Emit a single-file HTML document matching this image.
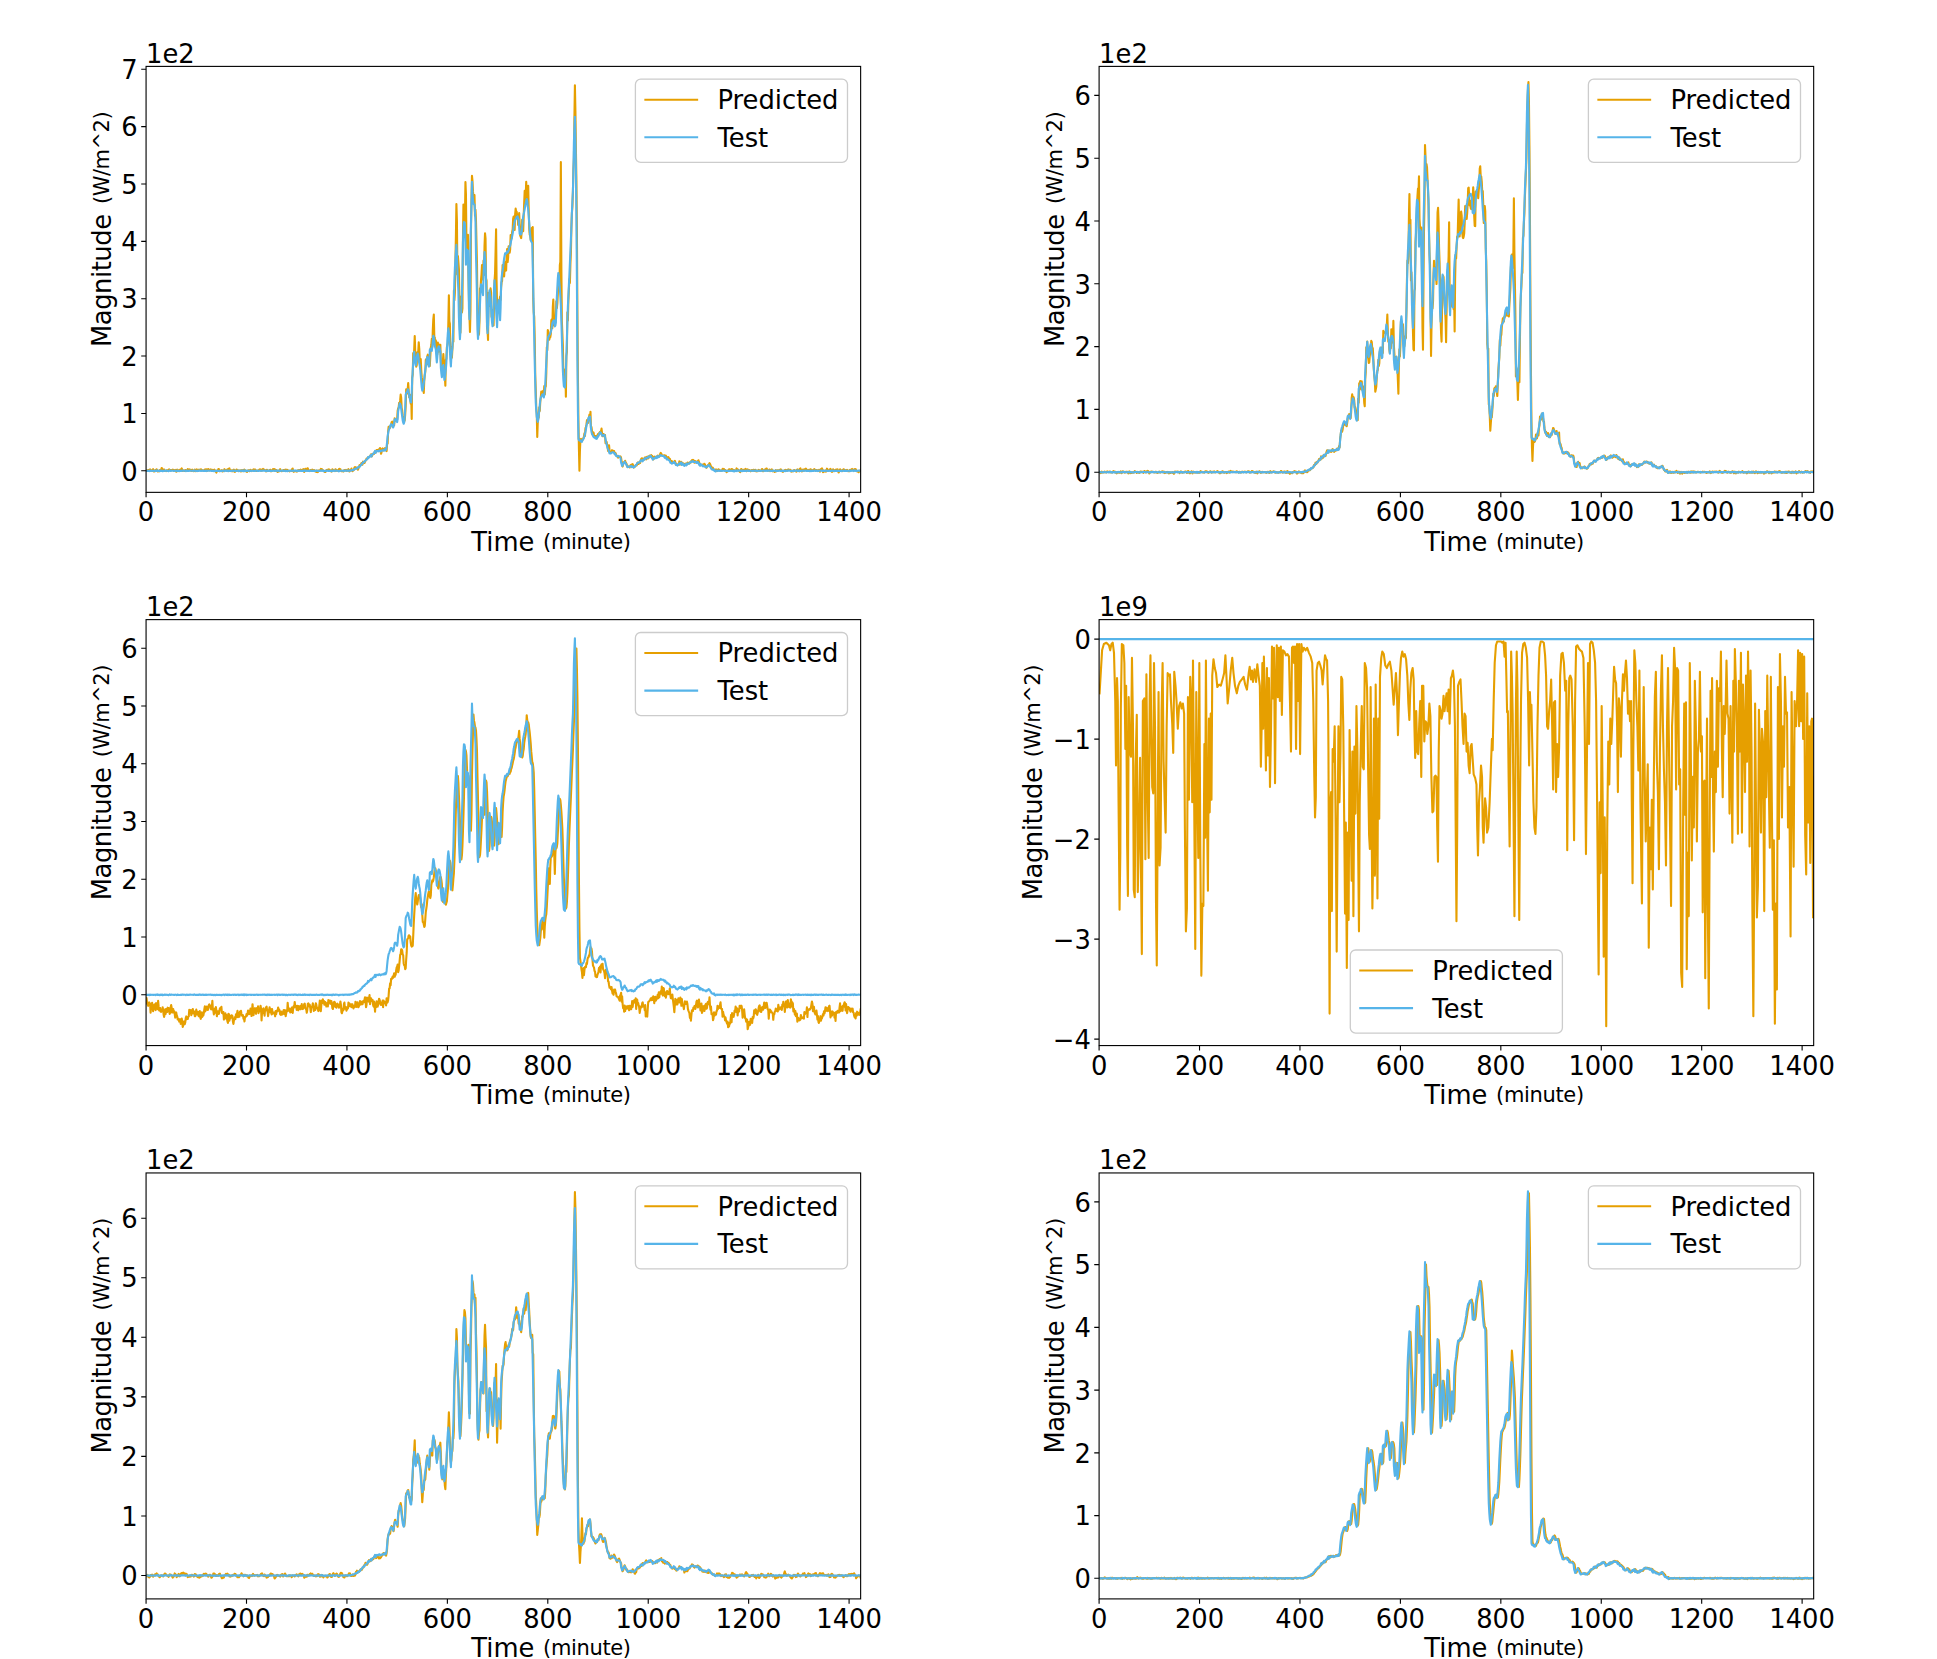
<!DOCTYPE html>
<html><head><meta charset="utf-8"><title>Predicted vs Test</title>
<style>html,body{margin:0;padding:0;background:#fff}svg{display:block}text{font-family:"DejaVu Sans","Liberation Sans",sans-serif;fill:#000}</style></head><body>
<svg width="1937" height="1659" viewBox="0 0 1937 1659">
<rect width="1937" height="1659" fill="#fff"/>
<g id="ax1">
<clipPath id="c0"><rect x="146.07" y="66.4" width="714.57" height="425.95"/></clipPath>
<g clip-path="url(#c0)">
<polyline points="146.07,470.71 146.57,470.98 147.07,470.76 147.58,470.31 148.08,470.09 148.58,470.05 149.08,470.43 149.59,470.77 150.09,469.39 150.59,469.74 151.09,470.67 151.59,470.78 152.1,471.02 152.6,470.14 153.1,469.19 153.6,470.24 154.1,471.57 154.61,470.56 155.11,470.38 155.61,470.67 156.11,469.87 156.62,469.27 157.12,470.01 157.62,471.51 158.12,471.41 158.62,471.04 159.13,471.28 159.63,470.17 160.13,470.31 160.63,470.79 161.13,469.81 161.64,468.04 162.14,468.31 162.64,469.44 163.14,470.61 163.65,470.68 164.15,469.56 164.65,470.9 165.15,471.05 165.65,471.04 166.16,471.09 166.66,470.37 167.16,470.25 167.66,470.9 168.17,470.61 168.67,469.75 169.17,469.45 169.67,470.08 170.17,470.11 170.68,469.94 171.18,470.45 171.68,470.05 172.18,469.92 172.68,469.66 173.19,469.81 173.69,470.88 174.19,470.87 174.69,470.14 175.2,469.92 175.7,470.09 176.2,471.72 176.7,471.53 177.2,469.69 177.71,470.09 178.21,470.33 178.71,470.39 179.21,471.12 179.71,470.62 180.22,469.54 180.72,470.39 181.22,469.57 181.72,468.45 182.23,469.98 182.73,470.88 183.23,470.46 183.73,470.6 184.23,470.97 184.74,470.95 185.24,470.1 185.74,470.29 186.24,470.55 186.74,470.73 187.25,470.41 187.75,469.07 188.25,469.85 188.75,470.36 189.26,469.72 189.76,469.43 190.26,469.67 190.76,469.87 191.26,471 191.77,470.79 192.27,469.61 192.77,470.78 193.27,470.7 193.78,471.25 194.28,470.7 194.78,469.57 195.28,470.7 195.78,471.21 196.29,470.47 196.79,469.39 197.29,470.52 197.79,471.03 198.29,469.87 198.8,469.72 199.3,470.02 199.8,470.1 200.3,469.6 200.81,469.24 201.31,469.55 201.81,470.27 202.31,470.27 202.81,470.36 203.32,470.76 203.82,470.4 204.32,470.14 204.82,469.49 205.32,470.02 205.83,469.34 206.33,469.25 206.83,471.07 207.33,470.56 207.84,469.31 208.34,469 208.84,469.96 209.34,470.39 209.84,470.08 210.35,469.65 210.85,469.29 211.35,469.99 211.85,470.12 212.36,469.96 212.86,469.89 213.36,470.5 213.86,470.32 214.36,469.64 214.87,470.35 215.37,471.33 215.87,471.68 216.37,472.54 216.87,471.44 217.38,470.38 217.88,470.55 218.38,469.08 218.88,468.96 219.39,470.68 219.89,471.29 220.39,470.54 220.89,470.99 221.39,470.58 221.9,470.21 222.4,471.48 222.9,470.91 223.4,471.1 223.9,470.86 224.41,469.2 224.91,469.86 225.41,470.43 225.91,470.35 226.42,470.61 226.92,470.15 227.42,469.24 227.92,470.47 228.42,471.03 228.93,468.69 229.43,468.39 229.93,470.5 230.43,470.13 230.94,470.31 231.44,471.11 231.94,470.45 232.44,470.35 232.94,471.37 233.45,470.61 233.95,469.58 234.45,471.1 234.95,471.84 235.45,470.93 235.96,470.41 236.46,469.56 236.96,469.75 237.46,470.16 237.97,470.78 238.47,471.05 238.97,470.45 239.47,470.77 239.97,470.74 240.48,470.38 240.98,471.44 241.48,471.08 241.98,470.02 242.48,470.84 242.99,471.25 243.49,470.33 243.99,469.73 244.49,469.64 245,470.17 245.5,470.77 246,471.44 246.5,471.26 247,471.99 247.51,470.89 248.01,470.36 248.51,470.47 249.01,470.36 249.51,471.13 250.02,470.41 250.52,469.74 251.02,470.85 251.52,471.07 252.03,470.47 252.53,470.38 253.03,470.19 253.53,469.33 254.03,469.83 254.54,469.95 255.04,469.42 255.54,470.45 256.04,470.92 256.55,470.94 257.05,470.6 257.55,470.89 258.05,471.04 258.55,470.3 259.06,470.11 259.56,469.45 260.06,469.32 260.56,469.7 261.06,470.8 261.57,470.75 262.07,469.67 262.57,469.28 263.07,468.95 263.58,469.55 264.08,469.63 264.58,469.9 265.08,470.11 265.58,470.62 266.09,471.42 266.59,470.03 267.09,469.76 267.59,470.87 268.09,470.63 268.6,470.94 269.1,470.7 269.6,470.2 270.1,469.81 270.61,469.79 271.11,471.32 271.61,471.09 272.11,470.74 272.61,470.42 273.12,468.96 273.62,470.32 274.12,469.74 274.62,469.09 275.13,470.92 275.63,471.04 276.13,470.03 276.63,470.05 277.13,471.53 277.64,471.94 278.14,471.64 278.64,470.81 279.14,471.33 279.64,470.24 280.15,469.15 280.65,470.76 281.15,471.08 281.65,471.26 282.16,470.66 282.66,470.52 283.16,470.91 283.66,470.05 284.16,469.9 284.67,470.74 285.17,470.41 285.67,469.59 286.17,470.04 286.67,470.09 287.18,469.74 287.68,470.66 288.18,470.84 288.68,470.62 289.19,471.01 289.69,471.33 290.19,470.83 290.69,470.64 291.19,470.84 291.7,470.91 292.2,469.07 292.7,468.59 293.2,471.32 293.71,471.79 294.21,471.11 294.71,470.95 295.21,471.15 295.71,470.8 296.22,471.09 296.72,471.63 297.22,470.79 297.72,470.38 298.22,470.16 298.73,470.88 299.23,470.55 299.73,469.95 300.23,470.07 300.74,469.6 301.24,470.21 301.74,470.19 302.24,470.32 302.74,469.78 303.25,469.1 303.75,471.07 304.25,471.9 304.75,470.07 305.25,468.81 305.76,470.56 306.26,470.55 306.76,469.49 307.26,468.56 307.77,468.3 308.27,469.96 308.77,470.79 309.27,470.59 309.77,470.63 310.28,470.31 310.78,470.02 311.28,471.02 311.78,470.83 312.28,469.6 312.79,469.86 313.29,470.56 313.79,470.98 314.29,470.12 314.8,470.38 315.3,471.45 315.8,471.58 316.3,471.87 316.8,470.53 317.31,471.15 317.81,472.11 318.31,470.56 318.81,470.52 319.32,470.56 319.82,470.73 320.32,469.94 320.82,468.95 321.32,469.31 321.83,469.1 322.33,469.72 322.83,470.08 323.33,470.73 323.83,470.77 324.34,471.44 324.84,471.95 325.34,471.98 325.84,471.51 326.35,470.09 326.85,469.87 327.35,469.7 327.85,470.04 328.35,469.85 328.86,469.41 329.36,469.84 329.86,470.26 330.36,470.29 330.86,470.61 331.37,471.63 331.87,471.23 332.37,469.36 332.87,469.76 333.38,470.3 333.88,470.67 334.38,470.85 334.88,471.07 335.38,469.21 335.89,469.58 336.39,470.72 336.89,470.17 337.39,470.69 337.9,470.65 338.4,470.14 338.9,469.26 339.4,468.73 339.9,469.1 340.41,469.31 340.91,470.71 341.41,471.14 341.91,470.99 342.41,471.18 342.92,471.32 343.42,471.53 343.92,470.55 344.42,470.05 344.93,470.47 345.43,470.18 345.93,469.9 346.43,470.82 346.93,470.29 347.44,470.37 347.94,470.73 348.44,469.17 348.94,470.37 349.44,471.47 349.95,470.33 350.45,470.36 350.95,469.69 351.45,468.55 351.96,470.39 352.46,471.06 352.96,470.3 353.46,470.34 353.96,469.6 354.47,467.45 354.97,467.04 355.47,468.46 355.97,467.68 356.48,467.47 356.98,468.38 357.48,468.85 357.98,469.7 358.48,468.26 358.99,467.21 359.49,465.29 359.99,465.1 360.49,465.03 360.99,464.21 361.5,462.99 362,463.26 362.5,464.64 363,461.65 363.51,462.18 364.01,462.58 364.51,463.01 365.01,461.54 365.51,460.88 366.02,459.84 366.52,458.56 367.02,459.1 367.52,458.75 368.02,457.44 368.53,457.14 369.03,456.67 369.53,456.59 370.03,456.36 370.54,455.45 371.04,454.31 371.54,456.36 372.04,455.94 372.54,453.95 373.05,454.39 373.55,453.7 374.05,453.93 374.55,452.33 375.05,451.31 375.56,452.61 376.06,451.9 376.56,449.96 377.06,450.01 377.57,450.48 378.07,450.08 378.57,449.5 379.07,449.58 379.57,448.61 380.08,448.01 380.58,451.2 381.08,453.69 381.58,451.88 382.09,449.12 382.59,448.48 383.09,449.39 383.59,450.34 384.09,450.1 384.6,448.38 385.1,448.02 385.6,449.53 386.1,449.49 386.6,451.06 387.11,443.79 387.61,443.58 388.11,431.94 388.61,426.96 389.12,426.59 389.62,427.32 390.12,427.72 390.62,426.28 391.12,424.59 391.63,422.2 392.13,421.64 392.63,423.53 393.13,425.25 393.63,423.82 394.14,425.32 394.64,418.22 395.14,420.17 395.64,419.8 396.15,420.66 396.65,420.76 397.15,419.58 397.65,410.72 398.15,408.56 398.66,407.46 399.16,402.88 399.66,404.08 400.16,400.45 400.67,394.54 401.17,397.73 401.67,408.1 402.17,410.2 402.67,415.14 403.18,417.56 403.68,420.84 404.18,420.25 404.68,420.78 405.18,414.67 405.69,406.07 406.19,389.39 406.69,389.99 407.19,393.46 407.7,389.11 408.2,383.17 408.7,390.85 409.2,397.28 409.7,394.5 410.21,395.1 410.71,403.68 411.21,397.27 411.71,418.97 412.21,377.78 412.72,374.62 413.22,352.95 413.72,361.55 414.22,348.8 414.73,335.98 415.23,352.08 415.73,353.47 416.23,366.72 416.73,365.19 417.24,352.29 417.74,357.83 418.24,351.79 418.74,342.29 419.25,348.78 419.75,360.27 420.25,368.38 420.75,359.12 421.25,370.31 421.76,377.42 422.26,379.89 422.76,385.32 423.26,387.09 423.76,392.91 424.27,380.42 424.77,375.43 425.27,371.92 425.77,359.92 426.28,359.22 426.78,364.3 427.28,356.31 427.78,354.69 428.28,355.87 428.79,365.38 429.29,365.71 429.79,366.03 430.29,356.68 430.79,347.68 431.3,345.01 431.8,338.74 432.3,347.08 432.8,330.17 433.31,319.34 433.81,314.51 434.31,337.21 434.81,337.44 435.31,346.43 435.82,340.3 436.32,345.79 436.82,351.19 437.32,354.28 437.82,342.43 438.33,351.59 438.83,344.3 439.33,346.73 439.83,351.34 440.34,344.69 440.84,361.28 441.34,366.21 441.84,368.05 442.34,372.72 442.85,361.82 443.35,354.11 443.85,362.58 444.35,372.67 444.86,376.54 445.36,385.72 445.86,359.71 446.36,358.97 446.86,347.31 447.37,345.18 447.87,342.84 448.37,321.56 448.87,295.25 449.37,321.34 449.88,323.74 450.38,354.04 450.88,354.49 451.38,346.99 451.89,357.69 452.39,349.07 452.89,341.97 453.39,341.66 453.89,290.45 454.4,300.28 454.9,292.73 455.4,261.72 455.9,236.52 456.4,204.03 456.91,220.19 457.41,274.56 457.91,256.01 458.41,262.57 458.92,269.25 459.42,302.17 459.92,329.48 460.42,332.64 460.92,312.6 461.43,296.28 461.93,312.35 462.43,308.36 462.93,242.31 463.44,204.56 463.94,219.12 464.44,220.95 464.94,217.59 465.44,181.95 465.95,194.28 466.45,243.93 466.95,255.2 467.45,245.98 467.95,234.74 468.46,275.48 468.96,299.67 469.46,316.21 469.96,331.86 470.47,310.78 470.97,230.34 471.47,199.61 471.97,175.8 472.47,180.8 472.98,191.66 473.48,197.31 473.98,200.21 474.48,195.03 474.98,215.63 475.49,209.9 475.99,220.97 476.49,242.56 476.99,263.63 477.5,311.08 478,330.15 478.5,335.14 479,333.86 479.5,321.05 480.01,288.27 480.51,290.1 481.01,279.88 481.51,274.28 482.02,265.13 482.52,279.45 483.02,278.5 483.52,260.5 484.02,275.07 484.53,245.53 485.03,233.29 485.53,238.51 486.03,278.17 486.53,280.8 487.04,328.15 487.54,330.45 488.04,339.93 488.54,292.78 489.05,298.5 489.55,300.9 490.05,305.85 490.55,288.41 491.05,292.12 491.56,316.86 492.06,309.9 492.56,316.67 493.06,314.41 493.56,325.4 494.07,302.96 494.57,280.53 495.07,272.71 495.57,251.71 496.08,229.27 496.58,281.13 497.08,306.06 497.58,302.27 498.08,304.15 498.59,305.28 499.09,310.08 499.59,299.79 500.09,296.58 500.59,299.85 501.1,287.96 501.6,282.09 502.1,280.99 502.6,264.94 503.11,266.57 503.61,274.48 504.11,276.42 504.61,268.28 505.11,262.04 505.62,270.66 506.12,270.5 506.62,256.21 507.12,249.11 507.63,262.05 508.13,257.51 508.63,246.35 509.13,249.49 509.63,252.81 510.14,249.47 510.64,235.15 511.14,239.2 511.64,237.83 512.14,231.97 512.65,229.45 513.15,218.67 513.65,216.52 514.15,221.9 514.66,230.07 515.16,213.99 515.66,208.54 516.16,211.99 516.66,211.63 517.17,215.28 517.67,215.55 518.17,224.92 518.67,221.42 519.17,213.08 519.68,224.09 520.18,235.75 520.68,236.56 521.18,238.12 521.69,231.2 522.19,219.8 522.69,219.78 523.19,231.12 523.69,216.38 524.2,202.35 524.7,190.71 525.2,206.38 525.7,196.4 526.21,181.83 526.71,196.18 527.21,199.36 527.71,195.27 528.21,185.74 528.72,210.1 529.22,228.55 529.72,234.57 530.22,235.73 530.72,239.93 531.23,237.12 531.73,228.07 532.23,236.66 532.73,227.11 533.24,298.91 533.74,312.45 534.24,317.03 534.74,338.69 535.24,374.84 535.75,389.26 536.25,407.95 536.75,413.03 537.25,436.95 537.75,422.66 538.26,417.7 538.76,417.65 539.26,407.32 539.76,410.91 540.27,401.67 540.77,397.38 541.27,391.62 541.77,395.15 542.27,394.11 542.78,391.2 543.28,390.71 543.78,393.53 544.28,386.02 544.79,394.37 545.29,387.82 545.79,386.09 546.29,373.26 546.79,347.35 547.3,350.14 547.8,330.02 548.3,331.73 548.8,337.75 549.3,339.64 549.81,336.78 550.31,337.13 550.81,333.73 551.31,320.2 551.82,319.25 552.32,328.23 552.82,306.8 553.32,299.61 553.82,316.25 554.33,325.51 554.83,317.69 555.33,322.68 555.83,317.04 556.33,301.39 556.84,308.09 557.34,303.39 557.84,293.81 558.34,275.68 558.85,287.43 559.35,288.27 559.85,264.88 560.35,261.87 560.85,162.15 561.36,267.43 561.86,321.26 562.36,333.36 562.86,345.22 563.36,371.34 563.87,370.34 564.37,385.22 564.87,383.18 565.37,369.18 565.88,396.62 566.38,355.77 566.88,352.09 567.38,312.38 567.88,320.59 568.39,300.61 568.89,289.42 569.39,279.07 569.89,282.89 570.4,264.59 570.9,253 571.4,227.14 571.9,213.09 572.4,206.79 572.91,191.5 573.41,169.5 573.91,159.66 574.41,117.06 574.91,85.27 575.42,111.29 575.92,149.47 576.42,181.78 576.92,233.21 577.43,313.94 577.93,378.2 578.43,421.47 578.93,448.71 579.43,470.8 579.94,450.07 580.44,439.42 580.94,438.85 581.44,440.1 581.94,439.73 582.45,440.09 582.95,439.28 583.45,437.86 583.95,436.56 584.46,433.19 584.96,435.99 585.46,428.11 585.96,427.22 586.46,424.39 586.97,420.16 587.47,419.63 587.97,422.97 588.47,420.87 588.98,417.19 589.48,414.46 589.98,419.23 590.48,411.88 590.98,428.24 591.49,427.07 591.99,430.95 592.49,434.56 592.99,432.9 593.49,432.39 594,434.7 594.5,436.24 595,436.26 595.5,436.06 596.01,436.24 596.51,438.23 597.01,435.6 597.51,435.83 598.01,434.02 598.52,434.86 599.02,433.68 599.52,432.53 600.02,431.85 600.52,433.55 601.03,431.72 601.53,428.64 602.03,433.35 602.53,436.19 603.04,435.08 603.54,434.05 604.04,435.29 604.54,436.67 605.04,435.09 605.55,443.28 606.05,441.72 606.55,441.71 607.05,444.24 607.56,446.57 608.06,450.78 608.56,451.43 609.06,445.25 609.56,451.27 610.07,452.46 610.57,452.45 611.07,452.06 611.57,451.36 612.07,450.15 612.58,451.1 613.08,451.55 613.58,450.85 614.08,450.97 614.59,453.08 615.09,454.36 615.59,453.13 616.09,454.71 616.59,455.62 617.1,455.83 617.6,455.97 618.1,457.64 618.6,456.99 619.1,456.96 619.61,456.48 620.11,456.72 620.61,456.56 621.11,458.11 621.62,461.37 622.12,464.37 622.62,466.56 623.12,464.2 623.62,462.34 624.13,462.35 624.63,462.37 625.13,460.76 625.63,462.43 626.13,463.06 626.64,464.19 627.14,466.6 627.64,465.77 628.14,466.46 628.65,466.63 629.15,467.13 629.65,467.51 630.15,466.12 630.65,465.07 631.16,465.14 631.66,464.5 632.16,464.43 632.66,464.04 633.17,465.56 633.67,467.62 634.17,466.81 634.67,466.68 635.17,465.81 635.68,465.82 636.18,464.84 636.68,465.46 637.18,463.62 637.68,462.48 638.19,464.03 638.69,463.95 639.19,462.24 639.69,462.22 640.2,462.83 640.7,460.38 641.2,458.94 641.7,458.39 642.2,458.32 642.71,459.03 643.21,459.5 643.71,459.95 644.21,458.38 644.71,457.86 645.22,457.32 645.72,458.31 646.22,459.4 646.72,457.25 647.23,456.61 647.73,457.93 648.23,458.36 648.73,457.48 649.23,455.89 649.74,455.59 650.24,456.49 650.74,455.34 651.24,455.11 651.75,457.63 652.25,456.08 652.75,458.19 653.25,459.5 653.75,458.25 654.26,456.88 654.76,456.56 655.26,457.75 655.76,457.09 656.26,457.28 656.77,456.7 657.27,456.47 657.77,455.48 658.27,456.37 658.78,456.76 659.28,456.8 659.78,456.02 660.28,453.65 660.78,452.98 661.29,453.67 661.79,454.76 662.29,455.5 662.79,455.89 663.29,455.53 663.8,455.89 664.3,455.2 664.8,455.37 665.3,456.29 665.81,455.51 666.31,457.69 666.81,458.58 667.31,457.52 667.81,457.23 668.32,457.09 668.82,457.95 669.32,458.97 669.82,458.73 670.33,460.17 670.83,461.31 671.33,461.24 671.83,460.99 672.33,462.19 672.84,461.99 673.34,462.62 673.84,461.99 674.34,461.59 674.84,460.94 675.35,462.35 675.85,464.54 676.35,464.25 676.85,464.09 677.36,464.74 677.86,464.67 678.36,464.54 678.86,464.76 679.36,461.26 679.87,461.93 680.37,464.39 680.87,462.79 681.37,461.96 681.87,463.08 682.38,463.95 682.88,463.19 683.38,463.37 683.88,464.72 684.39,465.08 684.89,464.71 685.39,463.72 685.89,464.02 686.39,464.76 686.9,464.28 687.4,462.69 687.9,462.49 688.4,463.28 688.9,463.5 689.41,463.52 689.91,462.65 690.41,461.84 690.91,462.4 691.42,460.99 691.92,460.19 692.42,460.63 692.92,459.9 693.42,459.93 693.93,461.95 694.43,462.67 694.93,461.01 695.43,461.32 695.94,462.5 696.44,461.61 696.94,462.02 697.44,461.83 697.94,461.16 698.45,460.28 698.95,461.79 699.45,463.36 699.95,463.85 700.45,465.31 700.96,464.99 701.46,464.72 701.96,464.8 702.46,465.1 702.97,464.59 703.47,464.7 703.97,464.06 704.47,463.75 704.97,464.83 705.48,465.68 705.98,467.31 706.48,467.81 706.98,466.8 707.48,465.95 707.99,465.11 708.49,464.7 708.99,464.14 709.49,463.18 710,463.89 710.5,465.19 711,466.5 711.5,468.15 712,468.76 712.51,467.57 713.01,468.03 713.51,469.31 714.01,469.84 714.52,469.93 715.02,469.94 715.52,470.2 716.02,469.42 716.52,470.06 717.03,471.17 717.53,470.24 718.03,469.48 718.53,469.37 719.03,469.83 719.54,470.33 720.04,470.27 720.54,471.05 721.04,470.91 721.55,470.5 722.05,470.33 722.55,469.04 723.05,468.79 723.55,469.22 724.06,469.17 724.56,470.28 725.06,470.75 725.56,470.03 726.06,470.75 726.57,472.26 727.07,471.54 727.57,470.9 728.07,470.72 728.58,469.7 729.08,469.25 729.58,469.58 730.08,469.76 730.58,470.02 731.09,470.47 731.59,469.13 732.09,469.08 732.59,470.23 733.1,469.94 733.6,469.92 734.1,470.04 734.6,471.08 735.1,470.82 735.61,470.88 736.11,469.86 736.61,468.44 737.11,469.29 737.61,469.94 738.12,469.55 738.62,470.2 739.12,471.02 739.62,471.55 740.13,472.19 740.63,471.15 741.13,468.95 741.63,469.3 742.13,469.61 742.64,469.86 743.14,469.87 743.64,469.79 744.14,470.57 744.64,470.51 745.15,469.19 745.65,468.92 746.15,470.46 746.65,471.23 747.16,470.12 747.66,469.39 748.16,469.92 748.66,470.39 749.16,470.08 749.67,470.21 750.17,470.81 750.67,471.3 751.17,470.86 751.67,469.98 752.18,470.5 752.68,470.47 753.18,469.73 753.68,469.75 754.19,470.98 754.69,470.93 755.19,469.83 755.69,470.18 756.19,471.36 756.7,471.3 757.2,470.66 757.7,471.19 758.2,470.58 758.71,469.87 759.21,470.31 759.71,470.94 760.21,471 760.71,470.74 761.22,470.58 761.72,469.27 762.22,469.11 762.72,471.15 763.22,471.17 763.73,470.62 764.23,470.49 764.73,469.43 765.23,469.5 765.74,469.36 766.24,468.52 766.74,468.59 767.24,470.34 767.74,470.72 768.25,470.73 768.75,470.28 769.25,469.48 769.75,470.43 770.25,471.18 770.76,470.92 771.26,469.61 771.76,469.34 772.26,470.83 772.77,471.38 773.27,471.08 773.77,470.86 774.27,471.08 774.77,471.88 775.28,471.42 775.78,470.21 776.28,470.65 776.78,471.08 777.29,470.38 777.79,470.27 778.29,470.38 778.79,470.47 779.29,470.09 779.8,469.8 780.3,470.14 780.8,469.42 781.3,469.88 781.8,471.26 782.31,471.35 782.81,471.85 783.31,471.48 783.81,471 784.32,470.96 784.82,470.18 785.32,469.88 785.82,470.27 786.32,470.67 786.83,470.19 787.33,469.9 787.83,469.91 788.33,469.44 788.83,469.87 789.34,469.88 789.84,469.77 790.34,469.68 790.84,470.36 791.35,471.52 791.85,471.63 792.35,471.11 792.85,471.23 793.35,471.12 793.86,470.25 794.36,470.04 794.86,470.84 795.36,471.21 795.87,471.01 796.37,471.64 796.87,470.02 797.37,469.44 797.87,470.62 798.38,469.76 798.88,470.26 799.38,471.38 799.88,468.93 800.38,468.34 800.89,469.79 801.39,470.74 801.89,471.44 802.39,470.76 802.9,469.56 803.4,470.56 803.9,470.77 804.4,469.49 804.9,468.93 805.41,468.97 805.91,468.66 806.41,469.21 806.91,469.69 807.41,469.87 807.92,470.36 808.42,469.94 808.92,470.56 809.42,471.15 809.93,469.91 810.43,469.2 810.93,469.4 811.43,470.14 811.93,470.34 812.44,470.53 812.94,470.13 813.44,470.09 813.94,469.5 814.44,469.17 814.95,470.21 815.45,470.73 815.95,470.05 816.45,469.97 816.96,470.08 817.46,470.52 817.96,471.1 818.46,470.89 818.96,469.82 819.47,470.38 819.97,471.66 820.47,470.42 820.97,469.08 821.48,469.01 821.98,468.29 822.48,469.54 822.98,472.11 823.48,472.01 823.99,470.79 824.49,470.7 824.99,470.6 825.49,471.31 825.99,471.71 826.5,470.2 827,468.68 827.5,469.38 828,470.99 828.51,470.85 829.01,470.62 829.51,470.36 830.01,469.13 830.51,468.94 831.02,469.92 831.52,471.16 832.02,471.87 832.52,470.51 833.02,469.27 833.53,470.24 834.03,471.15 834.53,470.98 835.03,470.12 835.54,470.54 836.04,469.6 836.54,469.46 837.04,469.81 837.54,469.29 838.05,471 838.55,472.49 839.05,471.84 839.55,470.59 840.06,469.29 840.56,469.98 841.06,470.82 841.56,470.56 842.06,471.19 842.57,470.42 843.07,469.56 843.57,469.3 844.07,469.47 844.57,469.93 845.08,470.2 845.58,470.27 846.08,470.33 846.58,470.81 847.09,469.91 847.59,470.71 848.09,471.09 848.59,471.12 849.09,471.29 849.6,470.2 850.1,469.73 850.6,470.04 851.1,470.1 851.6,469.54 852.11,468.94 852.61,469.46 853.11,470.13 853.61,470.99 854.12,469.8 854.62,469.23 855.12,469.89 855.62,469.15 856.12,469.96 856.63,471.1 857.13,471.42 857.63,471.35 858.13,471.22 858.64,472.21 859.14,471.58 859.64,470.63 860.14,470.86 860.64,471.06 861.15,469.34 861.65,468.85 862.15,468.97 862.65,469.09 863.15,470 863.66,469.6 864.16,469.36 864.66,469.68 865.16,470.23 865.67,471.92 866.17,471.5 866.67,469.97 867.17,470.42 867.67,470.03 868.18,470.2 868.68,470.74" fill="none" stroke="#E69F00" stroke-width="2.1" stroke-linejoin="round" stroke-linecap="square"/>
<polyline points="146.07,470.51 146.57,470.88 147.07,470.79 147.58,470.73 148.08,470.94 148.58,470.8 149.08,470.8 149.59,471.1 150.09,470.62 150.59,470.7 151.09,470.91 151.59,470.83 152.1,470.71 152.6,470.84 153.1,470.84 153.6,471.05 154.1,470.7 154.61,470.78 155.11,470.75 155.61,471.06 156.11,470.52 156.62,470.77 157.12,470.87 157.62,470.45 158.12,470.81 158.62,471.05 159.13,470.87 159.63,471.19 160.13,470.62 160.63,470.87 161.13,470.93 161.64,470.62 162.14,471.08 162.64,470.71 163.14,471.16 163.65,470.91 164.15,471.01 164.65,470.55 165.15,470.5 165.65,470.86 166.16,470.66 166.66,470.83 167.16,470.7 167.66,470.93 168.17,471.09 168.67,471.11 169.17,470.73 169.67,470.41 170.17,470.75 170.68,470.89 171.18,470.47 171.68,470.76 172.18,470.78 172.68,470.76 173.19,470.82 173.69,470.85 174.19,471.05 174.69,470.71 175.2,470.82 175.7,470.59 176.2,470.86 176.7,471.13 177.2,470.82 177.71,470.51 178.21,470.87 178.71,470.95 179.21,471.01 179.71,470.98 180.22,470.85 180.72,471 181.22,470.54 181.72,470.85 182.23,470.78 182.73,470.55 183.23,470.54 183.73,470.84 184.23,470.74 184.74,470.67 185.24,470.83 185.74,471.11 186.24,470.69 186.74,470.65 187.25,470.73 187.75,470.96 188.25,470.83 188.75,470.9 189.26,470.85 189.76,470.58 190.26,470.54 190.76,470.68 191.26,470.71 191.77,470.68 192.27,470.8 192.77,470.81 193.27,470.92 193.78,470.81 194.28,470.41 194.78,470.65 195.28,470.86 195.78,470.88 196.29,470.95 196.79,470.74 197.29,470.73 197.79,471.05 198.29,470.72 198.8,470.9 199.3,470.55 199.8,470.77 200.3,470.5 200.81,470.88 201.31,470.85 201.81,470.75 202.31,470.62 202.81,470.7 203.32,471.01 203.82,470.77 204.32,470.8 204.82,470.87 205.32,470.91 205.83,470.5 206.33,470.87 206.83,470.95 207.33,470.69 207.84,470.78 208.34,470.81 208.84,470.67 209.34,470.72 209.84,470.74 210.35,470.63 210.85,470.75 211.35,470.91 211.85,470.86 212.36,470.89 212.86,470.76 213.36,470.99 213.86,471.12 214.36,470.78 214.87,471.03 215.37,471.14 215.87,470.74 216.37,470.92 216.87,470.71 217.38,470.89 217.88,470.99 218.38,471.01 218.88,470.89 219.39,470.85 219.89,470.94 220.39,470.85 220.89,471.06 221.39,470.8 221.9,471.11 222.4,470.83 222.9,470.68 223.4,470.61 223.9,470.5 224.41,471.07 224.91,470.67 225.41,470.59 225.91,470.63 226.42,470.96 226.92,470.73 227.42,470.48 227.92,471.06 228.42,470.72 228.93,470.61 229.43,470.92 229.93,470.7 230.43,470.98 230.94,470.94 231.44,470.94 231.94,470.77 232.44,470.82 232.94,470.64 233.45,470.96 233.95,470.82 234.45,470.63 234.95,470.7 235.45,471.03 235.96,470.69 236.46,470.88 236.96,470.73 237.46,470.75 237.97,470.59 238.47,470.78 238.97,471.12 239.47,471.04 239.97,470.67 240.48,470.84 240.98,470.6 241.48,470.75 241.98,470.93 242.48,470.61 242.99,470.94 243.49,471.15 243.99,470.44 244.49,471.13 245,470.69 245.5,470.64 246,470.77 246.5,471.09 247,470.63 247.51,471.05 248.01,471.03 248.51,470.86 249.01,470.66 249.51,470.75 250.02,470.66 250.52,470.88 251.02,470.83 251.52,471 252.03,470.85 252.53,470.7 253.03,470.85 253.53,470.72 254.03,470.9 254.54,470.9 255.04,470.79 255.54,470.83 256.04,470.7 256.55,470.77 257.05,470.5 257.55,470.84 258.05,470.84 258.55,470.98 259.06,470.8 259.56,470.68 260.06,470.93 260.56,470.81 261.06,470.68 261.57,470.82 262.07,470.89 262.57,470.63 263.07,470.78 263.58,470.73 264.08,470.6 264.58,470.6 265.08,470.86 265.58,470.89 266.09,470.75 266.59,470.82 267.09,471.13 267.59,470.58 268.09,470.8 268.6,470.67 269.1,471 269.6,470.58 270.1,470.9 270.61,470.82 271.11,471.04 271.61,470.83 272.11,470.84 272.61,470.83 273.12,470.72 273.62,470.79 274.12,470.63 274.62,470.88 275.13,470.97 275.63,470.8 276.13,470.69 276.63,470.59 277.13,470.66 277.64,471.1 278.14,470.74 278.64,470.55 279.14,470.79 279.64,470.89 280.15,470.75 280.65,470.89 281.15,470.69 281.65,470.8 282.16,470.56 282.66,470.71 283.16,470.92 283.66,470.7 284.16,470.64 284.67,470.9 285.17,470.87 285.67,471.2 286.17,470.64 286.67,470.9 287.18,471.17 287.68,471.1 288.18,470.84 288.68,470.67 289.19,470.82 289.69,470.72 290.19,470.99 290.69,471.03 291.19,470.65 291.7,470.72 292.2,470.81 292.7,470.58 293.2,470.96 293.71,470.87 294.21,470.62 294.71,470.48 295.21,470.8 295.71,470.51 296.22,470.9 296.72,470.74 297.22,470.83 297.72,471.07 298.22,470.76 298.73,470.64 299.23,470.83 299.73,470.81 300.23,470.56 300.74,471.02 301.24,471.06 301.74,470.91 302.24,471.01 302.74,470.57 303.25,470.75 303.75,470.95 304.25,470.91 304.75,470.31 305.25,470.91 305.76,470.93 306.26,470.75 306.76,470.69 307.26,470.76 307.77,470.96 308.27,471 308.77,470.7 309.27,470.81 309.77,471.08 310.28,470.6 310.78,470.67 311.28,470.84 311.78,470.84 312.28,470.76 312.79,470.92 313.29,471.03 313.79,470.74 314.29,471.05 314.8,470.73 315.3,471.05 315.8,470.82 316.3,470.82 316.8,470.49 317.31,470.98 317.81,471.04 318.31,470.91 318.81,470.99 319.32,470.9 319.82,470.73 320.32,470.67 320.82,470.51 321.32,470.93 321.83,470.35 322.33,470.46 322.83,470.84 323.33,471.19 323.83,470.81 324.34,470.79 324.84,471.2 325.34,470.79 325.84,470.83 326.35,470.94 326.85,470.69 327.35,470.63 327.85,470.88 328.35,470.76 328.86,470.91 329.36,470.94 329.86,470.79 330.36,470.71 330.86,470.9 331.37,471.18 331.87,470.7 332.37,471.07 332.87,470.78 333.38,470.49 333.88,470.8 334.38,471 334.88,471.05 335.38,470.6 335.89,470.8 336.39,470.71 336.89,470.64 337.39,470.81 337.9,470.85 338.4,470.96 338.9,471.33 339.4,471.06 339.9,470.81 340.41,470.83 340.91,470.73 341.41,470.82 341.91,470.77 342.41,470.66 342.92,470.95 343.42,470.85 343.92,471.08 344.42,470.63 344.93,470.79 345.43,470.72 345.93,470.53 346.43,470.61 346.93,470.81 347.44,470.64 347.94,471 348.44,470.64 348.94,470.65 349.44,470.91 349.95,470.35 350.45,470.64 350.95,470.35 351.45,470.48 351.96,470.17 352.46,469.96 352.96,470.14 353.46,470.04 353.96,469.57 354.47,469.15 354.97,469.1 355.47,468.86 355.97,468.4 356.48,468.68 356.98,468.05 357.48,468.33 357.98,467.13 358.48,467.32 358.99,467.16 359.49,466.39 359.99,466.52 360.49,465.3 360.99,465.16 361.5,464.51 362,464.19 362.5,462.87 363,462.94 363.51,462.15 364.01,461.72 364.51,461.92 365.01,460.75 365.51,460.39 366.02,459.93 366.52,459.82 367.02,459.35 367.52,458.25 368.02,457.05 368.53,458.14 369.03,456.98 369.53,456.99 370.03,455.94 370.54,455.66 371.04,454.87 371.54,456.4 372.04,454.8 372.54,454.55 373.05,453.64 373.55,453.54 374.05,453.06 374.55,451.96 375.05,450.94 375.56,453.04 376.06,451.53 376.56,451 377.06,450.97 377.57,451 378.07,451.42 378.57,451.25 379.07,450.45 379.57,450.35 380.08,450.92 380.58,451.44 381.08,450.87 381.58,450.92 382.09,450.35 382.59,450.4 383.09,450.62 383.59,450.05 384.09,450.65 384.6,449.52 385.1,449.24 385.6,450.34 386.1,449.36 386.6,447.11 387.11,441.51 387.61,436.71 388.11,433.28 388.61,430.52 389.12,429.39 389.62,427.82 390.12,426.4 390.62,424.92 391.12,424.21 391.63,424.41 392.13,425.51 392.63,426.35 393.13,427.53 393.63,426.1 394.14,423.3 394.64,419.71 395.14,418.99 395.64,419.26 396.15,419.6 396.65,420.78 397.15,422.11 397.65,418.74 398.15,411.29 398.66,408.51 399.16,406.02 399.66,403.31 400.16,403.72 400.67,405.26 401.17,408.39 401.67,412.59 402.17,416.44 402.67,420.17 403.18,422.47 403.68,423.78 404.18,422.64 404.68,417.48 405.18,408.69 405.69,394.59 406.19,393.21 406.69,392.01 407.19,391.72 407.7,389.23 408.2,389.78 408.7,392.48 409.2,395.49 409.7,398.04 410.21,400.64 410.71,402.29 411.21,402.34 411.71,392.47 412.21,379.42 412.72,370.58 413.22,363.14 413.72,356.89 414.22,351.72 414.73,359.83 415.23,362.33 415.73,365.45 416.23,362.12 416.73,357.14 417.24,355.15 417.74,353.6 418.24,355.42 418.74,359.96 419.25,363.37 419.75,365.55 420.25,369.58 420.75,375.54 421.25,381.76 421.76,387.41 422.26,390.64 422.76,389.68 423.26,386.49 423.76,383.13 424.27,379.13 424.77,374.31 425.27,370.34 425.77,366.85 426.28,362.09 426.78,358.97 427.28,357 427.78,360.69 428.28,363.9 428.79,366.56 429.29,365.89 429.79,349.91 430.29,348.93 430.79,348.66 431.3,349.67 431.8,350.98 432.3,347.1 432.8,340.64 433.31,335.88 433.81,337.3 434.31,341.41 434.81,345.84 435.31,347.49 435.82,349.49 436.32,356.54 436.82,362.45 437.32,356.58 437.82,350.41 438.33,347.05 438.83,346.24 439.33,346.95 439.83,348.95 440.34,351.58 440.84,367.73 441.34,373.2 441.84,377.16 442.34,372.79 442.85,366.63 443.35,365.09 443.85,371.9 444.35,380.06 444.86,377.96 445.36,373.43 445.86,369.13 446.36,362.82 446.86,351.44 447.37,340.86 447.87,332.55 448.37,328.34 448.87,332.79 449.37,338.5 449.88,350.76 450.38,359.58 450.88,366.46 451.38,357.13 451.89,351.58 452.39,347.74 452.89,336.14 453.39,322.96 453.89,302.27 454.4,279.56 454.9,268.13 455.4,259.92 455.9,251.24 456.4,244.84 456.91,254.2 457.41,270.5 457.91,280.5 458.41,291.62 458.92,317.53 459.42,330.26 459.92,339.08 460.42,331.34 460.92,318.74 461.43,306.86 461.93,291.65 462.43,275.98 462.93,243.6 463.44,229.59 463.94,222.06 464.44,222.42 464.94,224.71 465.44,243.85 465.95,264.7 466.45,257.66 466.95,249.45 467.45,250.23 467.95,250.62 468.46,276.39 468.96,308.61 469.46,319.18 469.96,297.13 470.47,243.37 470.97,223.49 471.47,205.49 471.97,181.68 472.47,195.09 472.98,199.54 473.48,203.99 473.98,204.38 474.48,204.46 474.98,211.68 475.49,221.62 475.99,254.6 476.49,274.85 476.99,298.59 477.5,330.31 478,338.88 478.5,331.77 479,324.15 479.5,313.9 480.01,303.43 480.51,291.94 481.01,284.4 481.51,285.65 482.02,287.41 482.52,291.78 483.02,295.14 483.52,275.7 484.02,261.55 484.53,251.95 485.03,257.98 485.53,265.05 486.03,280.07 486.53,297.41 487.04,324.09 487.54,333.29 488.04,325.74 488.54,313.04 489.05,295.07 489.55,290.18 490.05,294.37 490.55,297.45 491.05,306.68 491.56,316.24 492.06,322.66 492.56,326.27 493.06,319.26 493.56,307.72 494.07,287.25 494.57,280.22 495.07,287.83 495.57,297.29 496.08,309.06 496.58,318.75 497.08,327.29 497.58,313.66 498.08,305.46 498.59,300.05 499.09,305.86 499.59,310.91 500.09,320.26 500.59,308.31 501.1,285.92 501.6,277.94 502.1,273.29 502.6,270.93 503.11,267.7 503.61,262.78 504.11,258.56 504.61,256 505.11,253.31 505.62,253.57 506.12,253.7 506.62,252.8 507.12,251.43 507.63,252.65 508.13,251.33 508.63,250.82 509.13,248.28 509.63,246.32 510.14,245.72 510.64,243.52 511.14,240.69 511.64,238.73 512.14,236.37 512.65,233.45 513.15,230.86 513.65,226.46 514.15,224.55 514.66,221.59 515.16,219.82 515.66,219.11 516.16,218.33 516.66,217.02 517.17,216.84 517.67,216.46 518.17,218.66 518.67,219.34 519.17,226.9 519.68,233.94 520.18,234.19 520.68,234.47 521.18,234.1 521.69,232.15 522.19,227.58 522.69,220.23 523.19,216.51 523.69,213.85 524.2,211.65 524.7,209.12 525.2,205.33 525.7,203.46 526.21,200.86 526.71,199.07 527.21,200.64 527.71,205.92 528.21,209.84 528.72,216.11 529.22,222.87 529.72,230.01 530.22,235.62 530.72,240.03 531.23,241.46 531.73,242.28 532.23,243.13 532.73,264.97 533.24,289.34 533.74,313.66 534.24,338.17 534.74,362.85 535.24,383.57 535.75,402.35 536.25,410.86 536.75,416.92 537.25,419.52 537.75,421.84 538.26,419.65 538.76,414.45 539.26,410.79 539.76,404.97 540.27,400.07 540.77,397.4 541.27,396.59 541.77,395.61 542.27,394.52 542.78,394.37 543.28,395.49 543.78,397.5 544.28,394.56 544.79,389.28 545.29,383.34 545.79,372.6 546.29,362.07 546.79,353.75 547.3,345.47 547.8,340.25 548.3,336.45 548.8,336.36 549.3,334.92 549.81,334.48 550.31,333.25 550.81,331.84 551.31,330.16 551.82,326.55 552.32,323.18 552.82,321.97 553.32,320.83 553.82,320.27 554.33,323.1 554.83,326.39 555.33,325.73 555.83,322.91 556.33,311.19 556.84,297.01 557.34,287.18 557.84,278.14 558.34,272.96 558.85,275.57 559.35,282.35 559.85,288.49 560.35,296.49 560.85,305.07 561.36,320.9 561.86,338.31 562.36,355.54 562.86,370.55 563.36,379.67 563.87,386.27 564.37,386.95 564.87,387.51 565.37,380.38 565.88,369.66 566.38,356.26 566.88,339.02 567.38,321.25 567.88,306.44 568.39,295.77 568.89,284.8 569.39,274.98 569.89,263.37 570.4,251.2 570.9,239.19 571.4,227.2 571.9,212.27 572.4,201.44 572.91,191.69 573.41,169.47 573.91,141.87 574.41,127.43 574.91,116.88 575.42,140.95 575.92,168.31 576.42,215.32 576.92,284.16 577.43,361.32 577.93,412.35 578.43,438.78 578.93,440.17 579.43,440.3 579.94,440.75 580.44,440.32 580.94,441.6 581.44,441.46 581.94,441.91 582.45,440.02 582.95,439.53 583.45,438.86 583.95,437.84 584.46,436.02 584.96,434.14 585.46,431.67 585.96,429.2 586.46,425.55 586.97,423.65 587.47,422.37 587.97,420.43 588.47,417.95 588.98,417.21 589.48,417.04 589.98,416.67 590.48,422.19 590.98,428.31 591.49,431.89 591.99,434.11 592.49,434.35 592.99,435.94 593.49,436.75 594,437.38 594.5,437.12 595,437.94 595.5,438.31 596.01,437.53 596.51,438.81 597.01,438.54 597.51,435.95 598.01,436.8 598.52,435.74 599.02,434.52 599.52,433.24 600.02,432.51 600.52,432.37 601.03,432.99 601.53,434.21 602.03,435.66 602.53,435.72 603.04,435.82 603.54,435.19 604.04,435.55 604.54,434.87 605.04,437.1 605.55,439.16 606.05,442.03 606.55,443.91 607.05,445.89 607.56,447.87 608.06,449.11 608.56,450.09 609.06,451.64 609.56,453.34 610.07,453.49 610.57,453.33 611.07,453.36 611.57,452.71 612.07,452.4 612.58,452.4 613.08,452.29 613.58,452.25 614.08,452.94 614.59,454.08 615.09,453.56 615.59,454.38 616.09,455.82 616.59,456.22 617.1,456.42 617.6,456.32 618.1,455.88 618.6,456.21 619.1,456.42 619.61,456.84 620.11,457.36 620.61,458.31 621.11,462.71 621.62,464.15 622.12,465.85 622.62,465.53 623.12,463.37 623.62,463.22 624.13,462.74 624.63,461.55 625.13,462.66 625.63,463.91 626.13,463.86 626.64,465.51 627.14,466.39 627.64,467.22 628.14,466.79 628.65,466.94 629.15,466.78 629.65,466.43 630.15,466.17 630.65,466.4 631.16,465.97 631.66,467.08 632.16,466.42 632.66,466.67 633.17,467.39 633.67,467.39 634.17,466.7 634.67,466.95 635.17,465.66 635.68,465.13 636.18,465.21 636.68,464.18 637.18,463.26 637.68,462.89 638.19,462.56 638.69,462.81 639.19,462.58 639.69,462.28 640.2,461.51 640.7,460.35 641.2,460.6 641.7,460.26 642.2,460.12 642.71,461.34 643.21,460.29 643.71,460.08 644.21,458.88 644.71,458.32 645.22,459.21 645.72,458.52 646.22,457.95 646.72,458.21 647.23,458.01 647.73,457.76 648.23,456.72 648.73,457.44 649.23,456.28 649.74,456.73 650.24,456.3 650.74,455.82 651.24,456.92 651.75,457.72 652.25,458.15 652.75,459.63 653.25,459.26 653.75,458.59 654.26,458.08 654.76,458.48 655.26,457.83 655.76,457.14 656.26,456.58 656.77,458.11 657.27,456.26 657.77,456.3 658.27,457.13 658.78,457.1 659.28,455.87 659.78,456.05 660.28,455.55 660.78,455.04 661.29,455.82 661.79,455.75 662.29,455.85 662.79,455.93 663.29,455.78 663.8,456.1 664.3,457.18 664.8,457.79 665.3,456.82 665.81,458.06 666.31,458.48 666.81,459.44 667.31,458.63 667.81,459.58 668.32,459.58 668.82,460.24 669.32,460.46 669.82,461.01 670.33,462.66 670.83,463 671.33,462.82 671.83,463.59 672.33,463.42 672.84,462.94 673.34,462.97 673.84,461.76 674.34,462.96 674.84,462.64 675.35,463.19 675.85,464.82 676.35,464.53 676.85,465.11 677.36,465.65 677.86,465.02 678.36,464.65 678.86,463.78 679.36,463.27 679.87,464.04 680.37,463.36 680.87,462.67 681.37,462.63 681.87,464.96 682.38,463.56 682.88,464.75 683.38,464.19 683.88,465.49 684.39,465.89 684.89,465.23 685.39,464.33 685.89,464.53 686.39,465.36 686.9,463.45 687.4,464.36 687.9,463.79 688.4,463.63 688.9,463.74 689.41,463.18 689.91,462.76 690.41,462.25 690.91,461.66 691.42,461.55 691.92,461.98 692.42,461.46 692.92,461.09 693.42,461.36 693.93,462.01 694.43,461.93 694.93,461.94 695.43,461.84 695.94,461.75 696.44,462.86 696.94,462.91 697.44,462.09 697.94,462.13 698.45,462.36 698.95,464.62 699.45,463.81 699.95,465.69 700.45,463.96 700.96,464.63 701.46,465.05 701.96,465.6 702.46,465.25 702.97,466.34 703.47,465.91 703.97,466.36 704.47,466.6 704.97,466.55 705.48,466.73 705.98,467.35 706.48,466.41 706.98,466.32 707.48,466.6 707.99,465.95 708.49,465.19 708.99,465.72 709.49,465.66 710,466.61 710.5,467.65 711,467.76 711.5,469.11 712,469.53 712.51,469.56 713.01,469.85 713.51,470.16 714.01,469.42 714.52,470.95 715.02,470.66 715.52,471.48 716.02,470.77 716.52,470.65 717.03,470.64 717.53,470.96 718.03,470.89 718.53,470.62 719.03,470.85 719.54,470.66 720.04,470.99 720.54,470.58 721.04,470.64 721.55,470.73 722.05,470.94 722.55,470.83 723.05,470.78 723.55,470.75 724.06,470.82 724.56,470.84 725.06,470.77 725.56,470.56 726.06,471.15 726.57,471.04 727.07,471.07 727.57,470.92 728.07,471.1 728.58,470.7 729.08,470.78 729.58,470.84 730.08,470.92 730.58,470.77 731.09,470.77 731.59,470.74 732.09,470.93 732.59,470.69 733.1,471.05 733.6,470.58 734.1,471.33 734.6,470.9 735.1,471.01 735.61,470.66 736.11,471.06 736.61,470.49 737.11,471.07 737.61,470.45 738.12,470.72 738.62,470.79 739.12,470.72 739.62,470.42 740.13,470.65 740.63,471.18 741.13,470.59 741.63,470.76 742.13,471.08 742.64,470.67 743.14,471.01 743.64,470.77 744.14,470.76 744.64,470.91 745.15,470.69 745.65,470.98 746.15,470.77 746.65,470.89 747.16,470.83 747.66,470.47 748.16,470.78 748.66,470.99 749.16,470.82 749.67,470.93 750.17,470.8 750.67,470.77 751.17,470.79 751.67,470.79 752.18,470.89 752.68,470.72 753.18,470.62 753.68,470.91 754.19,470.81 754.69,470.79 755.19,470.58 755.69,470.61 756.19,470.93 756.7,470.79 757.2,471.06 757.7,470.97 758.2,470.8 758.71,470.69 759.21,470.64 759.71,470.85 760.21,471.03 760.71,470.73 761.22,470.83 761.72,470.73 762.22,470.77 762.72,470.68 763.22,470.69 763.73,470.65 764.23,470.88 764.73,470.63 765.23,470.89 765.74,470.79 766.24,470.48 766.74,470.74 767.24,471 767.74,470.54 768.25,470.63 768.75,470.6 769.25,470.77 769.75,470.74 770.25,470.84 770.76,470.92 771.26,470.54 771.76,470.86 772.26,470.88 772.77,470.88 773.27,470.48 773.77,470.65 774.27,470.86 774.77,470.81 775.28,470.71 775.78,470.65 776.28,471.08 776.78,470.64 777.29,470.84 777.79,470.92 778.29,470.87 778.79,470.66 779.29,470.5 779.8,470.77 780.3,470.7 780.8,470.94 781.3,470.72 781.8,470.66 782.31,471.06 782.81,470.89 783.31,470.66 783.81,471.1 784.32,470.86 784.82,470.7 785.32,471.09 785.82,470.87 786.32,470.79 786.83,470.65 787.33,471.02 787.83,470.61 788.33,470.75 788.83,470.59 789.34,470.6 789.84,470.74 790.34,470.72 790.84,471.1 791.35,471.03 791.85,470.97 792.35,470.86 792.85,470.64 793.35,471.11 793.86,470.86 794.36,471.03 794.86,471.07 795.36,470.55 795.87,470.78 796.37,470.52 796.87,470.6 797.37,470.96 797.87,471.12 798.38,470.44 798.88,470.87 799.38,471 799.88,470.68 800.38,470.78 800.89,470.92 801.39,470.86 801.89,470.77 802.39,470.79 802.9,470.67 803.4,470.86 803.9,470.86 804.4,470.7 804.9,470.75 805.41,470.61 805.91,470.84 806.41,470.82 806.91,471 807.41,470.54 807.92,471.04 808.42,470.77 808.92,470.95 809.42,470.74 809.93,470.67 810.43,471.08 810.93,470.84 811.43,471.1 811.93,470.56 812.44,470.88 812.94,471.07 813.44,470.92 813.94,470.57 814.44,470.54 814.95,470.58 815.45,470.93 815.95,470.83 816.45,470.52 816.96,470.93 817.46,470.86 817.96,470.96 818.46,471 818.96,470.59 819.47,470.69 819.97,470.72 820.47,470.7 820.97,470.62 821.48,470.54 821.98,470.8 822.48,470.86 822.98,470.98 823.48,470.61 823.99,470.89 824.49,471.06 824.99,470.85 825.49,470.8 825.99,470.66 826.5,470.63 827,470.93 827.5,470.94 828,470.86 828.51,471.01 829.01,470.82 829.51,470.72 830.01,470.79 830.51,471.08 831.02,471.01 831.52,470.58 832.02,470.97 832.52,470.67 833.02,470.69 833.53,470.86 834.03,470.97 834.53,470.76 835.03,470.95 835.54,470.83 836.04,470.78 836.54,470.92 837.04,470.84 837.54,470.85 838.05,471.01 838.55,470.83 839.05,470.91 839.55,471.11 840.06,470.86 840.56,470.85 841.06,470.9 841.56,471.15 842.06,470.67 842.57,470.68 843.07,470.69 843.57,470.74 844.07,471.02 844.57,470.78 845.08,470.96 845.58,470.42 846.08,470.89 846.58,470.69 847.09,471.07 847.59,471 848.09,470.89 848.59,470.68 849.09,470.71 849.6,470.75 850.1,471.12 850.6,470.61 851.1,470.96 851.6,470.52 852.11,470.48 852.61,470.66 853.11,470.63 853.61,471.02 854.12,470.36 854.62,470.76 855.12,470.63 855.62,470.95 856.12,470.81 856.63,471 857.13,470.84 857.63,470.8 858.13,470.76 858.64,470.56 859.14,470.72 859.64,470.76 860.14,470.79 860.64,470.45 861.15,470.9 861.65,470.6 862.15,471.14 862.65,470.95 863.15,470.73 863.66,470.83 864.16,470.28 864.66,470.36 865.16,471.06 865.67,470.98 866.17,470.82 866.67,470.5 867.17,470.6 867.67,470.74 868.18,471.04 868.68,470.95" fill="none" stroke="#56B4E9" stroke-width="2.1" stroke-linejoin="round" stroke-linecap="square"/>
</g>
<path d="M146.07 492.35v4.86M246.5 492.35v4.86M346.93 492.35v4.86M447.37 492.35v4.86M547.8 492.35v4.86M648.23 492.35v4.86M748.66 492.35v4.86M849.09 492.35v4.86M146.07 470.8h-4.86M146.07 413.43h-4.86M146.07 356.06h-4.86M146.07 298.69h-4.86M146.07 241.32h-4.86M146.07 183.95h-4.86M146.07 126.58h-4.86M146.07 69.21h-4.86" stroke="#000" stroke-width="1.11" fill="none"/>
<rect x="146.07" y="66.4" width="714.57" height="425.95" fill="none" stroke="#000" stroke-width="1.11"/>
<text x="146.07" y="521.35" font-size="25.8" text-anchor="middle">0</text>
<text x="246.5" y="521.35" font-size="25.8" text-anchor="middle">200</text>
<text x="346.93" y="521.35" font-size="25.8" text-anchor="middle">400</text>
<text x="447.37" y="521.35" font-size="25.8" text-anchor="middle">600</text>
<text x="547.8" y="521.35" font-size="25.8" text-anchor="middle">800</text>
<text x="648.23" y="521.35" font-size="25.8" text-anchor="middle">1000</text>
<text x="748.66" y="521.35" font-size="25.8" text-anchor="middle">1200</text>
<text x="849.09" y="521.35" font-size="25.8" text-anchor="middle">1400</text>
<text x="137.77" y="480.5" font-size="25.8" text-anchor="end">0</text>
<text x="137.77" y="423.13" font-size="25.8" text-anchor="end">1</text>
<text x="137.77" y="365.76" font-size="25.8" text-anchor="end">2</text>
<text x="137.77" y="308.39" font-size="25.8" text-anchor="end">3</text>
<text x="137.77" y="251.02" font-size="25.8" text-anchor="end">4</text>
<text x="137.77" y="193.65" font-size="25.8" text-anchor="end">5</text>
<text x="137.77" y="136.28" font-size="25.8" text-anchor="end">6</text>
<text x="137.77" y="78.91" font-size="25.8" text-anchor="end">7</text>
<text x="146.07" y="62.6" font-size="25.8">1e2</text>
<text y="550.7" font-size="25.8"><tspan x="471.27">Time</tspan> <tspan x="543.07" dy="-1.9" font-size="21" letter-spacing="-0.35">(minute)</tspan></text>
<text transform="translate(110.5 347) rotate(-90)" font-size="25.8"><tspan x="0" letter-spacing="-0.45">Magnitude</tspan> <tspan x="143" dy="-1.7" font-size="21" letter-spacing="-0.5">(W/m^2)</tspan></text>
<rect x="635.4" y="79.2" width="212.1" height="83.1" rx="5.3" ry="5.3" fill="#fff" fill-opacity="0.8" stroke="#ccc" stroke-width="1.3"/>
<path d="M645.4 99.7h51.7" stroke="#E69F00" stroke-width="2.1" stroke-linecap="square"/>
<path d="M645.4 137.3h51.7" stroke="#56B4E9" stroke-width="2.1" stroke-linecap="square"/>
<text x="717.4" y="109.1" font-size="25.8">Predicted</text>
<text x="717.4" y="146.7" font-size="25.8">Test</text>
</g>
<g id="ax2">
<clipPath id="c1"><rect x="1099.1" y="66.4" width="714.57" height="425.95"/></clipPath>
<g clip-path="url(#c1)">
<polyline points="1099.1,471.75 1099.6,471.95 1100.1,472.58 1100.61,473.18 1101.11,472.92 1101.61,471.64 1102.11,471.98 1102.62,472.37 1103.12,472.21 1103.62,472.48 1104.12,471.87 1104.62,471.53 1105.13,472.13 1105.63,472.26 1106.13,472.45 1106.63,472.26 1107.13,471.41 1107.64,471.82 1108.14,471.88 1108.64,471.84 1109.14,472.26 1109.65,471.53 1110.15,471.75 1110.65,472.47 1111.15,472.57 1111.65,472.49 1112.16,472.42 1112.66,472.05 1113.16,471.4 1113.66,471.02 1114.16,471.96 1114.67,472.29 1115.17,471.79 1115.67,472.05 1116.17,473.08 1116.68,473.32 1117.18,472.7 1117.68,472.18 1118.18,472.11 1118.68,472.48 1119.19,472.73 1119.69,472.71 1120.19,472.14 1120.69,471.41 1121.2,472.75 1121.7,473.17 1122.2,472.03 1122.7,471.33 1123.2,471.53 1123.71,472.15 1124.21,472.38 1124.71,472.64 1125.21,472.57 1125.71,472.05 1126.22,471.82 1126.72,471.7 1127.22,471.85 1127.72,472.52 1128.23,473.3 1128.73,472.24 1129.23,471.44 1129.73,472.31 1130.23,473.08 1130.74,472.34 1131.24,472.45 1131.74,472.96 1132.24,472.46 1132.74,472.32 1133.25,472.34 1133.75,472.65 1134.25,472.37 1134.75,471.09 1135.26,471.82 1135.76,472.02 1136.26,472.07 1136.76,472.92 1137.26,472.26 1137.77,471.82 1138.27,472.43 1138.77,472.5 1139.27,472.94 1139.77,472.56 1140.28,471.63 1140.78,471.49 1141.28,471.77 1141.78,471.86 1142.29,471.71 1142.79,472 1143.29,472.78 1143.79,472.04 1144.29,471.14 1144.8,471.15 1145.3,472.09 1145.8,472.53 1146.3,472.31 1146.81,471.47 1147.31,470.86 1147.81,470.93 1148.31,471.14 1148.81,472.53 1149.32,473.35 1149.82,472.73 1150.32,472.2 1150.82,471.83 1151.32,471.48 1151.83,471.74 1152.33,471.85 1152.83,471.83 1153.33,472.14 1153.84,472.24 1154.34,472.43 1154.84,472.56 1155.34,472.14 1155.84,471.7 1156.35,472.3 1156.85,472.57 1157.35,472.88 1157.85,472.77 1158.35,472.36 1158.86,472.27 1159.36,471.55 1159.86,471.86 1160.36,472.53 1160.87,472.11 1161.37,471.94 1161.87,471.44 1162.37,471.33 1162.87,472.27 1163.38,472.09 1163.88,471.5 1164.38,472.93 1164.88,473.12 1165.39,472.56 1165.89,472.6 1166.39,472.04 1166.89,472.14 1167.39,472.46 1167.9,471.93 1168.4,472.17 1168.9,473.47 1169.4,472.79 1169.9,472.32 1170.41,472.92 1170.91,472.46 1171.41,472.48 1171.91,472.58 1172.42,472.21 1172.92,472.73 1173.42,473.27 1173.92,473.77 1174.42,472.63 1174.93,471.47 1175.43,471.83 1175.93,471.87 1176.43,471.74 1176.93,471.7 1177.44,471.66 1177.94,471.98 1178.44,471.76 1178.94,472.23 1179.45,473.02 1179.95,472.65 1180.45,471.7 1180.95,471.4 1181.45,472.28 1181.96,472.56 1182.46,472.7 1182.96,472.52 1183.46,472.28 1183.97,472.25 1184.47,472.29 1184.97,471.48 1185.47,471.72 1185.97,471.66 1186.48,471.84 1186.98,472.97 1187.48,472.34 1187.98,471.02 1188.48,471.29 1188.99,472.39 1189.49,473.21 1189.99,473.3 1190.49,472.17 1191,472.1 1191.5,471.26 1192,472.08 1192.5,473.3 1193,471.87 1193.51,471.63 1194.01,472.19 1194.51,472.26 1195.01,472.59 1195.51,472.56 1196.02,472.4 1196.52,472.42 1197.02,471.89 1197.52,472.22 1198.03,472.76 1198.53,472.14 1199.03,472.61 1199.53,472.66 1200.03,471.79 1200.54,471.18 1201.04,471.93 1201.54,471.76 1202.04,471.86 1202.54,472.43 1203.05,472.39 1203.55,472.41 1204.05,472.66 1204.55,472.24 1205.06,471.49 1205.56,471.31 1206.06,471.56 1206.56,471.38 1207.06,471.53 1207.57,471.83 1208.07,472.64 1208.57,472.89 1209.07,472.35 1209.58,471.73 1210.08,471.5 1210.58,471.36 1211.08,472.42 1211.58,472.67 1212.09,471.78 1212.59,471.81 1213.09,472.2 1213.59,472.11 1214.09,471.33 1214.6,471.66 1215.1,472.46 1215.6,472.19 1216.1,472.09 1216.61,471.95 1217.11,471.21 1217.61,471.15 1218.11,471.79 1218.61,471.99 1219.12,472.7 1219.62,473.18 1220.12,473.2 1220.62,472.38 1221.12,472.08 1221.63,472.52 1222.13,471.55 1222.63,471.32 1223.13,471.79 1223.64,472.35 1224.14,472.79 1224.64,472.52 1225.14,472.02 1225.64,472.15 1226.15,472.54 1226.65,473.05 1227.15,472.75 1227.65,472.46 1228.16,472.13 1228.66,471.49 1229.16,472.32 1229.66,472.71 1230.16,471.13 1230.67,470.87 1231.17,471.86 1231.67,471.82 1232.17,471.58 1232.67,472.13 1233.18,471.52 1233.68,471.86 1234.18,472.08 1234.68,471.91 1235.19,472.16 1235.69,471.87 1236.19,472.2 1236.69,471.28 1237.19,471.41 1237.7,472.14 1238.2,472.02 1238.7,472.66 1239.2,471.94 1239.7,471.76 1240.21,472.46 1240.71,472.44 1241.21,472.49 1241.71,471.91 1242.22,471.55 1242.72,472.2 1243.22,472.17 1243.72,472.01 1244.22,471.82 1244.73,471.64 1245.23,471.69 1245.73,472.09 1246.23,472.53 1246.74,472.14 1247.24,471.7 1247.74,471.41 1248.24,471.27 1248.74,471.18 1249.25,471.62 1249.75,472.53 1250.25,472.21 1250.75,472.55 1251.25,472.35 1251.76,471.06 1252.26,471.09 1252.76,471.45 1253.26,471.66 1253.77,472.08 1254.27,472.01 1254.77,472.8 1255.27,472.93 1255.77,472.57 1256.28,471.67 1256.78,472.46 1257.28,473.3 1257.78,472.19 1258.28,472.19 1258.79,472.15 1259.29,471.29 1259.79,471.53 1260.29,472.16 1260.8,472.82 1261.3,472.58 1261.8,471.95 1262.3,471.82 1262.8,472.3 1263.31,472.22 1263.81,471.98 1264.31,472.23 1264.81,471.94 1265.31,472.12 1265.82,472.6 1266.32,472.94 1266.82,472.34 1267.32,471.92 1267.83,471.77 1268.33,471.98 1268.83,472.76 1269.33,472.83 1269.83,472.42 1270.34,471.17 1270.84,471.78 1271.34,472.52 1271.84,472.49 1272.35,472.15 1272.85,471.69 1273.35,471.39 1273.85,471.22 1274.35,472.05 1274.86,472.26 1275.36,472.66 1275.86,472.19 1276.36,472.15 1276.86,472.33 1277.37,472.3 1277.87,472.58 1278.37,472.8 1278.87,472.46 1279.38,472.14 1279.88,472.22 1280.38,472.42 1280.88,471.11 1281.38,470.97 1281.89,472.1 1282.39,472.57 1282.89,472.6 1283.39,472.28 1283.89,471.76 1284.4,471.49 1284.9,471.44 1285.4,472.21 1285.9,472.9 1286.41,472.75 1286.91,471.62 1287.41,471.01 1287.91,472.65 1288.41,472.78 1288.92,471.92 1289.42,473.15 1289.92,473.79 1290.42,472.74 1290.93,473.18 1291.43,472.69 1291.93,472.59 1292.43,473.17 1292.93,472.08 1293.44,471.86 1293.94,471.7 1294.44,471.02 1294.94,471.38 1295.44,472 1295.95,471.68 1296.45,472.75 1296.95,473.54 1297.45,472.52 1297.96,472.79 1298.46,472.57 1298.96,471.42 1299.46,471.63 1299.96,472.54 1300.47,472.68 1300.97,472.24 1301.47,472.73 1301.97,473.31 1302.47,473.3 1302.98,473.26 1303.48,472.94 1303.98,471.94 1304.48,471.21 1304.99,470.45 1305.49,471.04 1305.99,471.91 1306.49,471.76 1306.99,472.17 1307.5,472.02 1308,470.62 1308.5,470.51 1309,470.49 1309.51,470.15 1310.01,470.09 1310.51,468.8 1311.01,468.54 1311.51,468.45 1312.02,468.18 1312.52,468.19 1313.02,467.59 1313.52,467.23 1314.02,465.06 1314.53,465.27 1315.03,465.01 1315.53,462.66 1316.03,464.11 1316.54,463.59 1317.04,461.82 1317.54,461.8 1318.04,461.76 1318.54,460.58 1319.05,458.93 1319.55,458.95 1320.05,459.52 1320.55,459.64 1321.05,456.35 1321.56,457.63 1322.06,458.43 1322.56,457.26 1323.06,457.59 1323.57,455.32 1324.07,454.76 1324.57,455 1325.07,456.09 1325.57,455.99 1326.08,453.83 1326.58,451.61 1327.08,450.33 1327.58,452.96 1328.08,450.72 1328.59,450.45 1329.09,450.87 1329.59,451.34 1330.09,450.72 1330.6,451.68 1331.1,451.89 1331.6,451.55 1332.1,450.09 1332.6,449 1333.11,449.86 1333.61,450.85 1334.11,451.92 1334.61,450.91 1335.12,450.84 1335.62,450.07 1336.12,450.41 1336.62,450.33 1337.12,448.52 1337.63,449.73 1338.13,449.18 1338.63,448.65 1339.13,446 1339.63,447.49 1340.14,438.7 1340.64,435.13 1341.14,430.5 1341.64,432.01 1342.15,431.46 1342.65,429.46 1343.15,425.87 1343.65,424.6 1344.15,422.63 1344.66,424.14 1345.16,424.85 1345.66,425.31 1346.16,424.62 1346.66,426.24 1347.17,423.15 1347.67,418.7 1348.17,416.35 1348.67,415.65 1349.18,414.05 1349.68,415.64 1350.18,417.05 1350.68,418.12 1351.18,411.75 1351.69,397.84 1352.19,394.31 1352.69,397.3 1353.19,401.27 1353.7,397.3 1354.2,400.37 1354.7,407.69 1355.2,407 1355.7,409.13 1356.21,414.65 1356.71,417.78 1357.21,419.45 1357.71,420.23 1358.21,398.82 1358.72,402.64 1359.22,383.3 1359.72,383.13 1360.22,381.06 1360.73,386.2 1361.23,389.36 1361.73,381.29 1362.23,389.12 1362.73,387.86 1363.24,386.48 1363.74,393.46 1364.24,403.16 1364.74,406.26 1365.24,379.18 1365.75,372.18 1366.25,347.18 1366.75,356.61 1367.25,341.49 1367.76,349.71 1368.26,358.24 1368.76,362.93 1369.26,362.44 1369.76,356.19 1370.27,352.05 1370.77,347.62 1371.27,340.84 1371.77,341.97 1372.28,348.99 1372.78,348.09 1373.28,357.22 1373.78,368.45 1374.28,376.19 1374.79,380.51 1375.29,391.82 1375.79,389.33 1376.29,386.57 1376.79,376.35 1377.3,370.87 1377.8,370.05 1378.3,359.77 1378.8,365.98 1379.31,363.04 1379.81,351.19 1380.31,350.07 1380.81,351.94 1381.31,347.66 1381.82,355.87 1382.32,352.33 1382.82,352.92 1383.32,330.78 1383.82,332.29 1384.33,332.33 1384.83,332.27 1385.33,333.33 1385.83,332.79 1386.34,329.2 1386.84,324.91 1387.34,314.51 1387.84,331.47 1388.34,341.63 1388.85,339.81 1389.35,349.62 1389.85,352.99 1390.35,344.69 1390.85,348.24 1391.36,329.29 1391.86,338.02 1392.36,333.37 1392.86,342.63 1393.37,320.92 1393.87,344.96 1394.37,353.56 1394.87,363.63 1395.37,364.43 1395.88,356.95 1396.38,356.93 1396.88,360.45 1397.38,366.44 1397.89,380.47 1398.39,393.7 1398.89,364.82 1399.39,349.32 1399.89,356.38 1400.4,345.35 1400.9,321.46 1401.4,321.88 1401.9,322.58 1402.4,330.24 1402.91,324.41 1403.41,337.37 1403.91,347.23 1404.41,346.22 1404.92,340.37 1405.42,336.11 1405.92,338.04 1406.42,312.25 1406.92,281.41 1407.43,260.49 1407.93,263.16 1408.43,255.95 1408.93,215.07 1409.43,194 1409.94,228.65 1410.44,219.88 1410.94,280.42 1411.44,272.2 1411.95,292.09 1412.45,308.35 1412.95,331.51 1413.45,349.39 1413.95,350.37 1414.46,290.9 1414.96,288.63 1415.46,242.19 1415.96,234.68 1416.47,224.48 1416.97,207.54 1417.47,196.06 1417.97,188.46 1418.47,192.88 1418.98,176.41 1419.48,218.76 1419.98,226.71 1420.48,237.65 1420.98,231.17 1421.49,227.55 1421.99,270.5 1422.49,328.51 1422.99,349.74 1423.5,280.69 1424,229.69 1424.5,204.22 1425,145.01 1425.5,156.53 1426.01,177.35 1426.51,164.11 1427.01,167.42 1427.51,178.72 1428.01,190.78 1428.52,204.82 1429.02,232.56 1429.52,254.21 1430.02,264.55 1430.53,309.03 1431.03,356.02 1431.53,324.84 1432.03,305.16 1432.53,308.31 1433.04,301.14 1433.54,273.04 1434.04,260.79 1434.54,265.95 1435.05,268.63 1435.55,270.32 1436.05,275.38 1436.55,284.07 1437.05,247.65 1437.56,212.48 1438.06,207.81 1438.56,221.99 1439.06,247.77 1439.56,262.18 1440.07,286.01 1440.57,316.68 1441.07,332.93 1441.57,341.58 1442.08,307.99 1442.58,282.43 1443.08,275.8 1443.58,277.08 1444.08,293.56 1444.59,301.67 1445.09,311.23 1445.59,320.24 1446.09,342.2 1446.59,312.69 1447.1,272.77 1447.6,270.71 1448.1,268.78 1448.6,256.49 1449.11,222.26 1449.61,284.3 1450.11,302.79 1450.61,297.55 1451.11,298.51 1451.62,294.41 1452.12,306.71 1452.62,305.3 1453.12,302.94 1453.62,309.09 1454.13,297.1 1454.63,331.53 1455.13,278.82 1455.63,254.69 1456.14,258.45 1456.64,245.93 1457.14,236.51 1457.64,236.88 1458.14,217.1 1458.65,199.65 1459.15,226.71 1459.65,236.57 1460.15,224.09 1460.66,212.89 1461.16,211.59 1461.66,215.35 1462.16,230.95 1462.66,236.95 1463.17,238.15 1463.67,236.57 1464.17,233.65 1464.67,223.84 1465.17,206.11 1465.68,206.26 1466.18,214.4 1466.68,219.01 1467.18,213.11 1467.69,202.53 1468.19,188.19 1468.69,187.51 1469.19,198.13 1469.69,205.52 1470.2,200.58 1470.7,208.06 1471.2,209.05 1471.7,203.15 1472.2,208.87 1472.71,198.69 1473.21,187.2 1473.71,197.79 1474.21,216.13 1474.72,225.93 1475.22,226.11 1475.72,191.52 1476.22,193.92 1476.72,192.36 1477.23,194.89 1477.73,191.52 1478.23,198.23 1478.73,190.43 1479.24,185.61 1479.74,168.72 1480.24,166.25 1480.74,177.33 1481.24,176.69 1481.75,181.67 1482.25,192.39 1482.75,190.92 1483.25,204.84 1483.75,222.93 1484.26,211.49 1484.76,205.93 1485.26,211.28 1485.76,248.41 1486.27,261.87 1486.77,292.5 1487.27,343.71 1487.77,349.28 1488.27,348.6 1488.78,404.35 1489.28,406.33 1489.78,416.5 1490.28,430.75 1490.78,423.7 1491.29,416.48 1491.79,417.39 1492.29,410.66 1492.79,403.99 1493.3,393.71 1493.8,395.94 1494.3,388.61 1494.8,387.8 1495.3,388.23 1495.81,386.22 1496.31,390.11 1496.81,392.56 1497.31,396 1497.82,383.46 1498.32,370.37 1498.82,363.9 1499.32,357.73 1499.82,339.9 1500.33,345.64 1500.83,336.48 1501.33,334.67 1501.83,326.95 1502.33,322.51 1502.84,318.32 1503.34,321.32 1503.84,321.71 1504.34,316.61 1504.85,316.95 1505.35,316.17 1505.85,313.07 1506.35,314.29 1506.85,312.39 1507.36,315.55 1507.86,315.2 1508.36,315.94 1508.86,316.47 1509.36,304.28 1509.87,297.03 1510.37,288.08 1510.87,268.41 1511.37,260.38 1511.88,254.67 1512.38,264.43 1512.88,267.84 1513.38,250.96 1513.88,198.39 1514.39,251.14 1514.89,281.67 1515.39,316.39 1515.89,376.48 1516.39,367.77 1516.9,369.4 1517.4,383.42 1517.9,399.98 1518.4,382.93 1518.91,378.36 1519.41,382.28 1519.91,341.27 1520.41,307.08 1520.91,294.47 1521.42,286.11 1521.92,273.93 1522.42,272.8 1522.92,237.8 1523.43,235.67 1523.93,222.22 1524.43,212.37 1524.93,196.09 1525.43,184.15 1525.94,171.19 1526.44,158.22 1526.94,125.45 1527.44,104.7 1527.94,90.51 1528.45,81.94 1528.95,101.68 1529.45,148.89 1529.95,218.49 1530.46,305.8 1530.96,373.03 1531.46,421.4 1531.96,447.14 1532.46,460.9 1532.97,446.81 1533.47,438.86 1533.97,440.08 1534.47,442.03 1534.97,441.16 1535.48,439.18 1535.98,434.6 1536.48,437.08 1536.98,438.34 1537.49,435.05 1537.99,431.55 1538.49,435.53 1538.99,427.82 1539.49,425.27 1540,416.47 1540.5,420.02 1541,419.57 1541.5,415.92 1542.01,413.64 1542.51,414.06 1543.01,417.82 1543.51,421.53 1544.01,421.67 1544.52,428.4 1545.02,431.16 1545.52,433.27 1546.02,431.81 1546.52,434.21 1547.03,435.99 1547.53,435.23 1548.03,433.12 1548.53,435.45 1549.04,437.12 1549.54,436.75 1550.04,437.1 1550.54,435.36 1551.04,433.4 1551.55,435.22 1552.05,433.16 1552.55,431.25 1553.05,428.08 1553.55,428.29 1554.06,429.9 1554.56,431.34 1555.06,432.15 1555.56,434.01 1556.07,432.26 1556.57,430.99 1557.07,434 1557.57,434.71 1558.07,435.52 1558.58,434.71 1559.08,432.61 1559.58,443.83 1560.08,443.14 1560.59,444.12 1561.09,446.96 1561.59,447.67 1562.09,450.48 1562.59,452.39 1563.1,453.37 1563.6,452.58 1564.1,453.5 1564.6,453.56 1565.1,452.58 1565.61,452.77 1566.11,451.86 1566.61,453.13 1567.11,452.71 1567.62,452.1 1568.12,452.69 1568.62,453.13 1569.12,455.02 1569.62,456.05 1570.13,456.18 1570.63,456.7 1571.13,455.18 1571.63,455.23 1572.13,455.83 1572.64,455.48 1573.14,455.43 1573.64,456.79 1574.14,461.88 1574.65,463.29 1575.15,465.09 1575.65,466.32 1576.15,465.98 1576.65,466.99 1577.16,463.07 1577.66,463.28 1578.16,461.86 1578.66,463.16 1579.16,464.07 1579.67,463.17 1580.17,467 1580.67,466.51 1581.17,467.8 1581.68,467.91 1582.18,468.33 1582.68,467.65 1583.18,467.42 1583.68,467.36 1584.19,466.78 1584.69,466.55 1585.19,467.37 1585.69,467.82 1586.2,468.41 1586.7,468.71 1587.2,468.5 1587.7,467.93 1588.2,467.09 1588.71,466.1 1589.21,465.54 1589.71,463.92 1590.21,463.76 1590.71,464.51 1591.22,464.41 1591.72,463.35 1592.22,462.89 1592.72,463.77 1593.23,462.05 1593.73,461.96 1594.23,460.66 1594.73,460.72 1595.23,461.22 1595.74,461.34 1596.24,460.45 1596.74,460.03 1597.24,459.42 1597.74,458.27 1598.25,457.9 1598.75,458.3 1599.25,458.11 1599.75,458.49 1600.26,458.22 1600.76,458.14 1601.26,457.9 1601.76,457.7 1602.26,457.78 1602.77,456.57 1603.27,456 1603.77,455.85 1604.27,455.49 1604.78,455.9 1605.28,457.44 1605.78,457.9 1606.28,459.95 1606.78,459.52 1607.29,458.18 1607.79,457.3 1608.29,457.15 1608.79,457.66 1609.29,456.85 1609.8,456.44 1610.3,456.26 1610.8,455.43 1611.3,456.11 1611.81,456.75 1612.31,457.71 1612.81,457.13 1613.31,456.93 1613.81,456.23 1614.32,455.61 1614.82,456.09 1615.32,457.03 1615.82,456.46 1616.32,455 1616.83,456.08 1617.33,457.47 1617.83,458.58 1618.33,457.63 1618.84,459.15 1619.34,457.59 1619.84,459.38 1620.34,460.05 1620.84,459.99 1621.35,459.72 1621.85,461.06 1622.35,461.67 1622.85,459.22 1623.36,461.35 1623.86,462.69 1624.36,462.44 1624.86,463.49 1625.36,463.93 1625.87,463.58 1626.37,464 1626.87,463.64 1627.37,463.23 1627.87,463.28 1628.38,462.41 1628.88,465.01 1629.38,465.56 1629.88,465.15 1630.39,466.26 1630.89,466.25 1631.39,464.54 1631.89,464.78 1632.39,464.83 1632.9,464.2 1633.4,464.14 1633.9,463.73 1634.4,463.88 1634.9,464.01 1635.41,464.71 1635.91,464.48 1636.41,465.86 1636.91,467.09 1637.42,466.93 1637.92,467.17 1638.42,465.96 1638.92,464.23 1639.42,464.64 1639.93,465.03 1640.43,464.33 1640.93,464.64 1641.43,464.76 1641.93,464.92 1642.44,463.85 1642.94,463.48 1643.44,463.54 1643.94,462.13 1644.45,461.52 1644.95,462.1 1645.45,462.55 1645.95,461.96 1646.45,461.76 1646.96,461.52 1647.46,462.26 1647.96,462.76 1648.46,463.34 1648.97,463.15 1649.47,463.35 1649.97,463.88 1650.47,463.59 1650.97,462.85 1651.48,462.38 1651.98,464.73 1652.48,464.78 1652.98,464.96 1653.48,465.37 1653.99,464.55 1654.49,466.3 1654.99,466.23 1655.49,466.07 1656,466.27 1656.5,467.47 1657,467.74 1657.5,468.19 1658,468.26 1658.51,467.49 1659.01,467.48 1659.51,467.37 1660.01,466.91 1660.51,467.15 1661.02,467.3 1661.52,466.59 1662.02,465.86 1662.52,465.89 1663.03,467.39 1663.53,468.4 1664.03,470.04 1664.53,469.61 1665.03,471.18 1665.54,471.53 1666.04,471.25 1666.54,470.65 1667.04,469.82 1667.55,471.16 1668.05,472.97 1668.55,473.04 1669.05,472.48 1669.55,471.46 1670.06,471.41 1670.56,472.01 1671.06,473.01 1671.56,472.57 1672.06,471.75 1672.57,472.14 1673.07,472.72 1673.57,472.69 1674.07,471.74 1674.58,471.99 1675.08,472.4 1675.58,471.79 1676.08,471.3 1676.58,470.92 1677.09,471.96 1677.59,472.81 1678.09,472.3 1678.59,471.69 1679.09,471.86 1679.6,473.26 1680.1,473.56 1680.6,472.31 1681.1,471.88 1681.61,473.05 1682.11,473.67 1682.61,473.04 1683.11,472.1 1683.61,472.01 1684.12,472.47 1684.62,472.87 1685.12,472.66 1685.62,472.44 1686.13,472.63 1686.63,472.29 1687.13,471.83 1687.63,472.66 1688.13,472.12 1688.64,471.7 1689.14,472.19 1689.64,472.24 1690.14,472.71 1690.64,472.73 1691.15,471.38 1691.65,471.57 1692.15,472.43 1692.65,472.21 1693.16,471.44 1693.66,472.2 1694.16,472.13 1694.66,471.49 1695.16,472.16 1695.67,472.37 1696.17,472.45 1696.67,472.37 1697.17,472.02 1697.67,471.83 1698.18,471.77 1698.68,471.94 1699.18,471.94 1699.68,472.04 1700.19,472.75 1700.69,472.07 1701.19,471.95 1701.69,472.21 1702.19,471.91 1702.7,471.67 1703.2,472.04 1703.7,472.16 1704.2,471.86 1704.7,471.7 1705.21,472.3 1705.71,471.99 1706.21,472.17 1706.71,472.87 1707.22,472.51 1707.72,472.52 1708.22,472.4 1708.72,472.02 1709.22,472.06 1709.73,471.35 1710.23,472.63 1710.73,473.11 1711.23,472.29 1711.74,472.41 1712.24,471.63 1712.74,471.6 1713.24,472.26 1713.74,471.82 1714.25,471.8 1714.75,471.66 1715.25,471.61 1715.75,471.97 1716.25,471.68 1716.76,471.5 1717.26,472.03 1717.76,472.39 1718.26,472.69 1718.77,472.31 1719.27,471.19 1719.77,470.94 1720.27,471.76 1720.77,471.83 1721.28,471.96 1721.78,472.68 1722.28,472.37 1722.78,472.78 1723.28,472.12 1723.79,471.73 1724.29,471.6 1724.79,470.88 1725.29,470.96 1725.8,471.09 1726.3,471.33 1726.8,472.35 1727.3,472.75 1727.8,472.32 1728.31,471.63 1728.81,471.83 1729.31,472.42 1729.81,471.97 1730.32,472.16 1730.82,472.85 1731.32,472.26 1731.82,471.51 1732.32,471.53 1732.83,471.33 1733.33,472.04 1733.83,473.26 1734.33,472.71 1734.83,471.72 1735.34,472.65 1735.84,473.32 1736.34,472.68 1736.84,472.81 1737.35,472.31 1737.85,472.44 1738.35,472.66 1738.85,471.6 1739.35,471.8 1739.86,471.91 1740.36,472.34 1740.86,472.47 1741.36,472.12 1741.86,471.86 1742.37,471.16 1742.87,471.82 1743.37,472.77 1743.87,472.38 1744.38,472.32 1744.88,472.55 1745.38,472.32 1745.88,472.09 1746.38,472.26 1746.89,473.31 1747.39,473.12 1747.89,471.86 1748.39,471.58 1748.9,472.03 1749.4,472.63 1749.9,472.61 1750.4,472.08 1750.9,472.73 1751.41,472.17 1751.91,471.67 1752.41,472.67 1752.91,471.73 1753.41,471.62 1753.92,472.53 1754.42,472.78 1754.92,473.07 1755.42,471.92 1755.93,471.29 1756.43,471.73 1756.93,472.07 1757.43,473.2 1757.93,472.39 1758.44,471.86 1758.94,472.75 1759.44,472.51 1759.94,472.3 1760.44,472.27 1760.95,472.64 1761.45,472.6 1761.95,472 1762.45,472.04 1762.96,472.39 1763.46,472.97 1763.96,473.65 1764.46,473.38 1764.96,472.92 1765.47,472.06 1765.97,472.47 1766.47,472.5 1766.97,471.26 1767.47,471.59 1767.98,471.69 1768.48,471.95 1768.98,473.2 1769.48,472.39 1769.99,471.9 1770.49,472.08 1770.99,472.1 1771.49,473.39 1771.99,472.88 1772.5,472.59 1773,472.5 1773.5,472.35 1774,472.6 1774.51,471.49 1775.01,472.07 1775.51,472.25 1776.01,471.67 1776.51,472.15 1777.02,472.38 1777.52,471.92 1778.02,472.12 1778.52,471.81 1779.02,471.31 1779.53,471.15 1780.03,471.56 1780.53,471.6 1781.03,472.16 1781.54,472.6 1782.04,472.67 1782.54,472.61 1783.04,472.54 1783.54,472.19 1784.05,472.32 1784.55,472.19 1785.05,472.82 1785.55,472.65 1786.05,471.71 1786.56,473.03 1787.06,472.81 1787.56,471.8 1788.06,471.77 1788.57,471.43 1789.07,471.59 1789.57,472.34 1790.07,472.28 1790.57,472.6 1791.08,473.02 1791.58,472.23 1792.08,471.65 1792.58,472.52 1793.09,472.64 1793.59,471.83 1794.09,472.11 1794.59,472.57 1795.09,471.94 1795.6,471.33 1796.1,472.45 1796.6,473.41 1797.1,472.28 1797.6,472.25 1798.11,472.47 1798.61,471.58 1799.11,471.21 1799.61,471.85 1800.12,472.07 1800.62,472.43 1801.12,472.33 1801.62,471.72 1802.12,472.15 1802.63,472.7 1803.13,472.28 1803.63,472.21 1804.13,472.02 1804.63,472.32 1805.14,471.49 1805.64,470.99 1806.14,471.65 1806.64,471.94 1807.15,471.31 1807.65,471.13 1808.15,471.84 1808.65,472.29 1809.15,472.3 1809.66,472.03 1810.16,472.77 1810.66,471.69 1811.16,471.41 1811.67,471.87 1812.17,472.05 1812.67,471.79 1813.17,471.32 1813.67,472.23 1814.18,472.6 1814.68,472.95 1815.18,472.96 1815.68,471.9 1816.18,472.29 1816.69,473.88 1817.19,473.11 1817.69,472.15 1818.19,472.13 1818.7,472.91 1819.2,472.56 1819.7,471.94 1820.2,472.49 1820.7,472.43 1821.21,472.07 1821.71,472.38" fill="none" stroke="#E69F00" stroke-width="2.1" stroke-linejoin="round" stroke-linecap="square"/>
<polyline points="1099.1,471.88 1099.6,472.29 1100.1,472.19 1100.61,472.12 1101.11,472.35 1101.61,472.2 1102.11,472.2 1102.62,472.53 1103.12,472.01 1103.62,472.09 1104.12,472.32 1104.62,472.23 1105.13,472.1 1105.63,472.25 1106.13,472.25 1106.63,472.47 1107.13,472.1 1107.64,472.18 1108.14,472.15 1108.64,472.49 1109.14,471.89 1109.65,472.17 1110.15,472.27 1110.65,471.82 1111.15,472.21 1111.65,472.47 1112.16,472.28 1112.66,472.63 1113.16,472 1113.66,472.28 1114.16,472.34 1114.67,472 1115.17,472.51 1115.67,472.1 1116.17,472.59 1116.68,472.32 1117.18,472.43 1117.68,471.92 1118.18,471.87 1118.68,472.26 1119.19,472.04 1119.69,472.23 1120.19,472.09 1120.69,472.34 1121.2,472.52 1121.7,472.54 1122.2,472.13 1122.7,471.78 1123.2,472.15 1123.71,472.3 1124.21,471.84 1124.71,472.16 1125.21,472.18 1125.71,472.15 1126.22,472.22 1126.72,472.26 1127.22,472.47 1127.72,472.11 1128.23,472.22 1128.73,471.98 1129.23,472.27 1129.73,472.56 1130.23,472.22 1130.74,471.88 1131.24,472.27 1131.74,472.37 1132.24,472.42 1132.74,472.4 1133.25,472.26 1133.75,472.42 1134.25,471.92 1134.75,472.25 1135.26,472.18 1135.76,471.93 1136.26,471.92 1136.76,472.24 1137.26,472.14 1137.77,472.06 1138.27,472.24 1138.77,472.53 1139.27,472.08 1139.77,472.03 1140.28,472.12 1140.78,472.37 1141.28,472.24 1141.78,472.31 1142.29,472.26 1142.79,471.96 1143.29,471.91 1143.79,472.07 1144.29,472.1 1144.8,472.07 1145.3,472.2 1145.8,472.21 1146.3,472.33 1146.81,472.21 1147.31,471.77 1147.81,472.04 1148.31,472.26 1148.81,472.29 1149.32,472.36 1149.82,472.13 1150.32,472.13 1150.82,472.47 1151.32,472.11 1151.83,472.31 1152.33,471.93 1152.83,472.17 1153.33,471.88 1153.84,472.29 1154.34,472.25 1154.84,472.14 1155.34,472 1155.84,472.09 1156.35,472.43 1156.85,472.17 1157.35,472.2 1157.85,472.28 1158.35,472.32 1158.86,471.87 1159.36,472.27 1159.86,472.36 1160.36,472.08 1160.87,472.18 1161.37,472.21 1161.87,472.05 1162.37,472.11 1162.87,472.13 1163.38,472.02 1163.88,472.15 1164.38,472.32 1164.88,472.27 1165.39,472.3 1165.89,472.16 1166.39,472.4 1166.89,472.55 1167.39,472.18 1167.9,472.45 1168.4,472.57 1168.9,472.13 1169.4,472.33 1169.9,472.11 1170.41,472.3 1170.91,472.41 1171.41,472.43 1171.91,472.3 1172.42,472.25 1172.92,472.36 1173.42,472.25 1173.92,472.49 1174.42,472.2 1174.93,472.54 1175.43,472.24 1175.93,472.07 1176.43,471.99 1176.93,471.88 1177.44,472.49 1177.94,472.06 1178.44,471.97 1178.94,472.02 1179.45,472.38 1179.95,472.12 1180.45,471.85 1180.95,472.48 1181.45,472.11 1181.96,471.99 1182.46,472.33 1182.96,472.09 1183.46,472.4 1183.97,472.35 1184.47,472.35 1184.97,472.16 1185.47,472.22 1185.97,472.02 1186.48,472.38 1186.98,472.22 1187.48,472.02 1187.98,472.09 1188.48,472.45 1188.99,472.07 1189.49,472.29 1189.99,472.13 1190.49,472.14 1191,471.97 1191.5,472.18 1192,472.55 1192.5,472.46 1193,472.06 1193.51,472.25 1194.01,471.99 1194.51,472.15 1195.01,472.34 1195.51,472 1196.02,472.35 1196.52,472.59 1197.02,471.81 1197.52,472.56 1198.03,472.08 1198.53,472.02 1199.03,472.17 1199.53,472.52 1200.03,472.01 1200.54,472.47 1201.04,472.45 1201.54,472.27 1202.04,472.05 1202.54,472.14 1203.05,472.05 1203.55,472.28 1204.05,472.23 1204.55,472.41 1205.06,472.26 1205.56,472.09 1206.06,472.26 1206.56,472.11 1207.06,472.31 1207.57,472.31 1208.07,472.19 1208.57,472.24 1209.07,472.09 1209.58,472.17 1210.08,471.87 1210.58,472.24 1211.08,472.24 1211.58,472.4 1212.09,472.2 1212.59,472.07 1213.09,472.34 1213.59,472.21 1214.09,472.06 1214.6,472.22 1215.1,472.3 1215.6,472.02 1216.1,472.18 1216.61,472.13 1217.11,471.98 1217.61,471.98 1218.11,472.27 1218.61,472.3 1219.12,472.15 1219.62,472.23 1220.12,472.56 1220.62,471.96 1221.12,472.2 1221.63,472.06 1222.13,472.42 1222.63,471.96 1223.13,472.31 1223.64,472.22 1224.14,472.46 1224.64,472.23 1225.14,472.24 1225.64,472.23 1226.15,472.12 1226.65,472.19 1227.15,472.02 1227.65,472.29 1228.16,472.39 1228.66,472.2 1229.16,472.08 1229.66,471.97 1230.16,472.05 1230.67,472.53 1231.17,472.13 1231.67,471.92 1232.17,472.19 1232.67,472.3 1233.18,472.14 1233.68,472.29 1234.18,472.08 1234.68,472.2 1235.19,471.94 1235.69,472.11 1236.19,472.34 1236.69,472.09 1237.19,472.02 1237.7,472.31 1238.2,472.28 1238.7,472.63 1239.2,472.03 1239.7,472.31 1240.21,472.6 1240.71,472.53 1241.21,472.24 1241.71,472.06 1242.22,472.22 1242.72,472.11 1243.22,472.41 1243.72,472.45 1244.22,472.03 1244.73,472.11 1245.23,472.21 1245.73,471.96 1246.23,472.38 1246.74,472.28 1247.24,472.01 1247.74,471.85 1248.24,472.2 1248.74,471.88 1249.25,472.31 1249.75,472.14 1250.25,472.23 1250.75,472.5 1251.25,472.15 1251.76,472.02 1252.26,472.23 1252.76,472.21 1253.26,471.94 1253.77,472.44 1254.27,472.48 1254.77,472.32 1255.27,472.43 1255.77,471.95 1256.28,472.14 1256.78,472.36 1257.28,472.32 1257.78,471.66 1258.28,472.31 1258.79,472.34 1259.29,472.14 1259.79,472.08 1260.29,472.16 1260.8,472.37 1261.3,472.42 1261.8,472.09 1262.3,472.21 1262.8,472.51 1263.31,471.98 1263.81,472.05 1264.31,472.25 1264.81,472.25 1265.31,472.16 1265.82,472.33 1266.32,472.45 1266.82,472.14 1267.32,472.47 1267.83,472.13 1268.33,472.47 1268.83,472.22 1269.33,472.23 1269.83,471.86 1270.34,472.4 1270.84,472.47 1271.34,472.32 1271.84,472.41 1272.35,472.31 1272.85,472.12 1273.35,472.05 1273.85,471.89 1274.35,472.34 1274.86,471.7 1275.36,471.83 1275.86,472.24 1276.36,472.63 1276.86,472.22 1277.37,472.19 1277.87,472.63 1278.37,472.19 1278.87,472.24 1279.38,472.35 1279.88,472.08 1280.38,472.01 1280.88,472.29 1281.38,472.16 1281.89,472.32 1282.39,472.35 1282.89,472.19 1283.39,472.1 1283.89,472.31 1284.4,472.62 1284.9,472.09 1285.4,472.5 1285.9,472.18 1286.41,471.86 1286.91,472.2 1287.41,472.42 1287.91,472.48 1288.41,471.98 1288.92,472.2 1289.42,472.1 1289.92,472.03 1290.42,472.21 1290.93,472.26 1291.43,472.38 1291.93,472.78 1292.43,472.49 1292.93,472.21 1293.44,472.23 1293.94,472.12 1294.44,472.22 1294.94,472.17 1295.44,472.05 1295.95,472.37 1296.45,472.25 1296.95,472.5 1297.45,472.02 1297.96,472.19 1298.46,472.11 1298.96,471.91 1299.46,472 1299.96,472.21 1300.47,472.03 1300.97,472.41 1301.47,472.02 1301.97,472.04 1302.47,472.32 1302.98,471.71 1303.48,472.03 1303.98,471.71 1304.48,471.85 1304.99,471.51 1305.49,471.28 1305.99,471.47 1306.49,471.37 1306.99,470.85 1307.5,470.39 1308,470.33 1308.5,470.08 1309,469.57 1309.51,469.88 1310.01,469.19 1310.51,469.49 1311.01,468.18 1311.51,468.39 1312.02,468.21 1312.52,467.38 1313.02,467.52 1313.52,466.18 1314.02,466.03 1314.53,465.31 1315.03,464.97 1315.53,463.52 1316.03,463.59 1316.54,462.73 1317.04,462.26 1317.54,462.48 1318.04,461.2 1318.54,460.81 1319.05,460.3 1319.55,460.18 1320.05,459.67 1320.55,458.46 1321.05,457.15 1321.56,458.35 1322.06,457.07 1322.56,457.08 1323.06,455.93 1323.57,455.62 1324.07,454.77 1324.57,456.44 1325.07,454.69 1325.57,454.41 1326.08,453.42 1326.58,453.3 1327.08,452.78 1327.58,451.57 1328.08,450.46 1328.59,452.76 1329.09,451.1 1329.59,450.52 1330.09,450.49 1330.6,450.52 1331.1,450.98 1331.6,450.8 1332.1,449.93 1332.6,449.81 1333.11,450.43 1333.61,451.01 1334.11,450.39 1334.61,450.43 1335.12,449.82 1335.62,449.87 1336.12,450.11 1336.62,449.48 1337.12,450.14 1337.63,448.91 1338.13,448.6 1338.63,449.8 1339.13,448.73 1339.63,446.27 1340.14,440.14 1340.64,434.88 1341.14,431.13 1341.64,428.11 1342.15,426.87 1342.65,425.15 1343.15,423.6 1343.65,421.98 1344.15,421.2 1344.66,421.42 1345.16,422.62 1345.66,423.55 1346.16,424.84 1346.66,423.27 1347.17,420.21 1347.67,416.28 1348.17,415.48 1348.67,415.79 1349.18,416.16 1349.68,417.44 1350.18,418.9 1350.68,415.21 1351.18,407.06 1351.69,404.01 1352.19,401.29 1352.69,398.32 1353.19,398.77 1353.7,400.46 1354.2,403.88 1354.7,408.48 1355.2,412.69 1355.7,416.78 1356.21,419.29 1356.71,420.73 1357.21,419.49 1357.71,413.84 1358.21,404.21 1358.72,388.78 1359.22,387.26 1359.72,385.96 1360.22,385.63 1360.73,382.9 1361.23,383.51 1361.73,386.46 1362.23,389.76 1362.73,392.55 1363.24,395.4 1363.74,397.21 1364.24,397.26 1364.74,386.46 1365.24,372.17 1365.75,362.49 1366.25,354.36 1366.75,347.51 1367.25,341.85 1367.76,350.72 1368.26,353.46 1368.76,356.88 1369.26,353.23 1369.76,347.79 1370.27,345.61 1370.77,343.91 1371.27,345.9 1371.77,350.87 1372.28,354.6 1372.78,356.99 1373.28,361.4 1373.78,367.93 1374.28,374.73 1374.79,380.91 1375.29,384.46 1375.79,383.41 1376.29,379.91 1376.79,376.23 1377.3,371.86 1377.8,366.58 1378.3,362.23 1378.8,358.41 1379.31,353.2 1379.81,349.78 1380.31,347.63 1380.81,351.67 1381.31,355.18 1381.82,358.09 1382.32,357.36 1382.82,339.86 1383.32,338.79 1383.82,338.5 1384.33,339.6 1384.83,341.04 1385.33,336.8 1385.83,329.73 1386.34,324.51 1386.84,326.07 1387.34,330.56 1387.84,335.41 1388.34,337.22 1388.85,339.41 1389.35,347.13 1389.85,353.6 1390.35,347.17 1390.85,340.41 1391.36,336.74 1391.86,335.86 1392.36,336.62 1392.86,338.81 1393.37,341.7 1393.87,359.38 1394.37,365.36 1394.87,369.7 1395.37,364.92 1395.88,358.17 1396.38,356.48 1396.88,363.94 1397.38,372.88 1397.89,370.57 1398.39,365.61 1398.89,360.9 1399.39,354 1399.89,341.55 1400.4,329.96 1400.9,320.87 1401.4,316.26 1401.9,321.13 1402.4,327.37 1402.91,340.8 1403.41,350.45 1403.91,357.98 1404.41,347.77 1404.92,341.69 1405.42,337.49 1405.92,324.79 1406.42,310.37 1406.92,287.72 1407.43,262.86 1407.93,250.35 1408.43,241.36 1408.93,231.86 1409.43,224.85 1409.94,235.1 1410.44,252.94 1410.94,263.89 1411.44,276.06 1411.95,304.43 1412.45,318.36 1412.95,328.01 1413.45,319.54 1413.95,305.75 1414.46,292.74 1414.96,276.09 1415.46,258.94 1415.96,223.49 1416.47,208.15 1416.97,199.92 1417.47,200.31 1417.97,202.81 1418.47,223.77 1418.98,246.59 1419.48,238.89 1419.98,229.9 1420.48,230.76 1420.98,231.18 1421.49,259.39 1421.99,294.66 1422.49,306.23 1422.99,282.09 1423.5,223.25 1424,201.48 1424.5,181.77 1425,155.71 1425.5,170.4 1426.01,175.27 1426.51,180.13 1427.01,180.56 1427.51,180.65 1428.01,188.55 1428.52,199.44 1429.02,235.54 1429.52,257.7 1430.02,283.69 1430.53,318.42 1431.03,327.79 1431.53,320.01 1432.03,311.67 1432.53,300.45 1433.04,288.98 1433.54,276.41 1434.04,268.16 1434.54,269.52 1435.05,271.46 1435.55,276.23 1436.05,279.91 1436.55,258.63 1437.05,243.14 1437.56,232.64 1438.06,239.24 1438.56,246.97 1439.06,263.42 1439.56,282.39 1440.07,311.61 1440.57,321.67 1441.07,313.41 1441.57,299.5 1442.08,279.83 1442.58,274.49 1443.08,279.08 1443.58,282.45 1444.08,292.55 1444.59,303.01 1445.09,310.04 1445.59,313.99 1446.09,306.31 1446.59,293.69 1447.1,271.28 1447.6,263.58 1448.1,271.92 1448.6,282.27 1449.11,295.15 1449.61,305.76 1450.11,315.1 1450.61,300.19 1451.11,291.21 1451.62,285.29 1452.12,291.65 1452.62,297.17 1453.12,307.41 1453.62,294.33 1454.13,269.82 1454.63,261.09 1455.13,256 1455.63,253.42 1456.14,249.88 1456.64,244.49 1457.14,239.87 1457.64,237.07 1458.14,234.12 1458.65,234.41 1459.15,234.55 1459.65,233.56 1460.15,232.07 1460.66,233.4 1461.16,231.96 1461.66,231.4 1462.16,228.62 1462.66,226.47 1463.17,225.82 1463.67,223.41 1464.17,220.31 1464.67,218.16 1465.17,215.58 1465.68,212.39 1466.18,209.55 1466.68,204.73 1467.18,202.64 1467.69,199.4 1468.19,197.46 1468.69,196.69 1469.19,195.84 1469.69,194.4 1470.2,194.21 1470.7,193.78 1471.2,196.2 1471.7,196.94 1472.2,205.22 1472.71,212.93 1473.21,213.19 1473.71,213.5 1474.21,213.1 1474.72,210.96 1475.22,205.96 1475.72,197.91 1476.22,193.84 1476.72,190.92 1477.23,188.52 1477.73,185.75 1478.23,181.61 1478.73,179.55 1479.24,176.71 1479.74,174.75 1480.24,176.47 1480.74,182.25 1481.24,186.54 1481.75,193.4 1482.25,200.8 1482.75,208.62 1483.25,214.76 1483.75,219.59 1484.26,221.16 1484.76,222.06 1485.26,222.99 1485.76,246.89 1486.27,273.56 1486.77,300.19 1487.27,327.02 1487.77,354.03 1488.27,376.72 1488.78,397.27 1489.28,406.59 1489.78,413.23 1490.28,416.07 1490.78,418.6 1491.29,416.21 1491.79,410.51 1492.29,406.5 1492.79,400.14 1493.3,394.77 1493.8,391.85 1494.3,390.96 1494.8,389.89 1495.3,388.7 1495.81,388.53 1496.31,389.77 1496.81,391.96 1497.31,388.74 1497.82,382.96 1498.32,376.47 1498.82,364.7 1499.32,353.18 1499.82,344.07 1500.33,335.01 1500.83,329.3 1501.33,325.13 1501.83,325.04 1502.33,323.46 1502.84,322.98 1503.34,321.63 1503.84,320.09 1504.34,318.25 1504.85,314.3 1505.35,310.61 1505.85,309.29 1506.35,308.03 1506.85,307.43 1507.36,310.52 1507.86,314.13 1508.36,313.39 1508.86,310.31 1509.36,297.48 1509.87,281.96 1510.37,271.2 1510.87,261.3 1511.37,255.63 1511.88,258.49 1512.38,265.92 1512.88,272.64 1513.38,281.39 1513.88,290.79 1514.39,308.11 1514.89,327.17 1515.39,346.03 1515.89,362.46 1516.39,372.44 1516.9,379.66 1517.4,380.41 1517.9,381.02 1518.4,373.22 1518.91,361.48 1519.41,346.82 1519.91,327.95 1520.41,308.5 1520.91,292.28 1521.42,280.61 1521.92,268.59 1522.42,257.85 1522.92,245.14 1523.43,231.81 1523.93,218.67 1524.43,205.54 1524.93,189.2 1525.43,177.35 1525.94,166.67 1526.44,142.35 1526.94,112.13 1527.44,96.33 1527.94,84.78 1528.45,111.13 1528.95,141.08 1529.45,192.54 1529.95,267.89 1530.46,352.36 1530.96,408.22 1531.46,437.15 1531.96,438.68 1532.46,438.81 1532.97,439.3 1533.47,438.84 1533.97,440.23 1534.47,440.08 1534.97,440.57 1535.48,438.51 1535.98,437.97 1536.48,437.24 1536.98,436.12 1537.49,434.12 1537.99,432.07 1538.49,429.36 1538.99,426.67 1539.49,422.67 1540,420.58 1540.5,419.19 1541,417.07 1541.5,414.35 1542.01,413.54 1542.51,413.36 1543.01,412.95 1543.51,418.99 1544.01,425.69 1544.52,429.6 1545.02,432.03 1545.52,432.3 1546.02,434.04 1546.52,434.93 1547.03,435.61 1547.53,435.33 1548.03,436.23 1548.53,436.64 1549.04,435.79 1549.54,437.18 1550.04,436.89 1550.54,434.05 1551.04,434.98 1551.55,433.82 1552.05,432.49 1552.55,431.08 1553.05,430.29 1553.55,430.14 1554.06,430.81 1554.56,432.15 1555.06,433.73 1555.56,433.8 1556.07,433.91 1556.57,433.22 1557.07,433.61 1557.57,432.87 1558.07,435.31 1558.58,437.57 1559.08,440.71 1559.58,442.76 1560.08,444.93 1560.59,447.1 1561.09,448.46 1561.59,449.53 1562.09,451.22 1562.59,453.09 1563.1,453.25 1563.6,453.07 1564.1,453.11 1564.6,452.4 1565.1,452.06 1565.61,452.06 1566.11,451.94 1566.61,451.89 1567.11,452.65 1567.62,453.9 1568.12,453.33 1568.62,454.22 1569.12,455.81 1569.62,456.24 1570.13,456.45 1570.63,456.35 1571.13,455.87 1571.63,456.23 1572.13,456.46 1572.64,456.92 1573.14,457.49 1573.64,458.53 1574.14,463.34 1574.65,464.92 1575.15,466.78 1575.65,466.43 1576.15,464.06 1576.65,463.9 1577.16,463.37 1577.66,462.08 1578.16,463.29 1578.66,464.66 1579.16,464.6 1579.67,466.41 1580.17,467.38 1580.67,468.28 1581.17,467.81 1581.68,467.97 1582.18,467.8 1582.68,467.41 1583.18,467.14 1583.68,467.39 1584.19,466.91 1584.69,468.13 1585.19,467.41 1585.69,467.67 1586.2,468.46 1586.7,468.46 1587.2,467.71 1587.7,467.99 1588.2,466.58 1588.71,465.99 1589.21,466.08 1589.71,464.95 1590.21,463.95 1590.71,463.54 1591.22,463.18 1591.72,463.46 1592.22,463.2 1592.72,462.88 1593.23,462.03 1593.73,460.76 1594.23,461.03 1594.73,460.66 1595.23,460.51 1595.74,461.85 1596.24,460.7 1596.74,460.47 1597.24,459.15 1597.74,458.54 1598.25,459.51 1598.75,458.76 1599.25,458.13 1599.75,458.42 1600.26,458.19 1600.76,457.93 1601.26,456.78 1601.76,457.58 1602.26,456.31 1602.77,456.8 1603.27,456.33 1603.77,455.8 1604.27,457 1604.78,457.89 1605.28,458.35 1605.78,459.97 1606.28,459.56 1606.78,458.84 1607.29,458.27 1607.79,458.71 1608.29,458 1608.79,457.25 1609.29,456.63 1609.8,458.31 1610.3,456.28 1610.8,456.33 1611.3,457.24 1611.81,457.2 1612.31,455.85 1612.81,456.05 1613.31,455.5 1613.81,454.95 1614.32,455.8 1614.82,455.73 1615.32,455.84 1615.82,455.92 1616.32,455.76 1616.83,456.11 1617.33,457.3 1617.83,457.96 1618.33,456.9 1618.84,458.25 1619.34,458.71 1619.84,459.77 1620.34,458.88 1620.84,459.92 1621.35,459.92 1621.85,460.64 1622.35,460.88 1622.85,461.49 1623.36,463.29 1623.86,463.66 1624.36,463.47 1624.86,464.31 1625.36,464.12 1625.87,463.59 1626.37,463.63 1626.87,462.31 1627.37,463.62 1627.87,463.26 1628.38,463.87 1628.88,465.65 1629.38,465.33 1629.88,465.97 1630.39,466.56 1630.89,465.88 1631.39,465.46 1631.89,464.52 1632.39,463.96 1632.9,464.8 1633.4,464.05 1633.9,463.3 1634.4,463.26 1634.9,465.81 1635.41,464.27 1635.91,465.57 1636.41,464.97 1636.91,466.39 1637.42,466.83 1637.92,466.11 1638.42,465.11 1638.92,465.33 1639.42,466.25 1639.93,464.15 1640.43,465.16 1640.93,464.52 1641.43,464.36 1641.93,464.47 1642.44,463.86 1642.94,463.4 1643.44,462.84 1643.94,462.2 1644.45,462.08 1644.95,462.55 1645.45,461.98 1645.95,461.58 1646.45,461.87 1646.96,462.58 1647.46,462.49 1647.96,462.5 1648.46,462.39 1648.97,462.29 1649.47,463.51 1649.97,463.56 1650.47,462.66 1650.97,462.71 1651.48,462.96 1651.98,465.44 1652.48,464.55 1652.98,466.61 1653.48,464.71 1653.99,465.45 1654.49,465.91 1654.99,466.51 1655.49,466.13 1656,467.32 1656.5,466.84 1657,467.34 1657.5,467.6 1658,467.54 1658.51,467.74 1659.01,468.42 1659.51,467.4 1660.01,467.29 1660.51,467.6 1661.02,466.89 1661.52,466.06 1662.02,466.64 1662.52,466.57 1663.03,467.62 1663.53,468.76 1664.03,468.87 1664.53,470.35 1665.03,470.81 1665.54,470.84 1666.04,471.16 1666.54,471.5 1667.04,470.69 1667.55,472.37 1668.05,472.05 1668.55,472.94 1669.05,472.17 1669.55,472.04 1670.06,472.03 1670.56,472.37 1671.06,472.3 1671.56,472 1672.06,472.25 1672.57,472.05 1673.07,472.41 1673.57,471.96 1674.07,472.02 1674.58,472.12 1675.08,472.36 1675.58,472.23 1676.08,472.17 1676.58,472.15 1677.09,472.22 1677.59,472.24 1678.09,472.16 1678.59,471.94 1679.09,472.58 1679.6,472.46 1680.1,472.49 1680.6,472.33 1681.1,472.53 1681.61,472.1 1682.11,472.18 1682.61,472.25 1683.11,472.33 1683.61,472.17 1684.12,472.17 1684.62,472.14 1685.12,472.34 1685.62,472.08 1686.13,472.48 1686.63,471.96 1687.13,472.78 1687.63,472.31 1688.13,472.43 1688.64,472.05 1689.14,472.48 1689.64,471.86 1690.14,472.49 1690.64,471.82 1691.15,472.12 1691.65,472.19 1692.15,472.12 1692.65,471.79 1693.16,472.03 1693.66,472.62 1694.16,471.98 1694.66,472.16 1695.16,472.5 1695.67,472.06 1696.17,472.43 1696.67,472.17 1697.17,472.16 1697.67,472.32 1698.18,472.08 1698.68,472.39 1699.18,472.16 1699.68,472.3 1700.19,472.23 1700.69,471.84 1701.19,472.18 1701.69,472.4 1702.19,472.22 1702.7,472.34 1703.2,472.2 1703.7,472.17 1704.2,472.18 1704.7,472.18 1705.21,472.3 1705.71,472.12 1706.21,472 1706.71,472.32 1707.22,472.21 1707.72,472.19 1708.22,471.96 1708.72,472 1709.22,472.34 1709.73,472.19 1710.23,472.48 1710.73,472.38 1711.23,472.2 1711.74,472.08 1712.24,472.02 1712.74,472.26 1713.24,472.45 1713.74,472.13 1714.25,472.23 1714.75,472.12 1715.25,472.17 1715.75,472.07 1716.25,472.08 1716.76,472.04 1717.26,472.29 1717.76,472.01 1718.26,472.29 1718.77,472.18 1719.27,471.85 1719.77,472.13 1720.27,472.42 1720.77,471.92 1721.28,472.01 1721.78,471.99 1722.28,472.16 1722.78,472.13 1723.28,472.24 1723.79,472.33 1724.29,471.91 1724.79,472.27 1725.29,472.29 1725.8,472.28 1726.3,471.85 1726.8,472.03 1727.3,472.27 1727.8,472.21 1728.31,472.1 1728.81,472.03 1729.31,472.5 1729.81,472.03 1730.32,472.24 1730.82,472.33 1731.32,472.27 1731.82,472.05 1732.32,471.87 1732.83,472.17 1733.33,472.1 1733.83,472.35 1734.33,472.11 1734.83,472.05 1735.34,472.48 1735.84,472.3 1736.34,472.05 1736.84,472.53 1737.35,472.27 1737.85,472.09 1738.35,472.52 1738.85,472.27 1739.35,472.19 1739.86,472.03 1740.36,472.44 1740.86,471.99 1741.36,472.14 1741.86,471.97 1742.37,471.98 1742.87,472.14 1743.37,472.11 1743.87,472.53 1744.38,472.45 1744.88,472.39 1745.38,472.27 1745.88,472.02 1746.38,472.54 1746.89,472.26 1747.39,472.45 1747.89,472.49 1748.39,471.92 1748.9,472.18 1749.4,471.89 1749.9,471.98 1750.4,472.37 1750.9,472.55 1751.41,471.81 1751.91,472.28 1752.41,472.42 1752.91,472.07 1753.41,472.17 1753.92,472.33 1754.42,472.27 1754.92,472.17 1755.42,472.19 1755.93,472.06 1756.43,472.27 1756.93,472.26 1757.43,472.09 1757.93,472.14 1758.44,471.99 1758.94,472.25 1759.44,472.22 1759.94,472.42 1760.44,471.92 1760.95,472.46 1761.45,472.16 1761.95,472.37 1762.45,472.14 1762.96,472.06 1763.46,472.51 1763.96,472.24 1764.46,472.53 1764.96,471.94 1765.47,472.28 1765.97,472.5 1766.47,472.33 1766.97,471.95 1767.47,471.92 1767.98,471.96 1768.48,472.35 1768.98,472.23 1769.48,471.89 1769.99,472.34 1770.49,472.26 1770.99,472.38 1771.49,472.42 1771.99,471.97 1772.5,472.08 1773,472.12 1773.5,472.09 1774,472.01 1774.51,471.92 1775.01,472.2 1775.51,472.26 1776.01,472.39 1776.51,472 1777.02,472.3 1777.52,472.48 1778.02,472.25 1778.52,472.2 1779.02,472.04 1779.53,472.01 1780.03,472.34 1780.53,472.35 1781.03,472.26 1781.54,472.43 1782.04,472.22 1782.54,472.11 1783.04,472.19 1783.54,472.5 1784.05,472.42 1784.55,471.96 1785.05,472.39 1785.55,472.06 1786.05,472.08 1786.56,472.26 1787.06,472.39 1787.56,472.16 1788.06,472.37 1788.57,472.23 1789.07,472.18 1789.57,472.34 1790.07,472.24 1790.57,472.26 1791.08,472.43 1791.58,472.24 1792.08,472.32 1792.58,472.54 1793.09,472.26 1793.59,472.25 1794.09,472.31 1794.59,472.59 1795.09,472.05 1795.6,472.07 1796.1,472.08 1796.6,472.14 1797.1,472.44 1797.6,472.18 1798.11,472.37 1798.61,471.79 1799.11,472.3 1799.61,472.07 1800.12,472.49 1800.62,472.42 1801.12,472.3 1801.62,472.07 1802.12,472.1 1802.63,472.15 1803.13,472.55 1803.63,471.99 1804.13,472.37 1804.63,471.9 1805.14,471.85 1805.64,472.04 1806.14,472.01 1806.64,472.44 1807.15,471.71 1807.65,472.16 1808.15,472.01 1808.65,472.36 1809.15,472.21 1809.66,472.42 1810.16,472.25 1810.66,472.2 1811.16,472.15 1811.67,471.94 1812.17,472.11 1812.67,472.15 1813.17,472.19 1813.67,471.82 1814.18,472.31 1814.68,471.98 1815.18,472.57 1815.68,472.37 1816.18,472.12 1816.69,472.23 1817.19,471.63 1817.69,471.71 1818.19,472.49 1818.7,472.4 1819.2,472.23 1819.7,471.87 1820.2,471.99 1820.7,472.14 1821.21,472.47 1821.71,472.36" fill="none" stroke="#56B4E9" stroke-width="2.1" stroke-linejoin="round" stroke-linecap="square"/>
</g>
<path d="M1099.1 492.35v4.86M1199.53 492.35v4.86M1299.96 492.35v4.86M1400.4 492.35v4.86M1500.83 492.35v4.86M1601.26 492.35v4.86M1701.69 492.35v4.86M1802.12 492.35v4.86M1099.1 472.2h-4.86M1099.1 409.4h-4.86M1099.1 346.6h-4.86M1099.1 283.8h-4.86M1099.1 221h-4.86M1099.1 158.2h-4.86M1099.1 95.4h-4.86" stroke="#000" stroke-width="1.11" fill="none"/>
<rect x="1099.1" y="66.4" width="714.57" height="425.95" fill="none" stroke="#000" stroke-width="1.11"/>
<text x="1099.1" y="521.35" font-size="25.8" text-anchor="middle">0</text>
<text x="1199.53" y="521.35" font-size="25.8" text-anchor="middle">200</text>
<text x="1299.96" y="521.35" font-size="25.8" text-anchor="middle">400</text>
<text x="1400.4" y="521.35" font-size="25.8" text-anchor="middle">600</text>
<text x="1500.83" y="521.35" font-size="25.8" text-anchor="middle">800</text>
<text x="1601.26" y="521.35" font-size="25.8" text-anchor="middle">1000</text>
<text x="1701.69" y="521.35" font-size="25.8" text-anchor="middle">1200</text>
<text x="1802.12" y="521.35" font-size="25.8" text-anchor="middle">1400</text>
<text x="1090.8" y="481.9" font-size="25.8" text-anchor="end">0</text>
<text x="1090.8" y="419.1" font-size="25.8" text-anchor="end">1</text>
<text x="1090.8" y="356.3" font-size="25.8" text-anchor="end">2</text>
<text x="1090.8" y="293.5" font-size="25.8" text-anchor="end">3</text>
<text x="1090.8" y="230.7" font-size="25.8" text-anchor="end">4</text>
<text x="1090.8" y="167.9" font-size="25.8" text-anchor="end">5</text>
<text x="1090.8" y="105.1" font-size="25.8" text-anchor="end">6</text>
<text x="1099.1" y="62.6" font-size="25.8">1e2</text>
<text y="550.7" font-size="25.8"><tspan x="1424.3">Time</tspan> <tspan x="1496.1" dy="-1.9" font-size="21" letter-spacing="-0.35">(minute)</tspan></text>
<text transform="translate(1063.55 347) rotate(-90)" font-size="25.8"><tspan x="0" letter-spacing="-0.45">Magnitude</tspan> <tspan x="143" dy="-1.7" font-size="21" letter-spacing="-0.5">(W/m^2)</tspan></text>
<rect x="1588.4" y="79.2" width="212.1" height="83.1" rx="5.3" ry="5.3" fill="#fff" fill-opacity="0.8" stroke="#ccc" stroke-width="1.3"/>
<path d="M1598.4 99.7h51.7" stroke="#E69F00" stroke-width="2.1" stroke-linecap="square"/>
<path d="M1598.4 137.3h51.7" stroke="#56B4E9" stroke-width="2.1" stroke-linecap="square"/>
<text x="1670.4" y="109.1" font-size="25.8">Predicted</text>
<text x="1670.4" y="146.7" font-size="25.8">Test</text>
</g>
<g id="ax3">
<clipPath id="c2"><rect x="146.07" y="619.62" width="714.57" height="425.95"/></clipPath>
<g clip-path="url(#c2)">
<polyline points="146.07,1003.36 146.57,997.99 147.07,1003.44 147.58,1003.92 148.08,1005.86 148.58,1003.17 149.08,1002.46 149.59,1004.87 150.09,1003.47 150.59,1012.65 151.09,1006.46 151.59,1004.75 152.1,1002.78 152.6,1006.83 153.1,1011.09 153.6,1005.27 154.1,1005.26 154.61,1004.31 155.11,1008.89 155.61,1010.13 156.11,1003.15 156.62,1003.73 157.12,1008.04 157.62,1009.07 158.12,1000.87 158.62,1006.16 159.13,1010.35 159.63,1009.37 160.13,1007.96 160.63,1011.53 161.13,1011.91 161.64,1009.83 162.14,1010.84 162.64,1007.19 163.14,1010.19 163.65,1014.74 164.15,1016.94 164.65,1014.1 165.15,1009.35 165.65,1013.97 166.16,1009.06 166.66,1009.24 167.16,1012.02 167.66,1007.68 168.17,1011.29 168.67,1008.09 169.17,1010.48 169.67,1013.93 170.17,1012.66 170.68,1007.19 171.18,1005.07 171.68,1007.92 172.18,1012.57 172.68,1012.46 173.19,1008.94 173.69,1012.56 174.19,1011.23 174.69,1013.82 175.2,1017.59 175.7,1014.26 176.2,1012.43 176.7,1015.13 177.2,1016.39 177.71,1019.51 178.21,1019.36 178.71,1018.97 179.21,1021.58 179.71,1020.07 180.22,1019.38 180.72,1023.83 181.22,1020.88 181.72,1018.52 182.23,1022 182.73,1026.95 183.23,1025.41 183.73,1021.56 184.23,1021.56 184.74,1024.26 185.24,1022.51 185.74,1018.04 186.24,1016.45 186.74,1019.17 187.25,1017.65 187.75,1019.04 188.25,1016.79 188.75,1016.33 189.26,1009.86 189.76,1011.41 190.26,1010.89 190.76,1010.09 191.26,1015.13 191.77,1013.77 192.27,1010.38 192.77,1008.99 193.27,1011.66 193.78,1013.6 194.28,1011.6 194.78,1016.25 195.28,1016.21 195.78,1012.44 196.29,1009.65 196.79,1014.57 197.29,1013.77 197.79,1011.77 198.29,1015.11 198.8,1016.24 199.3,1014.5 199.8,1011.15 200.3,1017.39 200.81,1018.87 201.31,1014.38 201.81,1012.39 202.31,1016.85 202.81,1013.53 203.32,1015.53 203.82,1012.98 204.32,1009.45 204.82,1006.39 205.32,1011.37 205.83,1008.4 206.33,1009.87 206.83,1006.54 207.33,1009.12 207.84,1009.98 208.34,1008.12 208.84,1005.13 209.34,1004.31 209.84,1005.96 210.35,1005.61 210.85,1008.9 211.35,1009.37 211.85,1007.29 212.36,1000.8 212.86,1009.55 213.36,1010.62 213.86,1014.47 214.36,1010.05 214.87,1008.65 215.37,1012.76 215.87,1007.12 216.37,1010.37 216.87,1016.28 217.38,1012.74 217.88,1011.29 218.38,1013.16 218.88,1013.94 219.39,1011.03 219.89,1008.33 220.39,1008.78 220.89,1009.22 221.39,1006.7 221.9,1013.04 222.4,1012.57 222.9,1013.66 223.4,1011.96 223.9,1019.57 224.41,1015.61 224.91,1017.69 225.41,1013.28 225.91,1018.55 226.42,1014.98 226.92,1018.51 227.42,1021.24 227.92,1022.88 228.42,1013.72 228.93,1014.23 229.43,1020.6 229.93,1016.98 230.43,1018.39 230.94,1015.88 231.44,1015.21 231.94,1015.45 232.44,1016.1 232.94,1021.83 233.45,1023.94 233.95,1020.09 234.45,1019.69 234.95,1017.16 235.45,1019.05 235.96,1014.27 236.46,1017.01 236.96,1013.99 237.46,1010.88 237.97,1017.14 238.47,1015.72 238.97,1012.83 239.47,1016.59 239.97,1011.51 240.48,1014.45 240.98,1010.91 241.48,1013.96 241.98,1015.61 242.48,1014.87 242.99,1015.31 243.49,1018.8 243.99,1018.92 244.49,1021.5 245,1017.06 245.5,1016.82 246,1016.65 246.5,1014.17 247,1015.64 247.51,1013.95 248.01,1010.57 248.51,1014.08 249.01,1014.13 249.51,1010.58 250.02,1013.83 250.52,1008.61 251.02,1011.44 251.52,1016.06 252.03,1011.23 252.53,1004.18 253.03,1010.3 253.53,1015.17 254.03,1011.27 254.54,1009.83 255.04,1008.17 255.54,1010.47 256.04,1013.77 256.55,1008.83 257.05,1007.94 257.55,1010.91 258.05,1006.32 258.55,1013.14 259.06,1010.55 259.56,1011.16 260.06,1009.69 260.56,1005.69 261.06,1008.69 261.57,1020.37 262.07,1011.62 262.57,1013.05 263.07,1008.87 263.58,1008.34 264.08,1012.78 264.58,1015.66 265.08,1009.44 265.58,1010.24 266.09,1007.43 266.59,1006.72 267.09,1010.1 267.59,1011.95 268.09,1016.11 268.6,1012.88 269.1,1009.76 269.6,1007.23 270.1,1011.69 270.61,1012.49 271.11,1009.36 271.61,1014.4 272.11,1009.08 272.61,1013.76 273.12,1012.64 273.62,1012.65 274.12,1012.66 274.62,1013.12 275.13,1016.28 275.63,1011.05 276.13,1014.32 276.63,1011.22 277.13,1010.26 277.64,1011.04 278.14,1007.5 278.64,1010.39 279.14,1009.42 279.64,1010.86 280.15,1014.38 280.65,1014.88 281.15,1011.62 281.65,1014.68 282.16,1012.6 282.66,1014.31 283.16,1011.55 283.66,1010.08 284.16,1010.09 284.67,1014.24 285.17,1010.35 285.67,1016.22 286.17,1013.46 286.67,1010.33 287.18,1011.37 287.68,1002.8 288.18,1008.67 288.68,1010.7 289.19,1008.46 289.69,1008.77 290.19,1012.48 290.69,1012.11 291.19,1011.81 291.7,1007.63 292.2,1007.61 292.7,1012.96 293.2,1007.74 293.71,1006.19 294.21,1007.45 294.71,1001.95 295.21,1006.75 295.71,1005.62 296.22,1007.16 296.72,1009.82 297.22,1005.79 297.72,1008.28 298.22,1010.31 298.73,1006.05 299.23,1007.69 299.73,1007.3 300.23,1009.34 300.74,1005.76 301.24,1007.33 301.74,1004.11 302.24,1009.08 302.74,1008.95 303.25,1008.42 303.75,1005.9 304.25,1004.06 304.75,1003.67 305.25,1007.76 305.76,1008.92 306.26,1009.37 306.76,1012.74 307.26,1010.09 307.77,1003.99 308.27,1003.33 308.77,1004.07 309.27,1006.31 309.77,1004.81 310.28,1008.13 310.78,1012.07 311.28,1007.99 311.78,1006.54 312.28,1006.58 312.79,1003.36 313.29,1005.05 313.79,1011.03 314.29,1008.98 314.8,1006.91 315.3,1009.89 315.8,1003.18 316.3,1004.56 316.8,1008.06 317.31,1007.62 317.81,1009.2 318.31,1011.09 318.81,1009.49 319.32,1005.32 319.82,1000.49 320.32,1010.26 320.82,1011.1 321.32,1004.83 321.83,1000.57 322.33,1003.23 322.83,999.32 323.33,1000.96 323.83,1000.76 324.34,1004.72 324.84,1004.15 325.34,1002.02 325.84,1003.35 326.35,1006.46 326.85,1003.35 327.35,1003.89 327.85,1006.36 328.35,1000.04 328.86,1002.72 329.36,1002.31 329.86,1000.49 330.36,1003.82 330.86,1001.06 331.37,1001.02 331.87,1003.6 332.37,1008.17 332.87,1009.02 333.38,1005.62 333.88,1002.31 334.38,1001.83 334.88,1002.43 335.38,1006.84 335.89,1005.94 336.39,1007.77 336.89,1004.04 337.39,1003.62 337.9,1004.74 338.4,1006.01 338.9,1007.72 339.4,1004.58 339.9,1005.66 340.41,1001.45 340.91,1004.73 341.41,1012.14 341.91,1013.23 342.41,1011.24 342.92,1008.59 343.42,1010.17 343.92,1004.12 344.42,1002.47 344.93,1008.82 345.43,1008.55 345.93,1007.11 346.43,1010.66 346.93,1009.33 347.44,1008.57 347.94,1008.4 348.44,1002.62 348.94,1003.49 349.44,1003.62 349.95,1006.22 350.45,1005.73 350.95,1004.3 351.45,1007.18 351.96,1004.24 352.46,1004.36 352.96,1006.66 353.46,1008.41 353.96,1006.63 354.47,1005.51 354.97,1006.87 355.47,1001.71 355.97,1002.9 356.48,1006.91 356.98,1006.65 357.48,1002.31 357.98,1004.75 358.48,1007.21 358.99,1006 359.49,1005.22 359.99,1000.98 360.49,1003.63 360.99,1004.44 361.5,1002.45 362,1001.68 362.5,1004.24 363,1001.76 363.51,1000.76 364.01,1002.24 364.51,999.39 365.01,997.36 365.51,999.38 366.02,1007.26 366.52,1004.99 367.02,997.67 367.52,997.76 368.02,999.49 368.53,1001.59 369.03,998.09 369.53,995.1 370.03,1004.22 370.54,1000.23 371.04,998.38 371.54,1000.9 372.04,1000.76 372.54,999.88 373.05,1004.74 373.55,1006.6 374.05,1001.5 374.55,1006.02 375.05,1011.76 375.56,1003.29 376.06,1007.22 376.56,1001.3 377.06,1006.4 377.57,1006.66 378.07,1005.18 378.57,1001.5 379.07,998.73 379.57,999.77 380.08,1001.62 380.58,1004.45 381.08,1005.01 381.58,1002.49 382.09,1003.32 382.59,1000.64 383.09,1007.19 383.59,1000.57 384.09,1002.62 384.6,1001.9 385.1,1002.74 385.6,1003.8 386.1,1005.41 386.6,998.34 387.11,1002.78 387.61,1002.26 388.11,1000.3 388.61,995.87 389.12,988.68 389.62,988.35 390.12,983.36 390.62,985.3 391.12,978.92 391.63,979.26 392.13,978.52 392.63,976.45 393.13,977.83 393.63,975.72 394.14,973.22 394.64,976.79 395.14,975.42 395.64,974.86 396.15,970.47 396.65,967.35 397.15,966.72 397.65,964.58 398.15,972.13 398.66,970.4 399.16,965.79 399.66,960.62 400.16,954.88 400.67,954.15 401.17,949.35 401.67,949.34 402.17,950.5 402.67,954.5 403.18,955.08 403.68,963.41 404.18,965.35 404.68,965.49 405.18,969.12 405.69,968.2 406.19,959.19 406.69,952.68 407.19,939.42 407.7,938.98 408.2,937.49 408.7,935.58 409.2,935.25 409.7,937.78 410.21,936.4 410.71,942.34 411.21,945.54 411.71,946.61 412.21,946.22 412.72,945.67 413.22,935.83 413.72,923.84 414.22,914.64 414.73,905.95 415.23,897.39 415.73,893.16 416.23,900.72 416.73,902.03 417.24,904.46 417.74,901.68 418.24,897.41 418.74,895.15 419.25,894.85 419.75,896.12 420.25,898.29 420.75,904.6 421.25,907.24 421.76,904.25 422.26,913.95 422.76,922.05 423.26,922.13 423.76,924.22 424.27,926.91 424.77,926.02 425.27,919.36 425.77,912.19 426.28,908.88 426.78,905.3 427.28,899.88 427.78,896.52 428.28,893.66 428.79,891.37 429.29,892.96 429.79,896.36 430.29,898.08 430.79,895.59 431.3,885.04 431.8,882.84 432.3,880.28 432.8,881.59 433.31,880.13 433.81,877.24 434.31,873.16 434.81,868.21 435.31,868.28 435.82,870.58 436.32,876.01 436.82,877.93 437.32,881.72 437.82,886.51 438.33,888.57 438.83,887.26 439.33,882.43 439.83,877.64 440.34,876.94 440.84,877.21 441.34,879.98 441.84,883.77 442.34,897.41 442.85,901.72 443.35,902.09 443.85,901.83 444.35,896.08 444.86,897.45 445.36,902.93 445.86,904.77 446.36,902.87 446.86,901.48 447.37,894.99 447.87,889.62 448.37,879 448.87,869.78 449.37,862.1 449.88,860.74 450.38,862.79 450.88,867.63 451.38,878.41 451.89,885.98 452.39,890.33 452.89,885.19 453.39,878.56 453.89,873.05 454.4,860.38 454.9,847.27 455.4,828.5 455.9,808.52 456.4,795.86 456.91,787.66 457.41,779 457.91,776.03 458.41,783.1 458.92,795.65 459.42,808.7 459.92,820.46 460.42,841.05 460.92,851.98 461.43,859.37 461.93,855.17 462.43,845.88 462.93,831.88 463.44,815.93 463.94,798.18 464.44,771.56 464.94,759.67 465.44,749.87 465.95,751.36 466.45,755.27 466.95,767.47 467.45,782.13 467.95,778.7 468.46,775.51 468.96,778.86 469.46,782.64 469.96,803.14 470.47,824.28 470.97,830.61 471.47,813.91 471.97,775.06 472.47,750.85 472.98,732.01 473.48,714.64 473.98,720.69 474.48,722.77 474.98,726.67 475.49,727.62 475.99,730.35 476.49,739.29 476.99,751.65 477.5,777.5 478,799.7 478.5,823.66 479,848.59 479.5,857.08 480.01,855.06 480.51,848.54 481.01,838.67 481.51,829.12 482.02,817.81 482.52,810.16 483.02,810.87 483.52,811.98 484.02,814.26 484.53,814.58 485.03,798.99 485.53,786.82 486.03,780.46 486.53,782.61 487.04,791.52 487.54,806.44 488.04,822.4 488.54,843.16 489.05,850.94 489.55,846.31 490.05,835.78 490.55,823.63 491.05,816.69 491.56,818.18 492.06,823.15 492.56,831.35 493.06,838.23 493.56,843.62 494.07,845.61 494.57,838.28 495.07,828.47 495.57,815.13 496.08,808.15 496.58,813.53 497.08,820.81 497.58,832.2 498.08,838.6 498.59,844.12 499.09,836.54 499.59,830.11 500.09,826.01 500.59,830.35 501.1,832.68 501.6,836.93 502.1,827.45 502.6,811.98 503.11,803.03 503.61,796.67 504.11,793.84 504.61,790 505.11,785.19 505.62,781.23 506.12,779.28 506.62,777.22 507.12,775.97 507.63,776.37 508.13,775.18 508.63,773.99 509.13,774 509.63,773.86 510.14,772.03 510.64,771.71 511.14,769.09 511.64,767.95 512.14,765.64 512.65,763.41 513.15,760.74 513.65,759.33 514.15,756.69 514.66,753.39 515.16,749.28 515.66,747.39 516.16,744.05 516.66,742.46 517.17,741.66 517.67,740.67 518.17,739.35 518.67,735.22 519.17,730.79 519.68,738.94 520.18,743.54 520.68,748.55 521.18,753.33 521.69,755.99 522.19,757.52 522.69,756.13 523.19,751.9 523.69,749.4 524.2,743.07 524.7,739.54 525.2,737 525.7,733.78 526.21,726.78 526.71,715.19 527.21,719.8 527.71,722.92 528.21,722.38 528.72,724.24 529.22,728.69 529.72,732.48 530.22,737.9 530.72,743.58 531.23,751.41 531.73,756.55 532.23,761.85 532.73,763.09 533.24,767.05 533.74,772.93 534.24,790.52 534.74,813.17 535.24,837.38 535.75,859.39 536.25,888.47 536.75,909.34 537.25,926.08 537.75,936.79 538.26,939.53 538.76,944.38 539.26,945.14 539.76,941.51 540.27,938.2 540.77,931.4 541.27,925.75 541.77,929.52 542.27,921.22 542.78,921.15 543.28,918.37 543.78,924.62 544.28,937.61 544.79,926.32 545.29,920.09 545.79,916.51 546.29,914.25 546.79,907.21 547.3,896.97 547.8,886.83 548.3,878.05 548.8,868.22 549.3,871.59 549.81,883.88 550.31,866.14 550.81,857.09 551.31,857.05 551.82,856.57 552.32,854.17 552.82,852.22 553.32,849.68 553.82,847.06 554.33,856.57 554.83,874.06 555.33,854.56 555.83,846.01 556.33,848.33 556.84,846.9 557.34,843.45 557.84,832.76 558.34,821.24 558.85,810.45 559.35,803.29 559.85,798.77 560.35,800.12 560.85,805.2 561.36,811.45 561.86,819.68 562.36,828.84 562.86,843.73 563.36,861.1 563.87,877.76 564.37,891.26 564.87,900.36 565.37,909.2 565.88,908.57 566.38,907.54 566.88,902.35 567.38,892.84 567.88,878.07 568.39,861.86 568.89,845.1 569.39,831.45 569.89,819.92 570.4,808.37 570.9,796.92 571.4,784.97 571.9,772.71 572.4,761.77 572.91,749.98 573.41,735.56 573.91,722.47 574.41,710.24 574.91,689.53 575.42,665.73 575.92,653.9 576.42,648.47 576.92,668.76 577.43,697.68 577.93,747.94 578.43,813.01 578.93,879.15 579.43,928.91 579.94,957.91 580.44,960.87 580.94,965.14 581.44,969.41 581.94,972.03 582.45,977.94 582.95,968.92 583.45,968.16 583.95,975.13 584.46,969.79 584.96,966.94 585.46,966.47 585.96,967.2 586.46,962.95 586.97,963.96 587.47,959.55 587.97,957.59 588.47,957.57 588.98,955.28 589.48,955.79 589.98,950.53 590.48,947.09 590.98,951.13 591.49,948.63 591.99,952.02 592.49,959.63 592.99,965.55 593.49,966.56 594,967.46 594.5,970.91 595,971.43 595.5,976.34 596.01,976.7 596.51,977.08 597.01,977.07 597.51,974.51 598.01,973.6 598.52,971.22 599.02,967.81 599.52,968.05 600.02,966.59 600.52,972.4 601.03,965.56 601.53,964.25 602.03,965.34 602.53,963.72 603.04,968.96 603.54,969.95 604.04,971.06 604.54,973.35 605.04,978.17 605.55,972.7 606.05,969.76 606.55,969.54 607.05,970.85 607.56,974.06 608.06,981.22 608.56,981.63 609.06,985.01 609.56,987.69 610.07,986.8 610.57,987.49 611.07,989.41 611.57,987.04 612.07,990.7 612.58,993.51 613.08,993.69 613.58,994.76 614.08,989.62 614.59,991.48 615.09,989.62 615.59,991.77 616.09,993.46 616.59,996.43 617.1,996.58 617.6,996.85 618.1,997.01 618.6,998.4 619.1,999.27 619.61,1000.66 620.11,995.46 620.61,994.71 621.11,992.77 621.62,1001.67 622.12,996.21 622.62,1003.85 623.12,1008.18 623.62,1006 624.13,1011.62 624.63,1005.54 625.13,1011.05 625.63,1006.65 626.13,1006.41 626.64,1008.79 627.14,1006.74 627.64,1007.66 628.14,1005.89 628.65,1008.95 629.15,1010.27 629.65,1005.76 630.15,1006.04 630.65,1007.91 631.16,1009.26 631.66,1006.78 632.16,1001.04 632.66,1006.88 633.17,1002.23 633.67,1001.56 634.17,1000.33 634.67,999.88 635.17,1002.86 635.68,998.35 636.18,1008.9 636.68,999.19 637.18,999.71 637.68,1004.5 638.19,1002.88 638.69,1005.58 639.19,1007.49 639.69,1012.89 640.2,1009.65 640.7,1006.49 641.2,1007.54 641.7,1007.1 642.2,1003.06 642.71,1002.27 643.21,1006.52 643.71,1006.42 644.21,1005.89 644.71,1010.11 645.22,1005.13 645.72,1016.48 646.22,1014.41 646.72,1015.61 647.23,1016.61 647.73,1009.02 648.23,1002.04 648.73,1001.66 649.23,1001.22 649.74,1000.31 650.24,999.71 650.74,998.46 651.24,1000.21 651.75,999.82 652.25,997.52 652.75,999.92 653.25,996.34 653.75,997.9 654.26,1003.24 654.76,998.43 655.26,996.81 655.76,1000.69 656.26,999.78 656.77,998.94 657.27,996.79 657.77,994.52 658.27,998.28 658.78,992.32 659.28,997.27 659.78,993.48 660.28,992.19 660.78,991.08 661.29,993.67 661.79,986.6 662.29,992.32 662.79,995.46 663.29,988.04 663.8,988.31 664.3,993.71 664.8,995.92 665.3,992.61 665.81,997.71 666.31,995.22 666.81,991.26 667.31,991.13 667.81,992.1 668.32,994.17 668.82,993.15 669.32,992.08 669.82,988.43 670.33,994.88 670.83,998.14 671.33,997.75 671.83,998.47 672.33,994.44 672.84,999.11 673.34,1002.82 673.84,1006.89 674.34,1012.09 674.84,1004.79 675.35,998.69 675.85,1002.78 676.35,1004.33 676.85,1000.11 677.36,1004.56 677.86,1001.3 678.36,998.32 678.86,1001.65 679.36,1002.51 679.87,1000.35 680.37,997.44 680.87,999.64 681.37,1005.81 681.87,999.17 682.38,1004.4 682.88,1004.88 683.38,1006.01 683.88,1009.1 684.39,1004.9 684.89,1001.33 685.39,1003.68 685.89,1003.91 686.39,1004.04 686.9,1001.62 687.4,1003.92 687.9,1008.87 688.4,1010.62 688.9,1011.93 689.41,1013.03 689.91,1017.9 690.41,1015.75 690.91,1020.73 691.42,1014.84 691.92,1010.4 692.42,1009.87 692.92,1011 693.42,1007.49 693.93,1008.85 694.43,1006.19 694.93,1005.84 695.43,1008.95 695.94,1005.82 696.44,1001.77 696.94,1000.62 697.44,1002.17 697.94,1007.4 698.45,1001.35 698.95,999.55 699.45,1003.59 699.95,1004.91 700.45,1010.51 700.96,1006.16 701.46,1003.49 701.96,1012.86 702.46,1011.43 702.97,1006.34 703.47,1007.15 703.97,1006.17 704.47,1010.95 704.97,1005.98 705.48,1004.68 705.98,1003.78 706.48,1008.79 706.98,1007.88 707.48,1002.85 707.99,1001.77 708.49,1004.18 708.99,1003.42 709.49,997.38 710,1005.64 710.5,1009.57 711,1006.57 711.5,1014.27 712,1013.45 712.51,1013.45 713.01,1020.27 713.51,1018.36 714.01,1012.3 714.52,1015.64 715.02,1013.7 715.52,1012.58 716.02,1014.72 716.52,1011.12 717.03,1010.67 717.53,1005.72 718.03,1008.93 718.53,1006.64 719.03,1007.68 719.54,1007.86 720.04,1004.6 720.54,1002.28 721.04,1008.67 721.55,1008.8 722.05,1008.99 722.55,1016.77 723.05,1011.71 723.55,1014.66 724.06,1016.28 724.56,1016.41 725.06,1020.24 725.56,1017.61 726.06,1020.87 726.57,1022.05 727.07,1023.71 727.57,1021.47 728.07,1027.25 728.58,1026.62 729.08,1026.42 729.58,1022.82 730.08,1023.69 730.58,1019.53 731.09,1014.83 731.59,1022.25 732.09,1013.14 732.59,1015.34 733.1,1015.74 733.6,1016.79 734.1,1014.21 734.6,1010.48 735.1,1011.66 735.61,1006.56 736.11,1011.93 736.61,1007.81 737.11,1009 737.61,1015.39 738.12,1010.69 738.62,1008.99 739.12,1011.53 739.62,1005.73 740.13,1006.96 740.63,1007.92 741.13,1005.68 741.63,1006.06 742.13,1010.42 742.64,1017.58 743.14,1015.94 743.64,1014.72 744.14,1009.42 744.64,1014.3 745.15,1018.34 745.65,1018.48 746.15,1021.7 746.65,1019.28 747.16,1019.78 747.66,1029.13 748.16,1027.13 748.66,1023.22 749.16,1021.74 749.67,1025.1 750.17,1024.48 750.67,1018.79 751.17,1021.63 751.67,1021.16 752.18,1022.91 752.68,1016.96 753.18,1018.37 753.68,1016.61 754.19,1010.23 754.69,1012.41 755.19,1013.23 755.69,1009.2 756.19,1010.54 756.7,1013.95 757.2,1014.8 757.7,1012.77 758.2,1010.93 758.71,1007.62 759.21,1005.83 759.71,1005.44 760.21,1011.34 760.71,1007.91 761.22,1012.06 761.72,1009.63 762.22,1007.03 762.72,1007.8 763.22,1009.7 763.73,1005.67 764.23,1002.53 764.73,1007.17 765.23,1007.96 765.74,1007.4 766.24,1002.82 766.74,1003.05 767.24,1006.46 767.74,1009.53 768.25,1009.62 768.75,1018.73 769.25,1010.9 769.75,1009.54 770.25,1009.94 770.76,1012.23 771.26,1011.27 771.76,1012.27 772.26,1012.92 772.77,1013.4 773.27,1019.81 773.77,1014.48 774.27,1014.29 774.77,1011.72 775.28,1011.19 775.78,1008.47 776.28,1009.66 776.78,1010.42 777.29,1011.27 777.79,1011.41 778.29,1004.78 778.79,1007.73 779.29,1009.4 779.8,1008.87 780.3,1007.79 780.8,1007.24 781.3,1008.34 781.8,1009.93 782.31,1004.61 782.81,1006.28 783.31,1001.68 783.81,1006.26 784.32,1005.56 784.82,1011.97 785.32,1006.75 785.82,1001.92 786.32,1001.24 786.83,1002.92 787.33,1007.55 787.83,1000.01 788.33,1004.71 788.83,1006.49 789.34,1007.05 789.84,1003.43 790.34,1007.58 790.84,999.19 791.35,1001.5 791.85,1006.57 792.35,1002.39 792.85,1003.39 793.35,1011.36 793.86,1008.83 794.36,1010.29 794.86,1014.53 795.36,1010.93 795.87,1016.1 796.37,1013.63 796.87,1013.63 797.37,1021.76 797.87,1019.98 798.38,1017.9 798.88,1020.1 799.38,1020.38 799.88,1020.08 800.38,1019.49 800.89,1014.95 801.39,1017.27 801.89,1018.26 802.39,1018.01 802.9,1018.01 803.4,1017.02 803.9,1018.68 804.4,1012.13 804.9,1014.12 805.41,1012.79 805.91,1012.16 806.41,1012.44 806.91,1007.25 807.41,1017.07 807.92,1009.37 808.42,1010.2 808.92,1009.25 809.42,1009.14 809.93,1009.63 810.43,1008.64 810.93,1007.55 811.43,1004.31 811.93,1001.44 812.44,1003.71 812.94,1011.09 813.44,1006.95 813.94,1006.82 814.44,1011.51 814.95,1013.58 815.45,1014.52 815.95,1011.94 816.45,1010.53 816.96,1014.97 817.46,1019.53 817.96,1016.01 818.46,1021.91 818.96,1022.92 819.47,1019.49 819.97,1019.53 820.47,1016.18 820.97,1020.76 821.48,1017.61 821.98,1018.38 822.48,1016.12 822.98,1014.07 823.48,1015.6 823.99,1011.19 824.49,1013.59 824.99,1010.99 825.49,1007.36 825.99,1011.02 826.5,1007.78 827,1009.1 827.5,1008.84 828,1011.08 828.51,1008.79 829.01,1006.26 829.51,1005.69 830.01,1011.03 830.51,1017.41 831.02,1013.1 831.52,1011.5 832.02,1015.58 832.52,1011.42 833.02,1013.04 833.53,1014.18 834.03,1012.74 834.53,1017.56 835.03,1015.26 835.54,1020.86 836.04,1012.06 836.54,1013.2 837.04,1012.71 837.54,1010.84 838.05,1012.5 838.55,1011.81 839.05,1012.39 839.55,1007.71 840.06,1003.4 840.56,1011.22 841.06,1006.41 841.56,1007.49 842.06,1008.34 842.57,1010.82 843.07,1005.52 843.57,1006.82 844.07,1003.75 844.57,1002.23 845.08,1003.26 845.58,1010.55 846.08,1004.12 846.58,1009.77 847.09,1013.17 847.59,1010.29 848.09,1006.94 848.59,1007.31 849.09,1008.58 849.6,1008.3 850.1,1010.83 850.6,1011.73 851.1,1008.46 851.6,1010.49 852.11,1009.53 852.61,1008.71 853.11,1012.34 853.61,1012.59 854.12,1015.64 854.62,1017.17 855.12,1017.52 855.62,1018.34 856.12,1013.17 856.63,1015.76 857.13,1011.68 857.63,1014.77 858.13,1013.01 858.64,1012.77 859.14,1014.88 859.64,1013.76 860.14,1012.17 860.64,1008.78 861.15,1010.13 861.65,1011.58 862.15,1012.74 862.65,1012.13 863.15,1017.59 863.66,1012.41 864.16,1011.17 864.66,1009.15 865.16,1011.49 865.67,1012.44 866.17,1012.17 866.67,1011.95 867.17,1013.41 867.67,1011.61 868.18,1010.76 868.68,1010.53" fill="none" stroke="#E69F00" stroke-width="2.1" stroke-linejoin="round" stroke-linecap="square"/>
<polyline points="146.07,994.51 146.57,994.88 147.07,994.79 147.58,994.73 148.08,994.94 148.58,994.8 149.08,994.8 149.59,995.1 150.09,994.62 150.59,994.7 151.09,994.91 151.59,994.83 152.1,994.71 152.6,994.85 153.1,994.84 153.6,995.05 154.1,994.7 154.61,994.78 155.11,994.75 155.61,995.06 156.11,994.51 156.62,994.77 157.12,994.87 157.62,994.45 158.12,994.81 158.62,995.05 159.13,994.87 159.63,995.2 160.13,994.62 160.63,994.87 161.13,994.93 161.64,994.61 162.14,995.09 162.64,994.71 163.14,995.16 163.65,994.91 164.15,995.01 164.65,994.55 165.15,994.49 165.65,994.86 166.16,994.65 166.66,994.83 167.16,994.7 167.66,994.93 168.17,995.1 168.67,995.11 169.17,994.73 169.67,994.41 170.17,994.75 170.68,994.89 171.18,994.47 171.68,994.76 172.18,994.78 172.68,994.76 173.19,994.82 173.69,994.85 174.19,995.05 174.69,994.71 175.2,994.82 175.7,994.59 176.2,994.86 176.7,995.13 177.2,994.82 177.71,994.51 178.21,994.87 178.71,994.95 179.21,995.01 179.71,994.98 180.22,994.85 180.72,995 181.22,994.54 181.72,994.85 182.23,994.78 182.73,994.55 183.23,994.54 183.73,994.84 184.23,994.74 184.74,994.67 185.24,994.83 185.74,995.11 186.24,994.69 186.74,994.64 187.25,994.73 187.75,994.96 188.25,994.83 188.75,994.9 189.26,994.85 189.76,994.58 190.26,994.53 190.76,994.68 191.26,994.7 191.77,994.68 192.27,994.8 192.77,994.81 193.27,994.92 193.78,994.81 194.28,994.41 194.78,994.65 195.28,994.86 195.78,994.88 196.29,994.95 196.79,994.74 197.29,994.73 197.79,995.05 198.29,994.72 198.8,994.9 199.3,994.55 199.8,994.77 200.3,994.5 200.81,994.88 201.31,994.85 201.81,994.75 202.31,994.62 202.81,994.7 203.32,995.01 203.82,994.77 204.32,994.8 204.82,994.87 205.32,994.91 205.83,994.5 206.33,994.87 206.83,994.95 207.33,994.69 207.84,994.78 208.34,994.81 208.84,994.66 209.34,994.72 209.84,994.74 210.35,994.63 210.85,994.75 211.35,994.91 211.85,994.86 212.36,994.89 212.86,994.76 213.36,994.99 213.86,995.12 214.36,994.78 214.87,995.03 215.37,995.14 215.87,994.74 216.37,994.92 216.87,994.71 217.38,994.89 217.88,994.99 218.38,995.02 218.88,994.89 219.39,994.85 219.89,994.94 220.39,994.85 220.89,995.07 221.39,994.8 221.9,995.11 222.4,994.83 222.9,994.68 223.4,994.61 223.9,994.5 224.41,995.07 224.91,994.67 225.41,994.59 225.91,994.63 226.42,994.96 226.92,994.73 227.42,994.48 227.92,995.06 228.42,994.72 228.93,994.61 229.43,994.92 229.93,994.7 230.43,994.99 230.94,994.94 231.44,994.94 231.94,994.77 232.44,994.82 232.94,994.63 233.45,994.96 233.95,994.82 234.45,994.63 234.95,994.7 235.45,995.03 235.96,994.68 236.46,994.88 236.96,994.73 237.46,994.75 237.97,994.59 238.47,994.78 238.97,995.12 239.47,995.04 239.97,994.67 240.48,994.84 240.98,994.6 241.48,994.75 241.98,994.93 242.48,994.61 242.99,994.94 243.49,995.16 243.99,994.44 244.49,995.13 245,994.69 245.5,994.64 246,994.77 246.5,995.09 247,994.62 247.51,995.05 248.01,995.03 248.51,994.86 249.01,994.66 249.51,994.75 250.02,994.66 250.52,994.88 251.02,994.83 251.52,995 252.03,994.85 252.53,994.7 253.03,994.85 253.53,994.72 254.03,994.9 254.54,994.9 255.04,994.79 255.54,994.83 256.04,994.7 256.55,994.77 257.05,994.5 257.55,994.84 258.05,994.84 258.55,994.98 259.06,994.8 259.56,994.68 260.06,994.93 260.56,994.81 261.06,994.68 261.57,994.82 262.07,994.89 262.57,994.63 263.07,994.78 263.58,994.73 264.08,994.6 264.58,994.6 265.08,994.86 265.58,994.89 266.09,994.75 266.59,994.82 267.09,995.13 267.59,994.58 268.09,994.8 268.6,994.67 269.1,995 269.6,994.58 270.1,994.9 270.61,994.82 271.11,995.04 271.61,994.83 272.11,994.84 272.61,994.83 273.12,994.72 273.62,994.79 274.12,994.63 274.62,994.88 275.13,994.97 275.63,994.8 276.13,994.69 276.63,994.58 277.13,994.66 277.64,995.11 278.14,994.73 278.64,994.55 279.14,994.79 279.64,994.89 280.15,994.75 280.65,994.89 281.15,994.69 281.65,994.8 282.16,994.56 282.66,994.71 283.16,994.93 283.66,994.7 284.16,994.64 284.67,994.9 285.17,994.87 285.67,995.2 286.17,994.64 286.67,994.9 287.18,995.17 287.68,995.11 288.18,994.84 288.68,994.67 289.19,994.82 289.69,994.72 290.19,994.99 290.69,995.03 291.19,994.65 291.7,994.71 292.2,994.81 292.7,994.58 293.2,994.96 293.71,994.87 294.21,994.62 294.71,994.48 295.21,994.8 295.71,994.51 296.22,994.9 296.72,994.74 297.22,994.83 297.72,995.08 298.22,994.76 298.73,994.64 299.23,994.83 299.73,994.81 300.23,994.56 300.74,995.02 301.24,995.06 301.74,994.91 302.24,995.01 302.74,994.57 303.25,994.75 303.75,994.95 304.25,994.91 304.75,994.3 305.25,994.91 305.76,994.93 306.26,994.75 306.76,994.69 307.26,994.76 307.77,994.96 308.27,995 308.77,994.7 309.27,994.81 309.77,995.08 310.28,994.6 310.78,994.67 311.28,994.84 311.78,994.85 312.28,994.76 312.79,994.92 313.29,995.03 313.79,994.74 314.29,995.05 314.8,994.73 315.3,995.05 315.8,994.82 316.3,994.82 316.8,994.49 317.31,994.98 317.81,995.05 318.31,994.91 318.81,994.99 319.32,994.9 319.82,994.73 320.32,994.67 320.82,994.51 321.32,994.93 321.83,994.34 322.33,994.46 322.83,994.84 323.33,995.2 323.83,994.81 324.34,994.79 324.84,995.2 325.34,994.79 325.84,994.83 326.35,994.94 326.85,994.69 327.35,994.63 327.85,994.88 328.35,994.76 328.86,994.91 329.36,994.94 329.86,994.79 330.36,994.71 330.86,994.9 331.37,995.18 331.87,994.7 332.37,995.08 332.87,994.78 333.38,994.49 333.88,994.8 334.38,995.01 334.88,995.05 335.38,994.6 335.89,994.8 336.39,994.71 336.89,994.64 337.39,994.81 337.9,994.85 338.4,994.96 338.9,995.33 339.4,995.06 339.9,994.81 340.41,994.83 340.91,994.73 341.41,994.82 341.91,994.77 342.41,994.66 342.92,994.95 343.42,994.85 343.92,995.08 344.42,994.63 344.93,994.79 345.43,994.72 345.93,994.53 346.43,994.61 346.93,994.81 347.44,994.64 347.94,995 348.44,994.64 348.94,994.65 349.44,994.91 349.95,994.34 350.45,994.64 350.95,994.34 351.45,994.47 351.96,994.17 352.46,993.95 352.96,994.13 353.46,994.04 353.96,993.56 354.47,993.14 354.97,993.08 355.47,992.85 355.97,992.38 356.48,992.67 356.98,992.03 357.48,992.31 357.98,991.1 358.48,991.29 358.99,991.13 359.49,990.36 359.99,990.49 360.49,989.26 360.99,989.12 361.5,988.46 362,988.15 362.5,986.82 363,986.88 363.51,986.09 364.01,985.66 364.51,985.86 365.01,984.68 365.51,984.32 366.02,983.86 366.52,983.74 367.02,983.27 367.52,982.16 368.02,980.96 368.53,982.06 369.03,980.88 369.53,980.89 370.03,979.83 370.54,979.55 371.04,978.76 371.54,980.3 372.04,978.69 372.54,978.43 373.05,977.53 373.55,977.42 374.05,976.94 374.55,975.82 375.05,974.8 375.56,976.92 376.06,975.39 376.56,974.86 377.06,974.83 377.57,974.86 378.07,975.28 378.57,975.11 379.07,974.31 379.57,974.2 380.08,974.78 380.58,975.3 381.08,974.73 381.58,974.78 382.09,974.21 382.59,974.26 383.09,974.48 383.59,973.9 384.09,974.51 384.6,973.37 385.1,973.09 385.6,974.2 386.1,973.21 386.6,970.95 387.11,965.31 387.61,960.47 388.11,957.02 388.61,954.24 389.12,953.1 389.62,951.52 390.12,950.09 390.62,948.6 391.12,947.89 391.63,948.09 392.13,949.19 392.63,950.04 393.13,951.23 393.63,949.79 394.14,946.97 394.64,943.35 395.14,942.63 395.64,942.9 396.15,943.24 396.65,944.43 397.15,945.77 397.65,942.38 398.15,934.88 398.66,932.07 399.16,929.57 399.66,926.83 400.16,927.25 400.67,928.8 401.17,931.95 401.67,936.19 402.17,940.06 402.67,943.82 403.18,946.13 403.68,947.45 404.18,946.31 404.68,941.11 405.18,932.26 405.69,918.06 406.19,916.66 406.69,915.46 407.19,915.17 407.7,912.66 408.2,913.21 408.7,915.93 409.2,918.96 409.7,921.53 410.21,924.15 410.71,925.82 411.21,925.86 411.71,915.92 412.21,902.79 412.72,893.88 413.22,886.39 413.72,880.1 414.22,874.89 414.73,883.05 415.23,885.57 415.73,888.71 416.23,885.36 416.73,880.35 417.24,878.35 417.74,876.79 418.24,878.62 418.74,883.19 419.25,886.62 419.75,888.82 420.25,892.87 420.75,898.88 421.25,905.14 421.76,910.82 422.26,914.08 422.76,913.12 423.26,909.9 423.76,906.52 424.27,902.49 424.77,897.64 425.27,893.64 425.77,890.13 426.28,885.33 426.78,882.19 427.28,880.21 427.78,883.93 428.28,887.15 428.79,889.83 429.29,889.16 429.79,873.06 430.29,872.08 430.79,871.81 431.3,872.82 431.8,874.15 432.3,870.24 432.8,863.74 433.31,858.94 433.81,860.37 434.31,864.51 434.81,868.97 435.31,870.63 435.82,872.64 436.32,879.74 436.82,885.7 437.32,879.78 437.82,873.57 438.33,870.19 438.83,869.38 439.33,870.08 439.83,872.1 440.34,874.75 440.84,891.01 441.34,896.52 441.84,900.51 442.34,896.11 442.85,889.91 443.35,888.35 443.85,895.21 444.35,903.43 444.86,901.31 445.36,896.75 445.86,892.42 446.36,886.07 446.86,874.61 447.37,863.95 447.87,855.59 448.37,851.35 448.87,855.83 449.37,861.57 449.88,873.92 450.38,882.8 450.88,889.73 451.38,880.33 451.89,874.74 452.39,870.88 452.89,859.2 453.39,845.93 453.89,825.09 454.4,802.22 454.9,790.72 455.4,782.45 455.9,773.71 456.4,767.26 456.91,776.69 457.41,793.11 457.91,803.17 458.41,814.37 458.92,840.47 459.42,853.28 459.92,862.16 460.42,854.37 460.92,841.68 461.43,829.72 461.93,814.4 462.43,798.62 462.93,766.01 463.44,751.9 463.94,744.33 464.44,744.69 464.94,746.99 465.44,766.27 465.95,787.26 466.45,780.18 466.95,771.91 467.45,772.7 467.95,773.08 468.46,799.03 468.96,831.48 469.46,842.12 469.96,819.92 470.47,765.79 470.97,745.76 471.47,727.64 471.97,703.66 472.47,717.17 472.98,721.65 473.48,726.13 473.98,726.52 474.48,726.6 474.98,733.87 475.49,743.88 475.99,777.09 476.49,797.48 476.99,821.39 477.5,853.33 478,861.96 478.5,854.8 479,847.13 479.5,836.8 480.01,826.26 480.51,814.69 481.01,807.1 481.51,808.36 482.02,810.13 482.52,814.53 483.02,817.91 483.52,798.34 484.02,784.09 484.53,774.43 485.03,780.5 485.53,787.61 486.03,802.74 486.53,820.2 487.04,847.07 487.54,856.33 488.04,848.73 488.54,835.94 489.05,817.84 489.55,812.92 490.05,817.14 490.55,820.24 491.05,829.54 491.56,839.16 492.06,845.63 492.56,849.27 493.06,842.2 493.56,830.59 494.07,809.97 494.57,802.89 495.07,810.56 495.57,820.08 496.08,831.93 496.58,841.69 497.08,850.29 497.58,836.57 498.08,828.31 498.59,822.86 499.09,828.71 499.59,833.79 500.09,843.21 500.59,831.18 501.1,808.63 501.6,800.59 502.1,795.92 502.6,793.54 503.11,790.28 503.61,785.33 504.11,781.08 504.61,778.5 505.11,775.79 505.62,776.06 506.12,776.19 506.62,775.28 507.12,773.9 507.63,775.13 508.13,773.8 508.63,773.29 509.13,770.73 509.63,768.75 510.14,768.15 510.64,765.94 511.14,763.09 511.64,761.11 512.14,758.73 512.65,755.8 513.15,753.18 513.65,748.76 514.15,746.83 514.66,743.85 515.16,742.07 515.66,741.36 516.16,740.57 516.66,739.25 517.17,739.07 517.67,738.68 518.17,740.91 518.67,741.59 519.17,749.2 519.68,756.29 520.18,756.54 520.68,756.82 521.18,756.45 521.69,754.49 522.19,749.88 522.69,742.48 523.19,738.74 523.69,736.05 524.2,733.84 524.7,731.3 525.2,727.48 525.7,725.59 526.21,722.97 526.71,721.18 527.21,722.76 527.71,728.07 528.21,732.02 528.72,738.33 529.22,745.14 529.72,752.33 530.22,757.98 530.72,762.42 531.23,763.86 531.73,764.69 532.23,765.55 532.73,787.54 533.24,812.07 533.74,836.56 534.24,861.25 534.74,886.09 535.24,906.97 535.75,925.87 536.25,934.44 536.75,940.55 537.25,943.16 537.75,945.49 538.26,943.29 538.76,938.05 539.26,934.37 539.76,928.51 540.27,923.57 540.77,920.89 541.27,920.07 541.77,919.08 542.27,917.99 542.78,917.83 543.28,918.97 543.78,920.98 544.28,918.03 544.79,912.71 545.29,906.73 545.79,895.91 546.29,885.31 546.79,876.93 547.3,868.6 547.8,863.34 548.3,859.51 548.8,859.43 549.3,857.97 549.81,857.53 550.31,856.29 550.81,854.87 551.31,853.18 551.82,849.55 552.32,846.15 552.82,844.94 553.32,843.78 553.82,843.22 554.33,846.07 554.83,849.39 555.33,848.71 555.83,845.88 556.33,834.08 556.84,819.8 557.34,809.9 557.84,800.79 558.34,795.58 558.85,798.21 559.35,805.04 559.85,811.22 560.35,819.28 560.85,827.92 561.36,843.85 561.86,861.39 562.36,878.74 562.86,893.85 563.36,903.03 563.87,909.68 564.37,910.36 564.87,910.93 565.37,903.75 565.88,892.95 566.38,879.46 566.88,862.1 567.38,844.21 567.88,829.29 568.39,818.55 568.89,807.5 569.39,797.62 569.89,785.93 570.4,773.66 570.9,761.58 571.4,749.5 571.9,734.47 572.4,723.57 572.91,713.74 573.41,691.37 573.91,663.57 574.41,649.03 574.91,638.41 575.42,662.65 575.92,690.2 576.42,737.54 576.92,806.85 577.43,884.55 577.93,935.94 578.43,962.56 578.93,963.96 579.43,964.09 579.94,964.54 580.44,964.11 580.94,965.39 581.44,965.25 581.94,965.71 582.45,963.81 582.95,963.32 583.45,962.64 583.95,961.61 584.46,959.77 584.96,957.88 585.46,955.39 585.96,952.91 586.46,949.23 586.97,947.32 587.47,946.03 587.97,944.08 588.47,941.58 588.98,940.84 589.48,940.67 589.98,940.29 590.48,945.85 590.98,952.02 591.49,955.62 591.99,957.85 592.49,958.09 592.99,959.7 593.49,960.51 594,961.14 594.5,960.89 595,961.71 595.5,962.09 596.01,961.3 596.51,962.59 597.01,962.32 597.51,959.7 598.01,960.56 598.52,959.49 599.02,958.27 599.52,956.97 600.02,956.24 600.52,956.11 601.03,956.73 601.53,957.95 602.03,959.41 602.53,959.47 603.04,959.58 603.54,958.95 604.04,959.3 604.54,958.62 605.04,960.86 605.55,962.94 606.05,965.83 606.55,967.72 607.05,969.71 607.56,971.71 608.06,972.96 608.56,973.95 609.06,975.5 609.56,977.22 610.07,977.37 610.57,977.21 611.07,977.24 611.57,976.58 612.07,976.27 612.58,976.27 613.08,976.16 613.58,976.12 614.08,976.81 614.59,977.96 615.09,977.44 615.59,978.26 616.09,979.72 616.59,980.12 617.1,980.32 617.6,980.22 618.1,979.78 618.6,980.11 619.1,980.32 619.61,980.74 620.11,981.27 620.61,982.23 621.11,986.65 621.62,988.11 622.12,989.81 622.62,989.49 623.12,987.32 623.62,987.17 624.13,986.68 624.63,985.49 625.13,986.6 625.63,987.86 626.13,987.81 626.64,989.48 627.14,990.36 627.64,991.2 628.14,990.76 628.65,990.91 629.15,990.76 629.65,990.4 630.15,990.14 630.65,990.37 631.16,989.94 631.66,991.06 632.16,990.39 632.66,990.64 633.17,991.36 633.67,991.36 634.17,990.67 634.67,990.92 635.17,989.63 635.68,989.09 636.18,989.17 636.68,988.13 637.18,987.21 637.68,986.83 638.19,986.5 638.69,986.76 639.19,986.52 639.69,986.22 640.2,985.44 640.7,984.28 641.2,984.53 641.7,984.18 642.2,984.05 642.71,985.28 643.21,984.22 643.71,984.01 644.21,982.8 644.71,982.23 645.22,983.12 645.72,982.44 646.22,981.86 646.72,982.12 647.23,981.92 647.73,981.67 648.23,980.62 648.73,981.35 649.23,980.18 649.74,980.63 650.24,980.2 650.74,979.72 651.24,980.82 651.75,981.63 652.25,982.06 652.75,983.55 653.25,983.17 653.75,982.51 654.26,981.99 654.76,982.39 655.26,981.74 655.76,981.05 656.26,980.48 656.77,982.02 657.27,980.16 657.77,980.2 658.27,981.04 658.78,981 659.28,979.76 659.78,979.94 660.28,979.44 660.78,978.93 661.29,979.71 661.79,979.65 662.29,979.75 662.79,979.83 663.29,979.68 663.8,980 664.3,981.09 664.8,981.7 665.3,980.72 665.81,981.97 666.31,982.39 666.81,983.36 667.31,982.55 667.81,983.5 668.32,983.5 668.82,984.17 669.32,984.39 669.82,984.94 670.33,986.61 670.83,986.94 671.33,986.77 671.83,987.54 672.33,987.37 672.84,986.88 673.34,986.91 673.84,985.7 674.34,986.91 674.84,986.58 675.35,987.14 675.85,988.78 676.35,988.48 676.85,989.07 677.36,989.61 677.86,988.98 678.36,988.6 678.86,987.73 679.36,987.22 679.87,987.99 680.37,987.31 680.87,986.61 681.37,986.57 681.87,988.92 682.38,987.51 682.88,988.71 683.38,988.15 683.88,989.46 684.39,989.86 684.89,989.19 685.39,988.28 685.89,988.48 686.39,989.32 686.9,987.4 687.4,988.32 687.9,987.74 688.4,987.58 688.9,987.69 689.41,987.13 689.91,986.7 690.41,986.19 690.91,985.6 691.42,985.49 691.92,985.92 692.42,985.39 692.92,985.03 693.42,985.3 693.93,985.95 694.43,985.86 694.93,985.88 695.43,985.77 695.94,985.69 696.44,986.81 696.94,986.85 697.44,986.02 697.94,986.07 698.45,986.3 698.95,988.58 699.45,987.76 699.95,989.66 700.45,987.91 700.96,988.59 701.46,989.01 701.96,989.56 702.46,989.21 702.97,990.31 703.47,989.87 703.97,990.33 704.47,990.57 704.97,990.52 705.48,990.7 705.98,991.32 706.48,990.38 706.98,990.29 707.48,990.57 707.99,989.91 708.49,989.15 708.99,989.69 709.49,989.62 710,990.58 710.5,991.63 711,991.74 711.5,993.09 712,993.52 712.51,993.55 713.01,993.84 713.51,994.16 714.01,993.41 714.52,994.95 715.02,994.66 715.52,995.48 716.02,994.77 716.52,994.65 717.03,994.64 717.53,994.96 718.03,994.89 718.53,994.62 719.03,994.85 719.54,994.66 720.04,994.99 720.54,994.58 721.04,994.64 721.55,994.73 722.05,994.95 722.55,994.83 723.05,994.78 723.55,994.75 724.06,994.82 724.56,994.84 725.06,994.77 725.56,994.56 726.06,995.15 726.57,995.04 727.07,995.07 727.57,994.92 728.07,995.1 728.58,994.7 729.08,994.78 729.58,994.84 730.08,994.92 730.58,994.77 731.09,994.77 731.59,994.74 732.09,994.93 732.59,994.69 733.1,995.05 733.6,994.58 734.1,995.33 734.6,994.9 735.1,995.01 735.61,994.66 736.11,995.06 736.61,994.48 737.11,995.07 737.61,994.45 738.12,994.72 738.62,994.79 739.12,994.72 739.62,994.42 740.13,994.65 740.63,995.19 741.13,994.59 741.63,994.76 742.13,995.08 742.64,994.67 743.14,995.01 743.64,994.77 744.14,994.76 744.64,994.91 745.15,994.69 745.65,994.98 746.15,994.77 746.65,994.89 747.16,994.83 747.66,994.47 748.16,994.78 748.66,994.99 749.16,994.82 749.67,994.93 750.17,994.8 750.67,994.77 751.17,994.79 751.67,994.79 752.18,994.89 752.68,994.72 753.18,994.62 753.68,994.91 754.19,994.81 754.69,994.79 755.19,994.58 755.69,994.61 756.19,994.93 756.7,994.79 757.2,995.06 757.7,994.97 758.2,994.8 758.71,994.69 759.21,994.63 759.71,994.85 760.21,995.03 760.71,994.73 761.22,994.83 761.72,994.73 762.22,994.77 762.72,994.68 763.22,994.69 763.73,994.65 764.23,994.88 764.73,994.63 765.23,994.89 765.74,994.79 766.24,994.48 766.74,994.74 767.24,995 767.74,994.54 768.25,994.63 768.75,994.6 769.25,994.77 769.75,994.74 770.25,994.84 770.76,994.92 771.26,994.53 771.76,994.86 772.26,994.88 772.77,994.88 773.27,994.48 773.77,994.65 774.27,994.86 774.77,994.81 775.28,994.71 775.78,994.65 776.28,995.08 776.78,994.64 777.29,994.84 777.79,994.92 778.29,994.87 778.79,994.66 779.29,994.5 779.8,994.77 780.3,994.7 780.8,994.94 781.3,994.71 781.8,994.66 782.31,995.06 782.81,994.89 783.31,994.66 783.81,995.1 784.32,994.86 784.82,994.7 785.32,995.09 785.82,994.87 786.32,994.79 786.83,994.65 787.33,995.02 787.83,994.61 788.33,994.75 788.83,994.59 789.34,994.6 789.84,994.74 790.34,994.72 790.84,995.1 791.35,995.03 791.85,994.97 792.35,994.86 792.85,994.64 793.35,995.11 793.86,994.86 794.36,995.03 794.86,995.07 795.36,994.54 795.87,994.78 796.37,994.52 796.87,994.59 797.37,994.96 797.87,995.12 798.38,994.44 798.88,994.87 799.38,995 799.88,994.68 800.38,994.78 800.89,994.92 801.39,994.86 801.89,994.77 802.39,994.79 802.9,994.67 803.4,994.86 803.9,994.86 804.4,994.7 804.9,994.75 805.41,994.61 805.91,994.84 806.41,994.82 806.91,995 807.41,994.54 807.92,995.04 808.42,994.76 808.92,994.95 809.42,994.74 809.93,994.67 810.43,995.08 810.93,994.84 811.43,995.1 811.93,994.56 812.44,994.88 812.94,995.07 813.44,994.92 813.94,994.57 814.44,994.54 814.95,994.58 815.45,994.94 815.95,994.83 816.45,994.52 816.96,994.93 817.46,994.86 817.96,994.97 818.46,995 818.96,994.59 819.47,994.69 819.97,994.72 820.47,994.7 820.97,994.62 821.48,994.54 821.98,994.8 822.48,994.86 822.98,994.98 823.48,994.61 823.99,994.89 824.49,995.06 824.99,994.85 825.49,994.8 825.99,994.66 826.5,994.63 827,994.93 827.5,994.94 828,994.86 828.51,995.01 829.01,994.82 829.51,994.72 830.01,994.79 830.51,995.08 831.02,995.01 831.52,994.58 832.02,994.98 832.52,994.67 833.02,994.69 833.53,994.86 834.03,994.97 834.53,994.76 835.03,994.95 835.54,994.83 836.04,994.78 836.54,994.92 837.04,994.84 837.54,994.85 838.05,995.01 838.55,994.83 839.05,994.91 839.55,995.12 840.06,994.86 840.56,994.85 841.06,994.9 841.56,995.16 842.06,994.67 842.57,994.68 843.07,994.69 843.57,994.74 844.07,995.02 844.57,994.78 845.08,994.96 845.58,994.42 846.08,994.89 846.58,994.68 847.09,995.07 847.59,995 848.09,994.89 848.59,994.68 849.09,994.71 849.6,994.75 850.1,995.12 850.6,994.6 851.1,994.96 851.6,994.52 852.11,994.48 852.61,994.66 853.11,994.63 853.61,995.02 854.12,994.35 854.62,994.76 855.12,994.63 855.62,994.95 856.12,994.81 856.63,995.01 857.13,994.84 857.63,994.8 858.13,994.76 858.64,994.56 859.14,994.72 859.64,994.76 860.14,994.79 860.64,994.45 861.15,994.9 861.65,994.59 862.15,995.14 862.65,994.95 863.15,994.73 863.66,994.83 864.16,994.28 864.66,994.35 865.16,995.06 865.67,994.99 866.17,994.82 866.67,994.5 867.17,994.6 867.67,994.74 868.18,995.05 868.68,994.95" fill="none" stroke="#56B4E9" stroke-width="2.1" stroke-linejoin="round" stroke-linecap="square"/>
</g>
<path d="M146.07 1045.57v4.86M246.5 1045.57v4.86M346.93 1045.57v4.86M447.37 1045.57v4.86M547.8 1045.57v4.86M648.23 1045.57v4.86M748.66 1045.57v4.86M849.09 1045.57v4.86M146.07 994.8h-4.86M146.07 937.03h-4.86M146.07 879.26h-4.86M146.07 821.49h-4.86M146.07 763.72h-4.86M146.07 705.95h-4.86M146.07 648.18h-4.86" stroke="#000" stroke-width="1.11" fill="none"/>
<rect x="146.07" y="619.62" width="714.57" height="425.95" fill="none" stroke="#000" stroke-width="1.11"/>
<text x="146.07" y="1074.57" font-size="25.8" text-anchor="middle">0</text>
<text x="246.5" y="1074.57" font-size="25.8" text-anchor="middle">200</text>
<text x="346.93" y="1074.57" font-size="25.8" text-anchor="middle">400</text>
<text x="447.37" y="1074.57" font-size="25.8" text-anchor="middle">600</text>
<text x="547.8" y="1074.57" font-size="25.8" text-anchor="middle">800</text>
<text x="648.23" y="1074.57" font-size="25.8" text-anchor="middle">1000</text>
<text x="748.66" y="1074.57" font-size="25.8" text-anchor="middle">1200</text>
<text x="849.09" y="1074.57" font-size="25.8" text-anchor="middle">1400</text>
<text x="137.77" y="1004.5" font-size="25.8" text-anchor="end">0</text>
<text x="137.77" y="946.73" font-size="25.8" text-anchor="end">1</text>
<text x="137.77" y="888.96" font-size="25.8" text-anchor="end">2</text>
<text x="137.77" y="831.19" font-size="25.8" text-anchor="end">3</text>
<text x="137.77" y="773.42" font-size="25.8" text-anchor="end">4</text>
<text x="137.77" y="715.65" font-size="25.8" text-anchor="end">5</text>
<text x="137.77" y="657.88" font-size="25.8" text-anchor="end">6</text>
<text x="146.07" y="615.82" font-size="25.8">1e2</text>
<text y="1103.92" font-size="25.8"><tspan x="471.27">Time</tspan> <tspan x="543.07" dy="-1.9" font-size="21" letter-spacing="-0.35">(minute)</tspan></text>
<text transform="translate(110.5 900.22) rotate(-90)" font-size="25.8"><tspan x="0" letter-spacing="-0.45">Magnitude</tspan> <tspan x="143" dy="-1.7" font-size="21" letter-spacing="-0.5">(W/m^2)</tspan></text>
<rect x="635.4" y="632.5" width="212.1" height="83.1" rx="5.3" ry="5.3" fill="#fff" fill-opacity="0.8" stroke="#ccc" stroke-width="1.3"/>
<path d="M645.4 653h51.7" stroke="#E69F00" stroke-width="2.1" stroke-linecap="square"/>
<path d="M645.4 690.6h51.7" stroke="#56B4E9" stroke-width="2.1" stroke-linecap="square"/>
<text x="717.4" y="662.4" font-size="25.8">Predicted</text>
<text x="717.4" y="700" font-size="25.8">Test</text>
</g>
<g id="ax4">
<clipPath id="c3"><rect x="1099.1" y="619.62" width="714.57" height="425.95"/></clipPath>
<g clip-path="url(#c3)">
<polyline points="1099.56,693.35 1102.09,650.32 1103.86,643.99 1106.39,642.72 1108.93,645.25 1110.19,650.32 1111.46,643.99 1112.72,642.72 1113.99,652.85 1115.26,700.95 1116.02,765.51 1117.03,678.16 1117.79,700.95 1118.55,802.22 1119.56,909.81 1120.32,852.85 1120.83,708.54 1121.84,643.99 1123.36,645.25 1124.37,662.97 1125.38,749.05 1126.14,685.76 1127.16,845.25 1127.92,895.89 1128.68,697.15 1129.69,751.58 1130.96,756.65 1131.97,657.91 1132.98,726.27 1133.74,889.56 1134.75,897.15 1135.51,766.77 1136.78,714.87 1137.79,892.09 1138.8,845.25 1140.07,757.91 1141.08,878.16 1141.84,954.11 1142.86,700.95 1144.38,698.42 1145.39,859.18 1146.4,674.37 1147.41,776.9 1148.68,857.91 1149.69,695.89 1150.45,655.38 1151.21,726.27 1152.22,787.03 1153.24,793.35 1154,662.97 1155.01,726.27 1156.02,903.48 1156.78,965.51 1157.8,802.22 1158.55,692.09 1159.57,865.51 1160.58,847.78 1161.59,711.08 1162.61,662.97 1163.62,761.71 1164.63,799.68 1165.64,832.59 1166.66,726.27 1167.67,673.1 1168.94,675.63 1169.95,674.37 1170.96,700.95 1172.23,723.73 1173.24,752.85 1174.25,671.84 1175.52,685.76 1176.53,700.95 1177.8,728.8 1179.06,706.01 1180.33,702.22 1181.6,708.54 1182.86,703.48 1184.13,713.61 1184.89,827.53 1185.9,931.33 1186.91,908.54 1187.93,697.15 1188.94,799.68 1190.21,676.9 1191.22,700.95 1192.23,802.22 1192.99,660.44 1194,776.9 1195.27,949.05 1196.28,692.09 1197.3,776.9 1198.31,857.91 1199.32,662.97 1200.33,852.85 1201.35,975.63 1202.36,903.48 1203.37,906.01 1204.39,743.99 1205.15,837.66 1205.91,660.44 1206.92,802.22 1207.93,890.82 1208.94,718.67 1209.7,812.34 1210.72,713.61 1211.48,799.68 1212.24,675.63 1213.5,659.18 1214.77,668.04 1216.03,673.1 1217.3,687.03 1219.07,684.49 1220.84,685.76 1222.87,678.16 1224.14,673.1 1225.4,655.38 1226.42,675.63 1227.68,703.48 1229.2,688.29 1230.72,670.57 1232.24,657.91 1233.51,673.1 1235.02,685.76 1236.8,693.35 1238.32,685.76 1239.84,681.96 1241.86,679.43 1243.63,676.9 1245.15,684.49 1246.93,689.56 1248.7,673.1 1249.71,666.77 1250.98,679.43 1251.99,670.57 1253,681.96 1254.52,669.3 1256.04,681.96 1257.31,664.24 1258.57,675.63 1259.84,685.76 1260.85,766.77 1261.61,728.8 1262.37,662.97 1263.13,728.8 1263.89,656.65 1264.9,700.95 1265.92,770.57 1266.93,668.04 1267.94,755.38 1268.95,678.16 1269.97,787.03 1270.98,731.33 1271.99,646.52 1273.01,698.42 1274.02,647.78 1275.03,783.23 1275.79,693.35 1276.8,645.25 1277.82,697.15 1278.83,647.78 1279.84,700.95 1280.86,646.52 1281.87,714.87 1282.88,650.32 1284.4,651.58 1285.92,655.38 1287.44,654.11 1288.96,656.65 1289.97,700.95 1290.98,751.58 1292,647.78 1293.01,646.52 1294.02,662.97 1295.04,646.52 1296.05,749.05 1297.06,643.99 1298.07,700.95 1299.09,643.99 1300.1,754.11 1301.37,643.99 1302.63,651.58 1303.9,647.78 1305.67,650.32 1307.19,647.78 1308.96,652.85 1310.73,656.65 1312.25,662.97 1313.27,700.95 1314.28,776.9 1315.04,817.41 1315.8,797.15 1316.56,670.57 1317.82,662.97 1319.09,661.71 1320.36,665.51 1321.62,670.57 1322.63,684.49 1323.65,670.57 1324.91,656.65 1325.04,655.38 1326.18,659.18 1327.07,660.44 1327.45,675.63 1328.08,700.95 1328.46,751.58 1328.84,852.85 1329.6,1013.61 1330.36,802.22 1331.12,792.09 1331.88,911.08 1332.64,749.05 1333.65,761.71 1334.66,726.27 1335.68,827.53 1336.69,951.58 1337.7,817.41 1338.46,726.27 1339.47,802.22 1340.49,751.58 1341.25,676.9 1342.26,679.43 1343.27,726.27 1344.28,827.53 1345.04,913.61 1345.8,822.47 1346.82,968.04 1347.83,832.59 1348.59,919.94 1349.6,730.06 1350.61,802.22 1351.63,880.7 1352.39,751.58 1353.4,916.14 1354.41,746.52 1355.43,813.61 1356.44,706.01 1357.45,751.58 1358.21,852.85 1358.97,931.33 1359.73,802.22 1360.74,746.52 1361.76,706.01 1362.77,766.77 1363.78,769.3 1364.79,662.97 1366.06,668.04 1367.07,688.29 1368.09,766.77 1369.1,835.13 1369.86,849.05 1370.62,687.03 1371.38,802.22 1372.39,908.54 1373.15,852.85 1373.91,718.67 1374.92,875.63 1375.68,684.49 1376.7,802.22 1377.45,898.42 1378.21,718.67 1379.23,818.67 1379.99,676.9 1381.25,657.91 1382.27,651.58 1383.79,654.11 1385.3,665.51 1386.82,668.04 1388.34,664.24 1389.86,661.71 1391.38,670.57 1392.39,685.76 1393.66,704.75 1394.93,688.29 1395.94,673.1 1396.95,693.35 1397.96,735.13 1398.98,700.95 1399.99,671.84 1401,657.91 1402.27,651.58 1403.54,656.65 1404.8,654.11 1406.07,659.18 1407.33,675.63 1408.35,703.48 1409.36,719.94 1410.37,688.29 1411.39,673.1 1412.65,668.04 1413.66,679.43 1414.42,726.27 1415.18,757.91 1416.2,711.08 1417.21,751.58 1418.22,754.11 1419.23,723.73 1420.25,700.95 1421.26,776.9 1422.02,685.76 1423.29,685.76 1424.3,741.46 1425.31,721.2 1426.32,722.47 1427.34,733.86 1428.35,726.27 1429.36,703.48 1430.38,716.14 1431.39,776.9 1432.4,812.34 1433.41,811.08 1434.43,776.9 1435.44,775.63 1436.45,776.9 1437.21,827.53 1437.97,861.71 1438.73,751.58 1439.49,706.01 1440.5,709.81 1441.52,718.67 1442.53,713.61 1443.54,695.89 1444.56,711.08 1445.57,700.95 1446.58,693.35 1447.59,711.08 1448.61,689.56 1449.62,723.73 1450.89,678.16 1451.9,675.63 1452.91,670.57 1453.92,679.43 1454.94,726.27 1455.7,827.53 1456.46,921.2 1457.22,827.53 1457.98,685.76 1459.24,681.96 1460.51,679.43 1461.52,700.95 1462.53,726.27 1463.55,743.99 1464.56,713.61 1465.57,716.14 1466.58,751.58 1467.6,742.72 1468.61,765.51 1469.62,773.1 1470.64,746.52 1471.65,743.99 1472.66,759.18 1473.67,774.37 1475.19,778.16 1476.46,784.49 1477.22,827.53 1477.98,855.38 1478.99,802.22 1480,787.03 1481.02,765.51 1482.03,776.9 1482.79,827.53 1483.55,842.72 1484.31,817.41 1485.07,798.42 1486.08,807.28 1487.09,832.59 1488.36,827.53 1489.63,802.22 1490.89,766.77 1491.91,738.92 1492.67,750.32 1493.68,700.95 1494.69,662.97 1495.96,645.25 1497.22,641.46 1499.25,641.46 1501.02,641.46 1502.29,642.72 1503.55,641.46 1504.57,656.65 1505.58,642.72 1506.34,675.63 1507.1,712.34 1507.86,711.08 1508.62,776.9 1509.63,846.52 1510.39,751.58 1511.15,651.58 1511.91,675.63 1512.67,713.61 1513.43,802.22 1514.44,916.14 1515.2,802.22 1515.96,700.95 1516.72,651.58 1517.48,688.29 1518.24,802.22 1519.25,919.94 1520.01,802.22 1521.02,700.95 1522.04,652.85 1523.3,643.99 1524.57,642.72 1525.84,647.78 1527.1,657.91 1528.11,700.95 1529.13,765.51 1529.89,692.09 1530.65,713.61 1531.41,704.75 1532.42,751.58 1533.43,802.22 1534.45,827.53 1535.46,833.86 1536.47,807.28 1537.48,726.27 1538.5,675.63 1539.51,647.78 1540.78,641.46 1542.29,641.46 1543.81,642.72 1545.08,655.38 1546.09,675.63 1547.11,726.27 1548.12,728.8 1549.13,711.08 1550.14,700.95 1551.16,679.43 1552.17,726.27 1553.18,789.56 1553.94,702.22 1554.96,726.27 1555.08,700.95 1556.09,792.09 1557.11,743.99 1558.12,776.9 1559.13,746.52 1560.15,675.63 1561.41,654.11 1562.68,652.85 1563.94,662.97 1565.21,690.82 1566.22,680.7 1567.24,850.32 1568.25,726.27 1569.26,678.16 1570.27,675.63 1571.54,679.43 1572.81,726.27 1574.07,840.19 1575.09,700.95 1576.1,646.52 1577.36,645.25 1579.14,649.05 1580.4,650.32 1581.92,651.58 1583.44,657.91 1584.71,726.27 1585.97,854.11 1586.99,751.58 1588,662.97 1589.01,743.99 1590.02,643.99 1591.29,641.46 1592.56,642.72 1593.82,650.32 1595.09,662.97 1596.1,700.95 1597.11,802.22 1598.63,974.37 1599.65,802.22 1600.66,873.1 1601.67,706.01 1602.69,802.22 1603.7,956.65 1604.71,817.41 1605.47,903.48 1606.23,1026.27 1607.24,827.53 1608.26,741.46 1609.27,784.49 1610.28,718.67 1611.29,743.99 1612.31,719.94 1613.32,688.29 1614.08,666.77 1615.09,679.43 1616.11,683.23 1617.12,726.27 1617.88,792.09 1618.89,698.42 1619.9,708.54 1620.92,756.65 1621.93,700.95 1622.94,674.37 1623.95,690.82 1624.97,673.1 1625.98,660.44 1626.99,678.16 1628.01,713.61 1629.02,700.95 1630.03,721.2 1631.04,700.95 1631.8,802.22 1632.56,883.23 1633.32,751.58 1634.34,650.32 1635.35,662.97 1636.36,700.95 1637.37,726.27 1638.39,770.57 1639.4,670.57 1640.41,802.22 1641.17,852.85 1641.93,903.48 1642.69,776.9 1643.71,687.03 1644.72,776.9 1645.73,841.46 1646.74,802.22 1647.76,764.24 1648.77,947.78 1649.78,827.53 1650.8,869.3 1651.81,799.68 1652.82,889.56 1653.83,776.9 1654.85,697.15 1655.86,671.84 1656.87,761.71 1657.88,792.09 1658.9,869.3 1659.91,751.58 1660.92,690.82 1661.94,655.38 1662.95,726.27 1663.96,770.57 1664.97,802.22 1665.99,865.51 1667,726.27 1668.01,668.04 1669.03,751.58 1670.04,827.53 1671.05,906.01 1672.06,726.27 1673.08,700.95 1674.09,647.78 1675.1,668.04 1676.12,789.56 1677.13,668.04 1678.14,670.57 1679.15,784.49 1680.17,769.3 1681.18,973.1 1682.19,987.03 1683.21,802.22 1684.22,703.48 1685.23,814.87 1685.99,702.22 1686.75,969.3 1687.76,852.85 1688.78,916.14 1689.79,662.97 1690.8,751.58 1691.82,860.44 1692.83,776.9 1693.84,827.53 1694.85,680.7 1695.87,726.27 1696.88,841.46 1697.89,751.58 1698.9,738.92 1699.92,671.84 1700.93,751.58 1701.94,736.39 1702.7,912.34 1703.72,781.96 1704.48,780.7 1705.24,978.16 1706.25,802.22 1707.01,718.67 1707.77,903.48 1708.78,1008.54 1709.79,802.22 1710.55,690.82 1711.31,776.9 1712.07,678.16 1713.08,802.22 1713.84,851.58 1714.86,751.58 1715.87,792.09 1716.88,680.7 1717.9,766.77 1718.91,688.29 1719.92,700.95 1720.93,651.58 1721.95,751.58 1722.71,797.15 1723.72,706.01 1724.73,733.86 1725.75,700.95 1726.5,660.44 1727.52,713.61 1728.53,718.67 1729.54,813.61 1730.56,706.01 1731.57,776.9 1732.33,842.72 1733.34,680.7 1734.1,751.58 1734.86,649.05 1735.87,683.23 1736.89,726.27 1737.9,833.86 1738.91,680.7 1739.92,751.58 1740.94,652.85 1741.95,832.59 1742.96,684.49 1743.98,726.27 1744.99,792.09 1746,675.63 1747.01,761.71 1748.03,651.58 1749.04,726.27 1749.55,846.52 1750.56,670.57 1751.57,751.58 1752.33,903.48 1753.35,1016.14 1754.36,852.85 1755.12,703.48 1756.13,827.53 1756.89,917.41 1757.9,885.76 1758.92,709.81 1759.93,751.58 1760.94,832.59 1761.95,728.8 1762.97,741.46 1764.23,911.08 1765.25,711.08 1766.26,797.15 1767.27,675.63 1768.28,751.58 1769.8,847.78 1770.82,676.9 1771.83,802.22 1772.84,909.81 1773.86,840.19 1774.87,1023.73 1775.88,903.48 1776.89,989.56 1777.91,687.03 1778.92,838.92 1779.93,654.11 1780.94,700.95 1781.96,817.41 1782.97,726.27 1783.98,766.77 1785,676.9 1786.01,713.61 1787.02,712.34 1788.03,827.53 1789.3,787.03 1790.57,936.39 1791.58,692.09 1792.59,776.9 1793.61,866.77 1794.62,700.95 1796.07,726.27 1797.09,700.95 1798.1,650.32 1799.11,726.27 1800.13,652.85 1801.14,721.2 1802.15,654.11 1803.16,738.92 1804.18,656.65 1805.19,835.13 1806.2,874.37 1807.22,693.35 1808.23,822.47 1809.24,726.27 1810.25,862.97 1811.27,721.2 1812.03,718.67 1813.04,917.41 1813.55,827.53 1814.56,776.9" fill="none" stroke="#E69F00" stroke-width="2.1" stroke-linejoin="round" stroke-linecap="square"/>
<polyline points="1099.1,639.1 1099.6,639.1 1100.1,639.1 1100.61,639.1 1101.11,639.1 1101.61,639.1 1102.11,639.1 1102.62,639.1 1103.12,639.1 1103.62,639.1 1104.12,639.1 1104.62,639.1 1105.13,639.1 1105.63,639.1 1106.13,639.1 1106.63,639.1 1107.13,639.1 1107.64,639.1 1108.14,639.1 1108.64,639.1 1109.14,639.1 1109.65,639.1 1110.15,639.1 1110.65,639.1 1111.15,639.1 1111.65,639.1 1112.16,639.1 1112.66,639.1 1113.16,639.1 1113.66,639.1 1114.16,639.1 1114.67,639.1 1115.17,639.1 1115.67,639.1 1116.17,639.1 1116.68,639.1 1117.18,639.1 1117.68,639.1 1118.18,639.1 1118.68,639.1 1119.19,639.1 1119.69,639.1 1120.19,639.1 1120.69,639.1 1121.2,639.1 1121.7,639.1 1122.2,639.1 1122.7,639.1 1123.2,639.1 1123.71,639.1 1124.21,639.1 1124.71,639.1 1125.21,639.1 1125.71,639.1 1126.22,639.1 1126.72,639.1 1127.22,639.1 1127.72,639.1 1128.23,639.1 1128.73,639.1 1129.23,639.1 1129.73,639.1 1130.23,639.1 1130.74,639.1 1131.24,639.1 1131.74,639.1 1132.24,639.1 1132.74,639.1 1133.25,639.1 1133.75,639.1 1134.25,639.1 1134.75,639.1 1135.26,639.1 1135.76,639.1 1136.26,639.1 1136.76,639.1 1137.26,639.1 1137.77,639.1 1138.27,639.1 1138.77,639.1 1139.27,639.1 1139.77,639.1 1140.28,639.1 1140.78,639.1 1141.28,639.1 1141.78,639.1 1142.29,639.1 1142.79,639.1 1143.29,639.1 1143.79,639.1 1144.29,639.1 1144.8,639.1 1145.3,639.1 1145.8,639.1 1146.3,639.1 1146.81,639.1 1147.31,639.1 1147.81,639.1 1148.31,639.1 1148.81,639.1 1149.32,639.1 1149.82,639.1 1150.32,639.1 1150.82,639.1 1151.32,639.1 1151.83,639.1 1152.33,639.1 1152.83,639.1 1153.33,639.1 1153.84,639.1 1154.34,639.1 1154.84,639.1 1155.34,639.1 1155.84,639.1 1156.35,639.1 1156.85,639.1 1157.35,639.1 1157.85,639.1 1158.35,639.1 1158.86,639.1 1159.36,639.1 1159.86,639.1 1160.36,639.1 1160.87,639.1 1161.37,639.1 1161.87,639.1 1162.37,639.1 1162.87,639.1 1163.38,639.1 1163.88,639.1 1164.38,639.1 1164.88,639.1 1165.39,639.1 1165.89,639.1 1166.39,639.1 1166.89,639.1 1167.39,639.1 1167.9,639.1 1168.4,639.1 1168.9,639.1 1169.4,639.1 1169.9,639.1 1170.41,639.1 1170.91,639.1 1171.41,639.1 1171.91,639.1 1172.42,639.1 1172.92,639.1 1173.42,639.1 1173.92,639.1 1174.42,639.1 1174.93,639.1 1175.43,639.1 1175.93,639.1 1176.43,639.1 1176.93,639.1 1177.44,639.1 1177.94,639.1 1178.44,639.1 1178.94,639.1 1179.45,639.1 1179.95,639.1 1180.45,639.1 1180.95,639.1 1181.45,639.1 1181.96,639.1 1182.46,639.1 1182.96,639.1 1183.46,639.1 1183.97,639.1 1184.47,639.1 1184.97,639.1 1185.47,639.1 1185.97,639.1 1186.48,639.1 1186.98,639.1 1187.48,639.1 1187.98,639.1 1188.48,639.1 1188.99,639.1 1189.49,639.1 1189.99,639.1 1190.49,639.1 1191,639.1 1191.5,639.1 1192,639.1 1192.5,639.1 1193,639.1 1193.51,639.1 1194.01,639.1 1194.51,639.1 1195.01,639.1 1195.51,639.1 1196.02,639.1 1196.52,639.1 1197.02,639.1 1197.52,639.1 1198.03,639.1 1198.53,639.1 1199.03,639.1 1199.53,639.1 1200.03,639.1 1200.54,639.1 1201.04,639.1 1201.54,639.1 1202.04,639.1 1202.54,639.1 1203.05,639.1 1203.55,639.1 1204.05,639.1 1204.55,639.1 1205.06,639.1 1205.56,639.1 1206.06,639.1 1206.56,639.1 1207.06,639.1 1207.57,639.1 1208.07,639.1 1208.57,639.1 1209.07,639.1 1209.58,639.1 1210.08,639.1 1210.58,639.1 1211.08,639.1 1211.58,639.1 1212.09,639.1 1212.59,639.1 1213.09,639.1 1213.59,639.1 1214.09,639.1 1214.6,639.1 1215.1,639.1 1215.6,639.1 1216.1,639.1 1216.61,639.1 1217.11,639.1 1217.61,639.1 1218.11,639.1 1218.61,639.1 1219.12,639.1 1219.62,639.1 1220.12,639.1 1220.62,639.1 1221.12,639.1 1221.63,639.1 1222.13,639.1 1222.63,639.1 1223.13,639.1 1223.64,639.1 1224.14,639.1 1224.64,639.1 1225.14,639.1 1225.64,639.1 1226.15,639.1 1226.65,639.1 1227.15,639.1 1227.65,639.1 1228.16,639.1 1228.66,639.1 1229.16,639.1 1229.66,639.1 1230.16,639.1 1230.67,639.1 1231.17,639.1 1231.67,639.1 1232.17,639.1 1232.67,639.1 1233.18,639.1 1233.68,639.1 1234.18,639.1 1234.68,639.1 1235.19,639.1 1235.69,639.1 1236.19,639.1 1236.69,639.1 1237.19,639.1 1237.7,639.1 1238.2,639.1 1238.7,639.1 1239.2,639.1 1239.7,639.1 1240.21,639.1 1240.71,639.1 1241.21,639.1 1241.71,639.1 1242.22,639.1 1242.72,639.1 1243.22,639.1 1243.72,639.1 1244.22,639.1 1244.73,639.1 1245.23,639.1 1245.73,639.1 1246.23,639.1 1246.74,639.1 1247.24,639.1 1247.74,639.1 1248.24,639.1 1248.74,639.1 1249.25,639.1 1249.75,639.1 1250.25,639.1 1250.75,639.1 1251.25,639.1 1251.76,639.1 1252.26,639.1 1252.76,639.1 1253.26,639.1 1253.77,639.1 1254.27,639.1 1254.77,639.1 1255.27,639.1 1255.77,639.1 1256.28,639.1 1256.78,639.1 1257.28,639.1 1257.78,639.1 1258.28,639.1 1258.79,639.1 1259.29,639.1 1259.79,639.1 1260.29,639.1 1260.8,639.1 1261.3,639.1 1261.8,639.1 1262.3,639.1 1262.8,639.1 1263.31,639.1 1263.81,639.1 1264.31,639.1 1264.81,639.1 1265.31,639.1 1265.82,639.1 1266.32,639.1 1266.82,639.1 1267.32,639.1 1267.83,639.1 1268.33,639.1 1268.83,639.1 1269.33,639.1 1269.83,639.1 1270.34,639.1 1270.84,639.1 1271.34,639.1 1271.84,639.1 1272.35,639.1 1272.85,639.1 1273.35,639.1 1273.85,639.1 1274.35,639.1 1274.86,639.1 1275.36,639.1 1275.86,639.1 1276.36,639.1 1276.86,639.1 1277.37,639.1 1277.87,639.1 1278.37,639.1 1278.87,639.1 1279.38,639.1 1279.88,639.1 1280.38,639.1 1280.88,639.1 1281.38,639.1 1281.89,639.1 1282.39,639.1 1282.89,639.1 1283.39,639.1 1283.89,639.1 1284.4,639.1 1284.9,639.1 1285.4,639.1 1285.9,639.1 1286.41,639.1 1286.91,639.1 1287.41,639.1 1287.91,639.1 1288.41,639.1 1288.92,639.1 1289.42,639.1 1289.92,639.1 1290.42,639.1 1290.93,639.1 1291.43,639.1 1291.93,639.1 1292.43,639.1 1292.93,639.1 1293.44,639.1 1293.94,639.1 1294.44,639.1 1294.94,639.1 1295.44,639.1 1295.95,639.1 1296.45,639.1 1296.95,639.1 1297.45,639.1 1297.96,639.1 1298.46,639.1 1298.96,639.1 1299.46,639.1 1299.96,639.1 1300.47,639.1 1300.97,639.1 1301.47,639.1 1301.97,639.1 1302.47,639.1 1302.98,639.1 1303.48,639.1 1303.98,639.1 1304.48,639.1 1304.99,639.1 1305.49,639.1 1305.99,639.1 1306.49,639.1 1306.99,639.1 1307.5,639.1 1308,639.1 1308.5,639.1 1309,639.1 1309.51,639.1 1310.01,639.1 1310.51,639.1 1311.01,639.1 1311.51,639.1 1312.02,639.1 1312.52,639.1 1313.02,639.1 1313.52,639.1 1314.02,639.1 1314.53,639.1 1315.03,639.1 1315.53,639.1 1316.03,639.1 1316.54,639.1 1317.04,639.1 1317.54,639.1 1318.04,639.1 1318.54,639.1 1319.05,639.1 1319.55,639.1 1320.05,639.1 1320.55,639.1 1321.05,639.1 1321.56,639.1 1322.06,639.1 1322.56,639.1 1323.06,639.1 1323.57,639.1 1324.07,639.1 1324.57,639.1 1325.07,639.1 1325.57,639.1 1326.08,639.1 1326.58,639.1 1327.08,639.1 1327.58,639.1 1328.08,639.1 1328.59,639.1 1329.09,639.1 1329.59,639.1 1330.09,639.1 1330.6,639.1 1331.1,639.1 1331.6,639.1 1332.1,639.1 1332.6,639.1 1333.11,639.1 1333.61,639.1 1334.11,639.1 1334.61,639.1 1335.12,639.1 1335.62,639.1 1336.12,639.1 1336.62,639.1 1337.12,639.1 1337.63,639.1 1338.13,639.1 1338.63,639.1 1339.13,639.1 1339.63,639.1 1340.14,639.1 1340.64,639.1 1341.14,639.1 1341.64,639.1 1342.15,639.1 1342.65,639.1 1343.15,639.1 1343.65,639.1 1344.15,639.1 1344.66,639.1 1345.16,639.1 1345.66,639.1 1346.16,639.1 1346.66,639.1 1347.17,639.1 1347.67,639.1 1348.17,639.1 1348.67,639.1 1349.18,639.1 1349.68,639.1 1350.18,639.1 1350.68,639.1 1351.18,639.1 1351.69,639.1 1352.19,639.1 1352.69,639.1 1353.19,639.1 1353.7,639.1 1354.2,639.1 1354.7,639.1 1355.2,639.1 1355.7,639.1 1356.21,639.1 1356.71,639.1 1357.21,639.1 1357.71,639.1 1358.21,639.1 1358.72,639.1 1359.22,639.1 1359.72,639.1 1360.22,639.1 1360.73,639.1 1361.23,639.1 1361.73,639.1 1362.23,639.1 1362.73,639.1 1363.24,639.1 1363.74,639.1 1364.24,639.1 1364.74,639.1 1365.24,639.1 1365.75,639.1 1366.25,639.1 1366.75,639.1 1367.25,639.1 1367.76,639.1 1368.26,639.1 1368.76,639.1 1369.26,639.1 1369.76,639.1 1370.27,639.1 1370.77,639.1 1371.27,639.1 1371.77,639.1 1372.28,639.1 1372.78,639.1 1373.28,639.1 1373.78,639.1 1374.28,639.1 1374.79,639.1 1375.29,639.1 1375.79,639.1 1376.29,639.1 1376.79,639.1 1377.3,639.1 1377.8,639.1 1378.3,639.1 1378.8,639.1 1379.31,639.1 1379.81,639.1 1380.31,639.1 1380.81,639.1 1381.31,639.1 1381.82,639.1 1382.32,639.1 1382.82,639.1 1383.32,639.1 1383.82,639.1 1384.33,639.1 1384.83,639.1 1385.33,639.1 1385.83,639.1 1386.34,639.1 1386.84,639.1 1387.34,639.1 1387.84,639.1 1388.34,639.1 1388.85,639.1 1389.35,639.1 1389.85,639.1 1390.35,639.1 1390.85,639.1 1391.36,639.1 1391.86,639.1 1392.36,639.1 1392.86,639.1 1393.37,639.1 1393.87,639.1 1394.37,639.1 1394.87,639.1 1395.37,639.1 1395.88,639.1 1396.38,639.1 1396.88,639.1 1397.38,639.1 1397.89,639.1 1398.39,639.1 1398.89,639.1 1399.39,639.1 1399.89,639.1 1400.4,639.1 1400.9,639.1 1401.4,639.1 1401.9,639.1 1402.4,639.1 1402.91,639.1 1403.41,639.1 1403.91,639.1 1404.41,639.1 1404.92,639.1 1405.42,639.1 1405.92,639.1 1406.42,639.1 1406.92,639.1 1407.43,639.1 1407.93,639.1 1408.43,639.1 1408.93,639.1 1409.43,639.1 1409.94,639.1 1410.44,639.1 1410.94,639.1 1411.44,639.1 1411.95,639.1 1412.45,639.1 1412.95,639.1 1413.45,639.1 1413.95,639.1 1414.46,639.1 1414.96,639.1 1415.46,639.1 1415.96,639.1 1416.47,639.1 1416.97,639.1 1417.47,639.1 1417.97,639.1 1418.47,639.1 1418.98,639.1 1419.48,639.1 1419.98,639.1 1420.48,639.1 1420.98,639.1 1421.49,639.1 1421.99,639.1 1422.49,639.1 1422.99,639.1 1423.5,639.1 1424,639.1 1424.5,639.1 1425,639.1 1425.5,639.1 1426.01,639.1 1426.51,639.1 1427.01,639.1 1427.51,639.1 1428.01,639.1 1428.52,639.1 1429.02,639.1 1429.52,639.1 1430.02,639.1 1430.53,639.1 1431.03,639.1 1431.53,639.1 1432.03,639.1 1432.53,639.1 1433.04,639.1 1433.54,639.1 1434.04,639.1 1434.54,639.1 1435.05,639.1 1435.55,639.1 1436.05,639.1 1436.55,639.1 1437.05,639.1 1437.56,639.1 1438.06,639.1 1438.56,639.1 1439.06,639.1 1439.56,639.1 1440.07,639.1 1440.57,639.1 1441.07,639.1 1441.57,639.1 1442.08,639.1 1442.58,639.1 1443.08,639.1 1443.58,639.1 1444.08,639.1 1444.59,639.1 1445.09,639.1 1445.59,639.1 1446.09,639.1 1446.59,639.1 1447.1,639.1 1447.6,639.1 1448.1,639.1 1448.6,639.1 1449.11,639.1 1449.61,639.1 1450.11,639.1 1450.61,639.1 1451.11,639.1 1451.62,639.1 1452.12,639.1 1452.62,639.1 1453.12,639.1 1453.62,639.1 1454.13,639.1 1454.63,639.1 1455.13,639.1 1455.63,639.1 1456.14,639.1 1456.64,639.1 1457.14,639.1 1457.64,639.1 1458.14,639.1 1458.65,639.1 1459.15,639.1 1459.65,639.1 1460.15,639.1 1460.66,639.1 1461.16,639.1 1461.66,639.1 1462.16,639.1 1462.66,639.1 1463.17,639.1 1463.67,639.1 1464.17,639.1 1464.67,639.1 1465.17,639.1 1465.68,639.1 1466.18,639.1 1466.68,639.1 1467.18,639.1 1467.69,639.1 1468.19,639.1 1468.69,639.1 1469.19,639.1 1469.69,639.1 1470.2,639.1 1470.7,639.1 1471.2,639.1 1471.7,639.1 1472.2,639.1 1472.71,639.1 1473.21,639.1 1473.71,639.1 1474.21,639.1 1474.72,639.1 1475.22,639.1 1475.72,639.1 1476.22,639.1 1476.72,639.1 1477.23,639.1 1477.73,639.1 1478.23,639.1 1478.73,639.1 1479.24,639.1 1479.74,639.1 1480.24,639.1 1480.74,639.1 1481.24,639.1 1481.75,639.1 1482.25,639.1 1482.75,639.1 1483.25,639.1 1483.75,639.1 1484.26,639.1 1484.76,639.1 1485.26,639.1 1485.76,639.1 1486.27,639.1 1486.77,639.1 1487.27,639.1 1487.77,639.1 1488.27,639.1 1488.78,639.1 1489.28,639.1 1489.78,639.1 1490.28,639.1 1490.78,639.1 1491.29,639.1 1491.79,639.1 1492.29,639.1 1492.79,639.1 1493.3,639.1 1493.8,639.1 1494.3,639.1 1494.8,639.1 1495.3,639.1 1495.81,639.1 1496.31,639.1 1496.81,639.1 1497.31,639.1 1497.82,639.1 1498.32,639.1 1498.82,639.1 1499.32,639.1 1499.82,639.1 1500.33,639.1 1500.83,639.1 1501.33,639.1 1501.83,639.1 1502.33,639.1 1502.84,639.1 1503.34,639.1 1503.84,639.1 1504.34,639.1 1504.85,639.1 1505.35,639.1 1505.85,639.1 1506.35,639.1 1506.85,639.1 1507.36,639.1 1507.86,639.1 1508.36,639.1 1508.86,639.1 1509.36,639.1 1509.87,639.1 1510.37,639.1 1510.87,639.1 1511.37,639.1 1511.88,639.1 1512.38,639.1 1512.88,639.1 1513.38,639.1 1513.88,639.1 1514.39,639.1 1514.89,639.1 1515.39,639.1 1515.89,639.1 1516.39,639.1 1516.9,639.1 1517.4,639.1 1517.9,639.1 1518.4,639.1 1518.91,639.1 1519.41,639.1 1519.91,639.1 1520.41,639.1 1520.91,639.1 1521.42,639.1 1521.92,639.1 1522.42,639.1 1522.92,639.1 1523.43,639.1 1523.93,639.1 1524.43,639.1 1524.93,639.1 1525.43,639.1 1525.94,639.1 1526.44,639.1 1526.94,639.1 1527.44,639.1 1527.94,639.1 1528.45,639.1 1528.95,639.1 1529.45,639.1 1529.95,639.1 1530.46,639.1 1530.96,639.1 1531.46,639.1 1531.96,639.1 1532.46,639.1 1532.97,639.1 1533.47,639.1 1533.97,639.1 1534.47,639.1 1534.97,639.1 1535.48,639.1 1535.98,639.1 1536.48,639.1 1536.98,639.1 1537.49,639.1 1537.99,639.1 1538.49,639.1 1538.99,639.1 1539.49,639.1 1540,639.1 1540.5,639.1 1541,639.1 1541.5,639.1 1542.01,639.1 1542.51,639.1 1543.01,639.1 1543.51,639.1 1544.01,639.1 1544.52,639.1 1545.02,639.1 1545.52,639.1 1546.02,639.1 1546.52,639.1 1547.03,639.1 1547.53,639.1 1548.03,639.1 1548.53,639.1 1549.04,639.1 1549.54,639.1 1550.04,639.1 1550.54,639.1 1551.04,639.1 1551.55,639.1 1552.05,639.1 1552.55,639.1 1553.05,639.1 1553.55,639.1 1554.06,639.1 1554.56,639.1 1555.06,639.1 1555.56,639.1 1556.07,639.1 1556.57,639.1 1557.07,639.1 1557.57,639.1 1558.07,639.1 1558.58,639.1 1559.08,639.1 1559.58,639.1 1560.08,639.1 1560.59,639.1 1561.09,639.1 1561.59,639.1 1562.09,639.1 1562.59,639.1 1563.1,639.1 1563.6,639.1 1564.1,639.1 1564.6,639.1 1565.1,639.1 1565.61,639.1 1566.11,639.1 1566.61,639.1 1567.11,639.1 1567.62,639.1 1568.12,639.1 1568.62,639.1 1569.12,639.1 1569.62,639.1 1570.13,639.1 1570.63,639.1 1571.13,639.1 1571.63,639.1 1572.13,639.1 1572.64,639.1 1573.14,639.1 1573.64,639.1 1574.14,639.1 1574.65,639.1 1575.15,639.1 1575.65,639.1 1576.15,639.1 1576.65,639.1 1577.16,639.1 1577.66,639.1 1578.16,639.1 1578.66,639.1 1579.16,639.1 1579.67,639.1 1580.17,639.1 1580.67,639.1 1581.17,639.1 1581.68,639.1 1582.18,639.1 1582.68,639.1 1583.18,639.1 1583.68,639.1 1584.19,639.1 1584.69,639.1 1585.19,639.1 1585.69,639.1 1586.2,639.1 1586.7,639.1 1587.2,639.1 1587.7,639.1 1588.2,639.1 1588.71,639.1 1589.21,639.1 1589.71,639.1 1590.21,639.1 1590.71,639.1 1591.22,639.1 1591.72,639.1 1592.22,639.1 1592.72,639.1 1593.23,639.1 1593.73,639.1 1594.23,639.1 1594.73,639.1 1595.23,639.1 1595.74,639.1 1596.24,639.1 1596.74,639.1 1597.24,639.1 1597.74,639.1 1598.25,639.1 1598.75,639.1 1599.25,639.1 1599.75,639.1 1600.26,639.1 1600.76,639.1 1601.26,639.1 1601.76,639.1 1602.26,639.1 1602.77,639.1 1603.27,639.1 1603.77,639.1 1604.27,639.1 1604.78,639.1 1605.28,639.1 1605.78,639.1 1606.28,639.1 1606.78,639.1 1607.29,639.1 1607.79,639.1 1608.29,639.1 1608.79,639.1 1609.29,639.1 1609.8,639.1 1610.3,639.1 1610.8,639.1 1611.3,639.1 1611.81,639.1 1612.31,639.1 1612.81,639.1 1613.31,639.1 1613.81,639.1 1614.32,639.1 1614.82,639.1 1615.32,639.1 1615.82,639.1 1616.32,639.1 1616.83,639.1 1617.33,639.1 1617.83,639.1 1618.33,639.1 1618.84,639.1 1619.34,639.1 1619.84,639.1 1620.34,639.1 1620.84,639.1 1621.35,639.1 1621.85,639.1 1622.35,639.1 1622.85,639.1 1623.36,639.1 1623.86,639.1 1624.36,639.1 1624.86,639.1 1625.36,639.1 1625.87,639.1 1626.37,639.1 1626.87,639.1 1627.37,639.1 1627.87,639.1 1628.38,639.1 1628.88,639.1 1629.38,639.1 1629.88,639.1 1630.39,639.1 1630.89,639.1 1631.39,639.1 1631.89,639.1 1632.39,639.1 1632.9,639.1 1633.4,639.1 1633.9,639.1 1634.4,639.1 1634.9,639.1 1635.41,639.1 1635.91,639.1 1636.41,639.1 1636.91,639.1 1637.42,639.1 1637.92,639.1 1638.42,639.1 1638.92,639.1 1639.42,639.1 1639.93,639.1 1640.43,639.1 1640.93,639.1 1641.43,639.1 1641.93,639.1 1642.44,639.1 1642.94,639.1 1643.44,639.1 1643.94,639.1 1644.45,639.1 1644.95,639.1 1645.45,639.1 1645.95,639.1 1646.45,639.1 1646.96,639.1 1647.46,639.1 1647.96,639.1 1648.46,639.1 1648.97,639.1 1649.47,639.1 1649.97,639.1 1650.47,639.1 1650.97,639.1 1651.48,639.1 1651.98,639.1 1652.48,639.1 1652.98,639.1 1653.48,639.1 1653.99,639.1 1654.49,639.1 1654.99,639.1 1655.49,639.1 1656,639.1 1656.5,639.1 1657,639.1 1657.5,639.1 1658,639.1 1658.51,639.1 1659.01,639.1 1659.51,639.1 1660.01,639.1 1660.51,639.1 1661.02,639.1 1661.52,639.1 1662.02,639.1 1662.52,639.1 1663.03,639.1 1663.53,639.1 1664.03,639.1 1664.53,639.1 1665.03,639.1 1665.54,639.1 1666.04,639.1 1666.54,639.1 1667.04,639.1 1667.55,639.1 1668.05,639.1 1668.55,639.1 1669.05,639.1 1669.55,639.1 1670.06,639.1 1670.56,639.1 1671.06,639.1 1671.56,639.1 1672.06,639.1 1672.57,639.1 1673.07,639.1 1673.57,639.1 1674.07,639.1 1674.58,639.1 1675.08,639.1 1675.58,639.1 1676.08,639.1 1676.58,639.1 1677.09,639.1 1677.59,639.1 1678.09,639.1 1678.59,639.1 1679.09,639.1 1679.6,639.1 1680.1,639.1 1680.6,639.1 1681.1,639.1 1681.61,639.1 1682.11,639.1 1682.61,639.1 1683.11,639.1 1683.61,639.1 1684.12,639.1 1684.62,639.1 1685.12,639.1 1685.62,639.1 1686.13,639.1 1686.63,639.1 1687.13,639.1 1687.63,639.1 1688.13,639.1 1688.64,639.1 1689.14,639.1 1689.64,639.1 1690.14,639.1 1690.64,639.1 1691.15,639.1 1691.65,639.1 1692.15,639.1 1692.65,639.1 1693.16,639.1 1693.66,639.1 1694.16,639.1 1694.66,639.1 1695.16,639.1 1695.67,639.1 1696.17,639.1 1696.67,639.1 1697.17,639.1 1697.67,639.1 1698.18,639.1 1698.68,639.1 1699.18,639.1 1699.68,639.1 1700.19,639.1 1700.69,639.1 1701.19,639.1 1701.69,639.1 1702.19,639.1 1702.7,639.1 1703.2,639.1 1703.7,639.1 1704.2,639.1 1704.7,639.1 1705.21,639.1 1705.71,639.1 1706.21,639.1 1706.71,639.1 1707.22,639.1 1707.72,639.1 1708.22,639.1 1708.72,639.1 1709.22,639.1 1709.73,639.1 1710.23,639.1 1710.73,639.1 1711.23,639.1 1711.74,639.1 1712.24,639.1 1712.74,639.1 1713.24,639.1 1713.74,639.1 1714.25,639.1 1714.75,639.1 1715.25,639.1 1715.75,639.1 1716.25,639.1 1716.76,639.1 1717.26,639.1 1717.76,639.1 1718.26,639.1 1718.77,639.1 1719.27,639.1 1719.77,639.1 1720.27,639.1 1720.77,639.1 1721.28,639.1 1721.78,639.1 1722.28,639.1 1722.78,639.1 1723.28,639.1 1723.79,639.1 1724.29,639.1 1724.79,639.1 1725.29,639.1 1725.8,639.1 1726.3,639.1 1726.8,639.1 1727.3,639.1 1727.8,639.1 1728.31,639.1 1728.81,639.1 1729.31,639.1 1729.81,639.1 1730.32,639.1 1730.82,639.1 1731.32,639.1 1731.82,639.1 1732.32,639.1 1732.83,639.1 1733.33,639.1 1733.83,639.1 1734.33,639.1 1734.83,639.1 1735.34,639.1 1735.84,639.1 1736.34,639.1 1736.84,639.1 1737.35,639.1 1737.85,639.1 1738.35,639.1 1738.85,639.1 1739.35,639.1 1739.86,639.1 1740.36,639.1 1740.86,639.1 1741.36,639.1 1741.86,639.1 1742.37,639.1 1742.87,639.1 1743.37,639.1 1743.87,639.1 1744.38,639.1 1744.88,639.1 1745.38,639.1 1745.88,639.1 1746.38,639.1 1746.89,639.1 1747.39,639.1 1747.89,639.1 1748.39,639.1 1748.9,639.1 1749.4,639.1 1749.9,639.1 1750.4,639.1 1750.9,639.1 1751.41,639.1 1751.91,639.1 1752.41,639.1 1752.91,639.1 1753.41,639.1 1753.92,639.1 1754.42,639.1 1754.92,639.1 1755.42,639.1 1755.93,639.1 1756.43,639.1 1756.93,639.1 1757.43,639.1 1757.93,639.1 1758.44,639.1 1758.94,639.1 1759.44,639.1 1759.94,639.1 1760.44,639.1 1760.95,639.1 1761.45,639.1 1761.95,639.1 1762.45,639.1 1762.96,639.1 1763.46,639.1 1763.96,639.1 1764.46,639.1 1764.96,639.1 1765.47,639.1 1765.97,639.1 1766.47,639.1 1766.97,639.1 1767.47,639.1 1767.98,639.1 1768.48,639.1 1768.98,639.1 1769.48,639.1 1769.99,639.1 1770.49,639.1 1770.99,639.1 1771.49,639.1 1771.99,639.1 1772.5,639.1 1773,639.1 1773.5,639.1 1774,639.1 1774.51,639.1 1775.01,639.1 1775.51,639.1 1776.01,639.1 1776.51,639.1 1777.02,639.1 1777.52,639.1 1778.02,639.1 1778.52,639.1 1779.02,639.1 1779.53,639.1 1780.03,639.1 1780.53,639.1 1781.03,639.1 1781.54,639.1 1782.04,639.1 1782.54,639.1 1783.04,639.1 1783.54,639.1 1784.05,639.1 1784.55,639.1 1785.05,639.1 1785.55,639.1 1786.05,639.1 1786.56,639.1 1787.06,639.1 1787.56,639.1 1788.06,639.1 1788.57,639.1 1789.07,639.1 1789.57,639.1 1790.07,639.1 1790.57,639.1 1791.08,639.1 1791.58,639.1 1792.08,639.1 1792.58,639.1 1793.09,639.1 1793.59,639.1 1794.09,639.1 1794.59,639.1 1795.09,639.1 1795.6,639.1 1796.1,639.1 1796.6,639.1 1797.1,639.1 1797.6,639.1 1798.11,639.1 1798.61,639.1 1799.11,639.1 1799.61,639.1 1800.12,639.1 1800.62,639.1 1801.12,639.1 1801.62,639.1 1802.12,639.1 1802.63,639.1 1803.13,639.1 1803.63,639.1 1804.13,639.1 1804.63,639.1 1805.14,639.1 1805.64,639.1 1806.14,639.1 1806.64,639.1 1807.15,639.1 1807.65,639.1 1808.15,639.1 1808.65,639.1 1809.15,639.1 1809.66,639.1 1810.16,639.1 1810.66,639.1 1811.16,639.1 1811.67,639.1 1812.17,639.1 1812.67,639.1 1813.17,639.1 1813.67,639.1 1814.18,639.1 1814.68,639.1 1815.18,639.1 1815.68,639.1 1816.18,639.1 1816.69,639.1 1817.19,639.1 1817.69,639.1 1818.19,639.1 1818.7,639.1 1819.2,639.1 1819.7,639.1 1820.2,639.1 1820.7,639.1 1821.21,639.1 1821.71,639.1" fill="none" stroke="#56B4E9" stroke-width="2.1" stroke-linejoin="round" stroke-linecap="square"/>
</g>
<path d="M1099.1 1045.57v4.86M1199.53 1045.57v4.86M1299.96 1045.57v4.86M1400.4 1045.57v4.86M1500.83 1045.57v4.86M1601.26 1045.57v4.86M1701.69 1045.57v4.86M1802.12 1045.57v4.86M1099.1 639.1h-4.86M1099.1 739.1h-4.86M1099.1 839.1h-4.86M1099.1 939.1h-4.86M1099.1 1039.1h-4.86" stroke="#000" stroke-width="1.11" fill="none"/>
<rect x="1099.1" y="619.62" width="714.57" height="425.95" fill="none" stroke="#000" stroke-width="1.11"/>
<text x="1099.1" y="1074.57" font-size="25.8" text-anchor="middle">0</text>
<text x="1199.53" y="1074.57" font-size="25.8" text-anchor="middle">200</text>
<text x="1299.96" y="1074.57" font-size="25.8" text-anchor="middle">400</text>
<text x="1400.4" y="1074.57" font-size="25.8" text-anchor="middle">600</text>
<text x="1500.83" y="1074.57" font-size="25.8" text-anchor="middle">800</text>
<text x="1601.26" y="1074.57" font-size="25.8" text-anchor="middle">1000</text>
<text x="1701.69" y="1074.57" font-size="25.8" text-anchor="middle">1200</text>
<text x="1802.12" y="1074.57" font-size="25.8" text-anchor="middle">1400</text>
<text x="1090.8" y="648.8" font-size="25.8" text-anchor="end">0</text>
<text x="1090.8" y="748.8" font-size="25.8" text-anchor="end">−1</text>
<text x="1090.8" y="848.8" font-size="25.8" text-anchor="end">−2</text>
<text x="1090.8" y="948.8" font-size="25.8" text-anchor="end">−3</text>
<text x="1090.8" y="1048.8" font-size="25.8" text-anchor="end">−4</text>
<text x="1099.1" y="615.82" font-size="25.8">1e9</text>
<text y="1103.92" font-size="25.8"><tspan x="1424.3">Time</tspan> <tspan x="1496.1" dy="-1.9" font-size="21" letter-spacing="-0.35">(minute)</tspan></text>
<text transform="translate(1041.9 900.22) rotate(-90)" font-size="25.8"><tspan x="0" letter-spacing="-0.45">Magnitude</tspan> <tspan x="143" dy="-1.7" font-size="21" letter-spacing="-0.5">(W/m^2)</tspan></text>
<rect x="1350.3" y="950" width="212.1" height="83.1" rx="5.3" ry="5.3" fill="#fff" fill-opacity="0.8" stroke="#ccc" stroke-width="1.3"/>
<path d="M1360.3 970.5h51.7" stroke="#E69F00" stroke-width="2.1" stroke-linecap="square"/>
<path d="M1360.3 1008.1h51.7" stroke="#56B4E9" stroke-width="2.1" stroke-linecap="square"/>
<text x="1432.3" y="979.9" font-size="25.8">Predicted</text>
<text x="1432.3" y="1017.5" font-size="25.8">Test</text>
</g>
<g id="ax5">
<clipPath id="c4"><rect x="146.07" y="1172.95" width="714.57" height="425.95"/></clipPath>
<g clip-path="url(#c4)">
<polyline points="146.07,1576.29 146.57,1576.05 147.07,1575.89 147.58,1574.84 148.08,1576.48 148.58,1577.14 149.08,1577.44 149.59,1577.23 150.09,1576.16 150.59,1575.12 151.09,1574.96 151.59,1575.43 152.1,1574.68 152.6,1576.22 153.1,1576.57 153.6,1575.47 154.1,1575.73 154.61,1574.86 155.11,1574.32 155.61,1575.04 156.11,1574.06 156.62,1573.4 157.12,1574.21 157.62,1574.24 158.12,1575.25 158.62,1576.3 159.13,1576.38 159.63,1577.25 160.13,1576.8 160.63,1575.66 161.13,1575.83 161.64,1575.34 162.14,1575.55 162.64,1576.18 163.14,1576.41 163.65,1575.42 164.15,1574.54 164.65,1573.72 165.15,1573.48 165.65,1573.86 166.16,1575.04 166.66,1575.03 167.16,1575.74 167.66,1576.14 168.17,1575.94 168.67,1576.8 169.17,1575.12 169.67,1574.36 170.17,1574.58 170.68,1574.63 171.18,1575.06 171.68,1575.58 172.18,1576.55 172.68,1577.6 173.19,1576.85 173.69,1576.56 174.19,1575.22 174.69,1573.42 175.2,1574.56 175.7,1574.41 176.2,1575.26 176.7,1577.16 177.2,1575.87 177.71,1575.54 178.21,1574.48 178.71,1573.97 179.21,1576.2 179.71,1576.38 180.22,1575.72 180.72,1574.02 181.22,1573.22 181.72,1573.12 182.23,1573.89 182.73,1573.47 183.23,1572.55 183.73,1572.88 184.23,1573.5 184.74,1575.06 185.24,1574.79 185.74,1573.67 186.24,1573.78 186.74,1574.16 187.25,1575.33 187.75,1577.16 188.25,1576.92 188.75,1576.41 189.26,1576.59 189.76,1575.81 190.26,1576.11 190.76,1576.52 191.26,1574.97 191.77,1574.85 192.27,1574.88 192.77,1575.56 193.27,1575.53 193.78,1576.63 194.28,1576.25 194.78,1574.11 195.28,1575.31 195.78,1574.39 196.29,1575.18 196.79,1576.41 197.29,1576.06 197.79,1577.03 198.29,1576.52 198.8,1576.94 199.3,1577.69 199.8,1577.34 200.3,1576.93 200.81,1576.18 201.31,1575.38 201.81,1576.32 202.31,1575.89 202.81,1574.95 203.32,1575.35 203.82,1573.74 204.32,1573.96 204.82,1574.08 205.32,1574.09 205.83,1573.65 206.33,1573.91 206.83,1575.18 207.33,1575.32 207.84,1576.35 208.34,1576.72 208.84,1575.6 209.34,1574.91 209.84,1574.75 210.35,1575.07 210.85,1575.56 211.35,1577.71 211.85,1577.53 212.36,1576.61 212.86,1575.99 213.36,1573.47 213.86,1573.81 214.36,1573.5 214.87,1574.32 215.37,1575.19 215.87,1574.92 216.37,1575.08 216.87,1575.88 217.38,1575.67 217.88,1575.93 218.38,1575.15 218.88,1574.21 219.39,1574.47 219.89,1573.65 220.39,1575.32 220.89,1575.76 221.39,1577.08 221.9,1578.27 222.4,1577.63 222.9,1577.96 223.4,1577.53 223.9,1577.4 224.41,1575.94 224.91,1575.38 225.41,1574.57 225.91,1573.89 226.42,1574.89 226.92,1574.81 227.42,1573.65 227.92,1574.35 228.42,1574.74 228.93,1574.79 229.43,1576.42 229.93,1575.55 230.43,1576.63 230.94,1576.26 231.44,1575.58 231.94,1576.07 232.44,1575.16 232.94,1574.91 233.45,1575.05 233.95,1574.94 234.45,1573.84 234.95,1573.9 235.45,1574.02 235.96,1575.09 236.46,1575.89 236.96,1576.46 237.46,1577.25 237.97,1576.94 238.47,1576.95 238.97,1577.24 239.47,1576.41 239.97,1575.23 240.48,1575.48 240.98,1574.48 241.48,1573.29 241.98,1574.44 242.48,1574.28 242.99,1575.06 243.49,1576.32 243.99,1575.11 244.49,1574.72 245,1575.13 245.5,1574.9 246,1575.66 246.5,1576.1 247,1575.34 247.51,1575.73 248.01,1576.73 248.51,1577.64 249.01,1578.06 249.51,1577.12 250.02,1575.58 250.52,1575.78 251.02,1575.98 251.52,1575.47 252.03,1576.05 252.53,1574.85 253.03,1573.89 253.53,1575.34 254.03,1574.96 254.54,1575.68 255.04,1575.3 255.54,1575.22 256.04,1575.18 256.55,1574.98 257.05,1575.46 257.55,1574.97 258.05,1576.31 258.55,1575.92 259.06,1576.17 259.56,1575.63 260.06,1575.2 260.56,1574.63 261.06,1573.79 261.57,1573.78 262.07,1573.35 262.57,1575.19 263.07,1575.36 263.58,1576.05 264.08,1576.17 264.58,1574.48 265.08,1575.31 265.58,1575.53 266.09,1576.3 266.59,1577.6 267.09,1577.17 267.59,1577.23 268.09,1576.83 268.6,1576.11 269.1,1576.01 269.6,1574.74 270.1,1574.39 270.61,1573.49 271.11,1573.56 271.61,1574.25 272.11,1573.95 272.61,1574.17 273.12,1574.69 273.62,1575.83 274.12,1576.8 274.62,1578.5 275.13,1578.05 275.63,1577.28 276.13,1576.39 276.63,1575.11 277.13,1574.83 277.64,1575.14 278.14,1575.44 278.64,1575.48 279.14,1575.87 279.64,1575.73 280.15,1576.52 280.65,1575.19 281.15,1574.7 281.65,1575.32 282.16,1574.07 282.66,1575.56 283.16,1576.46 283.66,1575.84 284.16,1574.57 284.67,1573.73 285.17,1573.59 285.67,1574.85 286.17,1575.76 286.67,1576.29 287.18,1576.19 287.68,1576.01 288.18,1576.15 288.68,1575.93 289.19,1576.22 289.69,1575.23 290.19,1575.3 290.69,1575.66 291.19,1576.24 291.7,1577.13 292.2,1576.61 292.7,1575.41 293.2,1575.43 293.71,1575.77 294.21,1575.68 294.71,1576.42 295.21,1575.43 295.71,1575 296.22,1574.78 296.72,1574.42 297.22,1575.6 297.72,1575.81 298.22,1576.35 298.73,1575.99 299.23,1574.23 299.73,1573.95 300.23,1573.6 300.74,1573.78 301.24,1574.7 301.74,1574.44 302.24,1573.77 302.74,1574.21 303.25,1575.07 303.75,1575.58 304.25,1577.63 304.75,1577.15 305.25,1576.74 305.76,1576.8 306.26,1576.66 306.76,1576.78 307.26,1574.85 307.77,1576.11 308.27,1574.93 308.77,1575.08 309.27,1575.11 309.77,1574.22 310.28,1574.99 310.78,1573.44 311.28,1574.72 311.78,1574.54 312.28,1573.73 312.79,1574.78 313.29,1575.23 313.79,1576.03 314.29,1576.06 314.8,1575.44 315.3,1575.47 315.8,1576.3 316.3,1576.03 316.8,1576.13 317.31,1576.08 317.81,1574.28 318.31,1574.5 318.81,1574.26 319.32,1575.23 319.82,1576.73 320.32,1576.36 320.82,1576.55 321.32,1574.89 321.83,1575.07 322.33,1575.12 322.83,1576.29 323.33,1577.46 323.83,1576.73 324.34,1575.9 324.84,1576.04 325.34,1575.66 325.84,1576.28 326.35,1576.54 326.85,1576.38 327.35,1577.48 327.85,1576.41 328.35,1576.56 328.86,1574.79 329.36,1574.17 329.86,1573.99 330.36,1575.21 330.86,1576.78 331.37,1576.91 331.87,1576.87 332.37,1575.19 332.87,1573.75 333.38,1573.22 333.88,1573.94 334.38,1574.62 334.88,1575.96 335.38,1574.48 335.89,1574.2 336.39,1573.59 336.89,1573.71 337.39,1574.72 337.9,1576.26 338.4,1576.82 338.9,1576.92 339.4,1576.35 339.9,1574.43 340.41,1573.33 340.91,1572.77 341.41,1572.93 341.91,1573.16 342.41,1574.36 342.92,1575.82 343.42,1577.06 343.92,1577.23 344.42,1577.51 344.93,1576.15 345.43,1575.34 345.93,1575.76 346.43,1575.53 346.93,1576.26 347.44,1575.85 347.94,1575.6 348.44,1574.45 348.94,1573.39 349.44,1573.66 349.95,1573.43 350.45,1574.49 350.95,1576.01 351.45,1575.83 351.96,1576.02 352.46,1575.6 352.96,1574.38 353.46,1575.88 353.96,1575.75 354.47,1575.15 354.97,1575.52 355.47,1574.55 355.97,1571.86 356.48,1571.93 356.98,1570.65 357.48,1571.18 357.98,1572.35 358.48,1572.22 358.99,1571.81 359.49,1571.1 359.99,1570.43 360.49,1569.33 360.99,1570.15 361.5,1568.76 362,1569.58 362.5,1568.01 363,1567.67 363.51,1567.36 364.01,1565.59 364.51,1565.1 365.01,1564.63 365.51,1562.78 366.02,1563.56 366.52,1563.78 367.02,1564.82 367.52,1563.9 368.02,1561.85 368.53,1561.83 369.03,1559.95 369.53,1560.94 370.03,1561.28 370.54,1560.82 371.04,1560.54 371.54,1558.72 372.04,1559.87 372.54,1559.58 373.05,1558.21 373.55,1558.84 374.05,1557 374.55,1556.73 375.05,1555.36 375.56,1556.73 376.06,1558.12 376.56,1557.93 377.06,1557.04 377.57,1557.01 378.07,1556.73 378.57,1556.05 379.07,1558.41 379.57,1558.3 380.08,1558.16 380.58,1557.64 381.08,1557.18 381.58,1555.75 382.09,1555.71 382.59,1554.96 383.09,1553.5 383.59,1553.07 384.09,1553.1 384.6,1554.19 385.1,1553.89 385.6,1554.83 386.1,1555.54 386.6,1552.97 387.11,1548.81 387.61,1539.5 388.11,1536.01 388.61,1534.4 389.12,1534.49 389.62,1534 390.12,1533.63 390.62,1529.57 391.12,1527.67 391.63,1526 392.13,1526.97 392.63,1527.61 393.13,1529.29 393.63,1531.2 394.14,1524.84 394.64,1521.85 395.14,1519.85 395.64,1521.86 396.15,1523.11 396.65,1522.97 397.15,1524.21 397.65,1526.81 398.15,1516.49 398.66,1510.56 399.16,1510.83 399.66,1509.19 400.16,1505.06 400.67,1503.08 401.17,1505.62 401.67,1510.96 402.17,1516.77 402.67,1519.2 403.18,1522.85 403.68,1525.15 404.18,1526.24 404.68,1522.59 405.18,1517.78 405.69,1504.81 406.19,1493.27 406.69,1494.41 407.19,1493.02 407.7,1490.48 408.2,1489.99 408.7,1493.64 409.2,1497.49 409.7,1496.91 410.21,1498.97 410.71,1501.87 411.21,1501.17 411.71,1499.14 412.21,1483.2 412.72,1476.26 413.22,1459.35 413.72,1456.82 414.22,1449.89 414.73,1440.32 415.23,1459.62 415.73,1464.87 416.23,1461.84 416.73,1463 417.24,1461.02 417.74,1457.22 418.24,1454.91 418.74,1456.59 419.25,1457.75 419.75,1463.26 420.25,1466.47 420.75,1470.32 421.25,1475.82 421.76,1491.83 422.26,1502.25 422.76,1495.23 423.26,1485.57 423.76,1489.88 424.27,1480.37 424.77,1480.19 425.27,1479.36 425.77,1472.9 426.28,1465.6 426.78,1459.24 427.28,1455.58 427.78,1458.1 428.28,1461.91 428.79,1462.64 429.29,1469.62 429.79,1461.95 430.29,1453.47 430.79,1452.12 431.3,1449.8 431.8,1454.04 432.3,1455.62 432.8,1440.4 433.31,1441.1 433.81,1440.7 434.31,1439.67 434.81,1441.04 435.31,1447.18 435.82,1448.41 436.32,1456.47 436.82,1459.51 437.32,1459.83 437.82,1454.64 438.33,1452.25 438.83,1449.72 439.33,1445.44 439.83,1445.6 440.34,1442.68 440.84,1453.86 441.34,1468.21 441.84,1475.11 442.34,1479.33 442.85,1473.15 443.35,1470.85 443.85,1470.29 444.35,1476.38 444.86,1485.72 445.36,1489.15 445.86,1475.58 446.36,1466.36 446.86,1454.27 447.37,1442.68 447.87,1440.24 448.37,1425.76 448.87,1412.33 449.37,1425.07 449.88,1441.22 450.38,1453.82 450.88,1462.55 451.38,1460.02 451.89,1452.33 452.39,1451.09 452.89,1436.76 453.39,1438.72 453.89,1429.64 454.4,1385.24 454.9,1371.6 455.4,1361.61 455.9,1356.37 456.4,1328.96 456.91,1337.47 457.41,1364.98 457.91,1374.47 458.41,1381.35 458.92,1402.2 459.42,1421.9 459.92,1431.52 460.42,1436.27 460.92,1428.49 461.43,1417.13 461.93,1401.33 462.43,1380.34 462.93,1357.88 463.44,1342.74 463.94,1323.72 464.44,1310.13 464.94,1312.33 465.44,1318.23 465.95,1343.59 466.45,1354.92 466.95,1350.46 467.45,1349.28 467.95,1349 468.46,1344.73 468.96,1393.18 469.46,1413.14 469.96,1413.55 470.47,1353.51 470.97,1336.11 471.47,1306.24 471.97,1291.81 472.47,1280.93 472.98,1283.8 473.48,1292.16 473.98,1297.03 474.48,1294.42 474.98,1303.52 475.49,1297.74 475.99,1333.88 476.49,1349.8 476.99,1380.5 477.5,1422.01 478,1430.69 478.5,1439.68 479,1432.89 479.5,1430.26 480.01,1409.18 480.51,1390.02 481.01,1387.13 481.51,1382.08 482.02,1382.95 482.52,1388.88 483.02,1391.57 483.52,1393.44 484.02,1361.12 484.53,1335.44 485.03,1324.79 485.53,1337.57 486.03,1346.91 486.53,1411.2 487.04,1411.16 487.54,1428.32 488.04,1437.41 488.54,1418.1 489.05,1406.45 489.55,1388.96 490.05,1388.57 490.55,1395.75 491.05,1392.1 491.56,1401.36 492.06,1418.58 492.56,1420.5 493.06,1425.96 493.56,1418.22 494.07,1396.81 494.57,1382.52 495.07,1389.31 495.57,1385.1 496.08,1364.1 496.58,1407.3 497.08,1442.7 497.58,1424.58 498.08,1404.69 498.59,1399.98 499.09,1406.31 499.59,1409.8 500.09,1408.37 500.59,1428.81 501.1,1399.75 501.6,1381.78 502.1,1374.5 502.6,1365.72 503.11,1366.38 503.61,1364.22 504.11,1354.73 504.61,1348.83 505.11,1344.08 505.62,1342.12 506.12,1347.15 506.62,1349.44 507.12,1350.37 507.63,1349.77 508.13,1346.47 508.63,1344.91 509.13,1346.75 509.63,1343.43 510.14,1340.46 510.64,1339.31 511.14,1337.97 511.64,1334.52 512.14,1329.08 512.65,1330.46 513.15,1329.85 513.65,1322.42 514.15,1320.57 514.66,1318.9 515.16,1319.1 515.66,1314.35 516.16,1307.18 516.66,1314.1 517.17,1317.76 517.67,1313.04 518.17,1317.76 518.67,1323.63 519.17,1319.96 519.68,1323.65 520.18,1328.99 520.68,1329.27 521.18,1332.17 521.69,1326.25 522.19,1316.19 522.69,1316.82 523.19,1313.42 523.69,1308.67 524.2,1313.63 524.7,1308.68 525.2,1303.06 525.7,1310.26 526.21,1303.53 526.71,1298.59 527.21,1297.08 527.71,1294.33 528.21,1292.93 528.72,1303.15 529.22,1311.65 529.72,1322.19 530.22,1329.96 530.72,1336.94 531.23,1338.19 531.73,1338.55 532.23,1334.72 532.73,1352.59 533.24,1354.38 533.74,1398.77 534.24,1436.13 534.74,1449.89 535.24,1470.78 535.75,1495.75 536.25,1504.26 536.75,1520.1 537.25,1535.01 537.75,1530.46 538.26,1525.75 538.76,1517.14 539.26,1517.41 539.76,1515.09 540.27,1506.07 540.77,1498.39 541.27,1501.69 541.77,1499.31 542.27,1499.25 542.78,1499.35 543.28,1498.18 543.78,1498.78 544.28,1497.57 544.79,1498.25 545.29,1490.56 545.79,1475.77 546.29,1467.91 546.79,1460.57 547.3,1454.88 547.8,1442.25 548.3,1436.66 548.8,1433.28 549.3,1436.45 549.81,1438.73 550.31,1434.25 550.81,1432.08 551.31,1431.47 551.82,1429.39 552.32,1422.37 552.82,1415.93 553.32,1417.37 553.82,1415.89 554.33,1418.13 554.83,1427.21 555.33,1428.51 555.83,1425.4 556.33,1418.27 556.84,1405.15 557.34,1393.12 557.84,1384.85 558.34,1373.58 558.85,1370.89 559.35,1371.59 559.85,1386.39 560.35,1389.75 560.85,1405.7 561.36,1421.42 561.86,1429.65 562.36,1448.87 562.86,1459.93 563.36,1475.1 563.87,1484.31 564.37,1488.07 564.87,1489.51 565.37,1486.17 565.88,1465.3 566.38,1471.94 566.88,1449.84 567.38,1425.66 567.88,1408.12 568.39,1398.27 568.89,1394.77 569.39,1376.1 569.89,1361.02 570.4,1350.19 570.9,1347.95 571.4,1329.95 571.9,1316.67 572.4,1303.67 572.91,1295.2 573.41,1278.45 573.91,1252.04 574.41,1219.32 574.91,1192 575.42,1208.38 575.92,1243.71 576.42,1279.8 576.92,1333.56 577.43,1408.13 577.93,1482.34 578.43,1526.92 578.93,1543.15 579.43,1551.85 579.94,1562.99 580.44,1552.18 580.94,1545.43 581.44,1535.32 581.94,1518.33 582.45,1534.65 582.95,1542.55 583.45,1543.71 583.95,1542.04 584.46,1541.5 584.96,1536.95 585.46,1533.23 585.96,1534.18 586.46,1528.7 586.97,1527.08 587.47,1524.7 587.97,1526.28 588.47,1522.63 588.98,1521.31 589.48,1521.81 589.98,1519.41 590.48,1523.74 590.98,1530.14 591.49,1536.36 591.99,1536.55 592.49,1537.29 592.99,1537.06 593.49,1538.02 594,1539.23 594.5,1540.44 595,1542.56 595.5,1543.51 596.01,1541.98 596.51,1542.23 597.01,1542.09 597.51,1540.03 598.01,1539.9 598.52,1540.18 599.02,1538.24 599.52,1535.23 600.02,1534.34 600.52,1534.84 601.03,1534.11 601.53,1535.21 602.03,1537.56 602.53,1540.53 603.04,1541.94 603.54,1541.74 604.04,1539.29 604.54,1537.84 605.04,1538.48 605.55,1540.82 606.05,1543 606.55,1546.62 607.05,1549.3 607.56,1551.56 608.06,1552.8 608.56,1552.45 609.06,1554.15 609.56,1558.14 610.07,1558.15 610.57,1558.67 611.07,1557.7 611.57,1555.62 612.07,1556.78 612.58,1557.69 613.08,1557.25 613.58,1555.91 614.08,1554.46 614.59,1555.23 615.09,1556.79 615.59,1558.4 616.09,1559.04 616.59,1561.15 617.1,1562.09 617.6,1561.12 618.1,1560.68 618.6,1558.8 619.1,1558.65 619.61,1559.94 620.11,1561.21 620.61,1562.73 621.11,1563.11 621.62,1567.44 622.12,1568.94 622.62,1571.28 623.12,1570.34 623.62,1569.16 624.13,1566.69 624.63,1565.35 625.13,1566.4 625.63,1568.09 626.13,1569.67 626.64,1569.95 627.14,1569.53 627.64,1571.18 628.14,1571.75 628.65,1572.13 629.15,1572.15 629.65,1571.85 630.15,1571.12 630.65,1572.01 631.16,1572.31 631.66,1571.81 632.16,1571.75 632.66,1569.24 633.17,1570.44 633.67,1571.22 634.17,1571.4 634.67,1573.6 635.17,1573.77 635.68,1572.07 636.18,1572.07 636.68,1569.03 637.18,1568 637.68,1568.17 638.19,1567.37 638.69,1568.44 639.19,1566.94 639.69,1567.71 640.2,1566.8 640.7,1565.27 641.2,1566.13 641.7,1564.21 642.2,1564.04 642.71,1562.99 643.21,1563.47 643.71,1564.49 644.21,1563.43 644.71,1562.66 645.22,1562.07 645.72,1561.14 646.22,1560.4 646.72,1562.3 647.23,1562.3 647.73,1561.63 648.23,1562.14 648.73,1561.79 649.23,1561.5 649.74,1561.91 650.24,1561.62 650.74,1561.47 651.24,1561.01 651.75,1560.95 652.25,1561.08 652.75,1561.8 653.25,1562.94 653.75,1563.04 654.26,1562.86 654.76,1563.18 655.26,1563.11 655.76,1561.94 656.26,1562.06 656.77,1562.1 657.27,1562.56 657.77,1560.96 658.27,1559.95 658.78,1559.8 659.28,1559.89 659.78,1559.03 660.28,1559.84 660.78,1558.95 661.29,1558.21 661.79,1561.1 662.29,1561.47 662.79,1562.1 663.29,1562.71 663.8,1562.32 664.3,1562.4 664.8,1563.74 665.3,1563.08 665.81,1562.01 666.31,1562.66 666.81,1562.95 667.31,1562.02 667.81,1562.74 668.32,1562.86 668.82,1563.09 669.32,1564.4 669.82,1564.76 670.33,1564.96 670.83,1566.82 671.33,1567.48 671.83,1567.85 672.33,1568.69 672.84,1567.81 673.34,1568.11 673.84,1568 674.34,1567.3 674.84,1568.97 675.35,1569.19 675.85,1569.52 676.35,1570.59 676.85,1568.97 677.36,1569.61 677.86,1569.29 678.36,1568.38 678.86,1568.3 679.36,1566.29 679.87,1567.1 680.37,1567.68 680.87,1566.88 681.37,1567.37 681.87,1567.74 682.38,1568.75 682.88,1568.99 683.38,1569.32 683.88,1569.29 684.39,1572.47 684.89,1571.5 685.39,1570.25 685.89,1570.88 686.39,1570.09 686.9,1571.25 687.4,1571.15 687.9,1569.95 688.4,1568.85 688.9,1568.98 689.41,1568.66 689.91,1567.86 690.41,1566.39 690.91,1565.96 691.42,1565.27 691.92,1564.43 692.42,1565.31 692.92,1564.77 693.42,1565.62 693.93,1567.09 694.43,1567.62 694.93,1566.92 695.43,1566.34 695.94,1566.34 696.44,1566.42 696.94,1566.65 697.44,1565.64 697.94,1565.63 698.45,1565.85 698.95,1566.56 699.45,1566.82 699.95,1567.22 700.45,1567.93 700.96,1569.03 701.46,1570.15 701.96,1570.33 702.46,1571.61 702.97,1571.17 703.47,1571.57 703.97,1571.87 704.47,1570.5 704.97,1570.61 705.48,1571.43 705.98,1572.08 706.48,1571.64 706.98,1571.76 707.48,1572.84 707.99,1572.94 708.49,1573.02 708.99,1571.64 709.49,1570.89 710,1571.65 710.5,1572.45 711,1572.78 711.5,1573.23 712,1573.31 712.51,1573.9 713.01,1574.78 713.51,1574.78 714.01,1574.58 714.52,1575.25 715.02,1575.82 715.52,1575.71 716.02,1575.05 716.52,1574.45 717.03,1573.45 717.53,1573.7 718.03,1574.97 718.53,1574.17 719.03,1573.34 719.54,1574.12 720.04,1573.95 720.54,1575.07 721.04,1576.13 721.55,1575.83 722.05,1575.59 722.55,1575.4 723.05,1576.22 723.55,1576.16 724.06,1577.17 724.56,1575.68 725.06,1574.52 725.56,1574.4 726.06,1574.21 726.57,1577.01 727.07,1576.73 727.57,1577.48 728.07,1577.71 728.58,1577.6 729.08,1577.85 729.58,1576.83 730.08,1577.09 730.58,1575.61 731.09,1575 731.59,1574.47 732.09,1572.87 732.59,1573.17 733.1,1573.31 733.6,1574.4 734.1,1574.27 734.6,1574.32 735.1,1574.84 735.61,1575.29 736.11,1576.51 736.61,1577.7 737.11,1577.01 737.61,1576.86 738.12,1576.38 738.62,1576.02 739.12,1575.69 739.62,1574.71 740.13,1574.48 740.63,1574.93 741.13,1574.57 741.63,1574.58 742.13,1574.37 742.64,1574.94 743.14,1575.48 743.64,1576.12 744.14,1576.46 744.64,1575.12 745.15,1574.38 745.65,1572.91 746.15,1572.07 746.65,1573.67 747.16,1573.43 747.66,1574.55 748.16,1575.48 748.66,1575.48 749.16,1576.74 749.67,1576.96 750.17,1576.61 750.67,1576.07 751.17,1576 751.67,1575.1 752.18,1575.43 752.68,1574.95 753.18,1574.91 753.68,1576.07 754.19,1575.99 754.69,1576.87 755.19,1576.78 755.69,1576.08 756.19,1578.37 756.7,1577.27 757.2,1576.86 757.7,1576.88 758.2,1574.87 758.71,1576.71 759.21,1578.04 759.71,1577.07 760.21,1576.64 760.71,1575.49 761.22,1573.87 761.72,1574.5 762.22,1574.45 762.72,1574.22 763.22,1575.01 763.73,1575.95 764.23,1577.13 764.73,1577.28 765.23,1577.33 765.74,1577.6 766.24,1577.57 766.74,1576.74 767.24,1575.84 767.74,1574.98 768.25,1573.69 768.75,1575.28 769.25,1576.25 769.75,1575.68 770.25,1575.3 770.76,1573.85 771.26,1573.97 771.76,1574.75 772.26,1576.05 772.77,1576.57 773.27,1575.39 773.77,1575.64 774.27,1576.24 774.77,1577.08 775.28,1578.61 775.78,1577.55 776.28,1577.62 776.78,1577.83 777.29,1576.68 777.79,1577.13 778.29,1577.37 778.79,1576.07 779.29,1574.95 779.8,1575.98 780.3,1575.82 780.8,1577 781.3,1577.58 781.8,1576.28 782.31,1576.63 782.81,1575.97 783.31,1575.03 783.81,1574.71 784.32,1572.7 784.82,1571.42 785.32,1573.45 785.82,1573.99 786.32,1575.27 786.83,1575.77 787.33,1575.03 787.83,1574.89 788.33,1574.53 788.83,1575.28 789.34,1575.54 789.84,1575.91 790.34,1576.97 790.84,1577.67 791.35,1577.99 791.85,1578.48 792.35,1577.59 792.85,1576.81 793.35,1576.1 793.86,1574.92 794.36,1575.44 794.86,1574.77 795.36,1575.96 795.87,1577.08 796.37,1575.91 796.87,1576.55 797.37,1574.82 797.87,1573.55 798.38,1574.11 798.88,1574.94 799.38,1575.35 799.88,1576.31 800.38,1576.48 800.89,1575.55 801.39,1575.24 801.89,1575.3 802.39,1575.06 802.9,1573.63 803.4,1574.96 803.9,1573.82 804.4,1573.06 804.9,1575.11 805.41,1574.81 805.91,1577.08 806.41,1576.82 806.91,1575.94 807.41,1575.93 807.92,1574.12 808.42,1573.31 808.92,1574.04 809.42,1574.24 809.93,1574.06 810.43,1576.12 810.93,1575.98 811.43,1574.95 811.93,1575.14 812.44,1574.61 812.94,1574.32 813.44,1574.36 813.94,1574.54 814.44,1573.81 814.95,1573.51 815.45,1573.27 815.95,1573.14 816.45,1574.74 816.96,1575.44 817.46,1576.19 817.96,1576.3 818.46,1575.34 818.96,1574.59 819.47,1574.01 819.97,1573.13 820.47,1573.53 820.97,1574.17 821.48,1573.54 821.98,1573.81 822.48,1573.71 822.98,1573.22 823.48,1574.73 823.99,1574.67 824.49,1574.82 824.99,1575.2 825.49,1575.04 825.99,1574.88 826.5,1575.68 827,1575.59 827.5,1574.84 828,1575.44 828.51,1574.39 829.01,1575.83 829.51,1577.08 830.01,1576.67 830.51,1576.98 831.02,1574.54 831.52,1574.01 832.02,1573.84 832.52,1574.47 833.02,1575.76 833.53,1575.53 834.03,1577.51 834.53,1577.11 835.03,1577.35 835.54,1577.57 836.04,1576.57 836.54,1576.6 837.04,1576.03 837.54,1575.68 838.05,1575.07 838.55,1575.17 839.05,1574.87 839.55,1575.03 840.06,1575.61 840.56,1575.18 841.06,1575.24 841.56,1575.17 842.06,1575.96 842.57,1575.91 843.07,1576.78 843.57,1577.2 844.07,1575.86 844.57,1576.22 845.08,1575.82 845.58,1575.09 846.08,1575.2 846.58,1576.16 847.09,1575.55 847.59,1576.2 848.09,1575.32 848.59,1574.46 849.09,1574.1 849.6,1574.37 850.1,1575.03 850.6,1574.06 851.1,1574.13 851.6,1573.8 852.11,1574.17 852.61,1574.18 853.11,1573.82 853.61,1574.65 854.12,1573.28 854.62,1574.28 855.12,1575.58 855.62,1575.5 856.12,1578.2 856.63,1577.18 857.13,1576.9 857.63,1576.8 858.13,1575.92 858.64,1575.48 859.14,1575.47 859.64,1575.65 860.14,1576.36 860.64,1577.92 861.15,1577.8 861.65,1577.34 862.15,1576.07 862.65,1576.57 863.15,1575.64 863.66,1575.37 864.16,1576.17 864.66,1574.92 865.16,1575.75 865.67,1575.58 866.17,1575.88 866.67,1574.97 867.17,1574.57 867.67,1575.87 868.18,1575.55 868.68,1576.36" fill="none" stroke="#E69F00" stroke-width="2.1" stroke-linejoin="round" stroke-linecap="square"/>
<polyline points="146.07,1575.2 146.57,1575.58 147.07,1575.49 147.58,1575.43 148.08,1575.64 148.58,1575.5 149.08,1575.5 149.59,1575.81 150.09,1575.32 150.59,1575.39 151.09,1575.61 151.59,1575.53 152.1,1575.41 152.6,1575.55 153.1,1575.54 153.6,1575.76 154.1,1575.4 154.61,1575.48 155.11,1575.45 155.61,1575.77 156.11,1575.21 156.62,1575.47 157.12,1575.57 157.62,1575.14 158.12,1575.51 158.62,1575.76 159.13,1575.57 159.63,1575.91 160.13,1575.31 160.63,1575.57 161.13,1575.63 161.64,1575.31 162.14,1575.79 162.64,1575.4 163.14,1575.87 163.65,1575.62 164.15,1575.72 164.65,1575.24 165.15,1575.18 165.65,1575.56 166.16,1575.35 166.66,1575.53 167.16,1575.4 167.66,1575.63 168.17,1575.81 168.67,1575.82 169.17,1575.43 169.67,1575.1 170.17,1575.45 170.68,1575.59 171.18,1575.16 171.68,1575.46 172.18,1575.48 172.68,1575.45 173.19,1575.52 173.69,1575.56 174.19,1575.76 174.69,1575.41 175.2,1575.52 175.7,1575.29 176.2,1575.57 176.7,1575.84 177.2,1575.52 177.71,1575.2 178.21,1575.57 178.71,1575.66 179.21,1575.71 179.71,1575.69 180.22,1575.55 180.72,1575.71 181.22,1575.23 181.72,1575.55 182.23,1575.48 182.73,1575.24 183.23,1575.23 183.73,1575.54 184.23,1575.44 184.74,1575.37 185.24,1575.53 185.74,1575.82 186.24,1575.38 186.74,1575.34 187.25,1575.43 187.75,1575.66 188.25,1575.54 188.75,1575.61 189.26,1575.55 189.76,1575.27 190.26,1575.23 190.76,1575.38 191.26,1575.4 191.77,1575.38 192.27,1575.5 192.77,1575.51 193.27,1575.62 193.78,1575.51 194.28,1575.1 194.78,1575.34 195.28,1575.56 195.78,1575.58 196.29,1575.65 196.79,1575.43 197.29,1575.43 197.79,1575.76 198.29,1575.41 198.8,1575.6 199.3,1575.25 199.8,1575.47 200.3,1575.19 200.81,1575.58 201.31,1575.55 201.81,1575.45 202.31,1575.31 202.81,1575.4 203.32,1575.72 203.82,1575.47 204.32,1575.5 204.82,1575.58 205.32,1575.62 205.83,1575.19 206.33,1575.57 206.83,1575.65 207.33,1575.39 207.84,1575.48 208.34,1575.51 208.84,1575.36 209.34,1575.41 209.84,1575.44 210.35,1575.33 210.85,1575.45 211.35,1575.61 211.85,1575.56 212.36,1575.59 212.86,1575.46 213.36,1575.69 213.86,1575.83 214.36,1575.48 214.87,1575.74 215.37,1575.85 215.87,1575.43 216.37,1575.63 216.87,1575.41 217.38,1575.59 217.88,1575.7 218.38,1575.72 218.88,1575.59 219.39,1575.55 219.89,1575.65 220.39,1575.55 220.89,1575.77 221.39,1575.5 221.9,1575.82 222.4,1575.53 222.9,1575.38 223.4,1575.3 223.9,1575.19 224.41,1575.78 224.91,1575.36 225.41,1575.28 225.91,1575.32 226.42,1575.67 226.92,1575.43 227.42,1575.17 227.92,1575.77 228.42,1575.41 228.93,1575.3 229.43,1575.62 229.93,1575.4 230.43,1575.69 230.94,1575.65 231.44,1575.65 231.94,1575.47 232.44,1575.52 232.94,1575.33 233.45,1575.67 233.95,1575.52 234.45,1575.33 234.95,1575.4 235.45,1575.74 235.96,1575.38 236.46,1575.59 236.96,1575.43 237.46,1575.45 237.97,1575.28 238.47,1575.48 238.97,1575.83 239.47,1575.74 239.97,1575.37 240.48,1575.55 240.98,1575.3 241.48,1575.45 241.98,1575.63 242.48,1575.31 242.99,1575.64 243.49,1575.87 243.99,1575.13 244.49,1575.84 245,1575.39 245.5,1575.33 246,1575.47 246.5,1575.8 247,1575.32 247.51,1575.76 248.01,1575.74 248.51,1575.56 249.01,1575.36 249.51,1575.45 250.02,1575.36 250.52,1575.58 251.02,1575.53 251.52,1575.7 252.03,1575.56 252.53,1575.39 253.03,1575.55 253.53,1575.42 254.03,1575.6 254.54,1575.61 255.04,1575.49 255.54,1575.53 256.04,1575.39 256.55,1575.47 257.05,1575.19 257.55,1575.54 258.05,1575.54 258.55,1575.69 259.06,1575.5 259.56,1575.38 260.06,1575.63 260.56,1575.51 261.06,1575.37 261.57,1575.52 262.07,1575.59 262.57,1575.33 263.07,1575.48 263.58,1575.43 264.08,1575.29 264.58,1575.3 265.08,1575.56 265.58,1575.59 266.09,1575.45 266.59,1575.52 267.09,1575.84 267.59,1575.27 268.09,1575.5 268.6,1575.37 269.1,1575.71 269.6,1575.27 270.1,1575.61 270.61,1575.52 271.11,1575.75 271.61,1575.53 272.11,1575.54 272.61,1575.53 273.12,1575.42 273.62,1575.49 274.12,1575.33 274.62,1575.58 275.13,1575.68 275.63,1575.5 276.13,1575.39 276.63,1575.28 277.13,1575.35 277.64,1575.82 278.14,1575.43 278.64,1575.24 279.14,1575.49 279.64,1575.59 280.15,1575.44 280.65,1575.59 281.15,1575.39 281.65,1575.5 282.16,1575.25 282.66,1575.41 283.16,1575.63 283.66,1575.39 284.16,1575.33 284.67,1575.6 285.17,1575.58 285.67,1575.91 286.17,1575.34 286.67,1575.61 287.18,1575.88 287.68,1575.82 288.18,1575.54 288.68,1575.36 289.19,1575.52 289.69,1575.42 290.19,1575.7 290.69,1575.74 291.19,1575.34 291.7,1575.41 292.2,1575.51 292.7,1575.27 293.2,1575.67 293.71,1575.58 294.21,1575.32 294.71,1575.17 295.21,1575.5 295.71,1575.2 296.22,1575.61 296.72,1575.44 297.22,1575.53 297.72,1575.78 298.22,1575.45 298.73,1575.33 299.23,1575.53 299.73,1575.51 300.23,1575.25 300.74,1575.72 301.24,1575.77 301.74,1575.62 302.24,1575.71 302.74,1575.26 303.25,1575.44 303.75,1575.65 304.25,1575.61 304.75,1574.99 305.25,1575.61 305.76,1575.64 306.26,1575.45 306.76,1575.39 307.26,1575.46 307.77,1575.66 308.27,1575.71 308.77,1575.39 309.27,1575.51 309.77,1575.79 310.28,1575.29 310.78,1575.36 311.28,1575.54 311.78,1575.55 312.28,1575.46 312.79,1575.62 313.29,1575.74 313.79,1575.44 314.29,1575.76 314.8,1575.43 315.3,1575.76 315.8,1575.52 316.3,1575.52 316.8,1575.18 317.31,1575.69 317.81,1575.75 318.31,1575.62 318.81,1575.7 319.32,1575.61 319.82,1575.42 320.32,1575.36 320.82,1575.2 321.32,1575.63 321.83,1575.03 322.33,1575.15 322.83,1575.54 323.33,1575.91 323.83,1575.51 324.34,1575.49 324.84,1575.91 325.34,1575.49 325.84,1575.54 326.35,1575.64 326.85,1575.39 327.35,1575.32 327.85,1575.59 328.35,1575.46 328.86,1575.62 329.36,1575.64 329.86,1575.49 330.36,1575.41 330.86,1575.6 331.37,1575.9 331.87,1575.4 332.37,1575.79 332.87,1575.48 333.38,1575.18 333.88,1575.5 334.38,1575.71 334.88,1575.76 335.38,1575.29 335.89,1575.5 336.39,1575.4 336.89,1575.33 337.39,1575.51 337.9,1575.56 338.4,1575.67 338.9,1576.05 339.4,1575.77 339.9,1575.51 340.41,1575.53 340.91,1575.43 341.41,1575.52 341.91,1575.47 342.41,1575.36 342.92,1575.66 343.42,1575.55 343.92,1575.79 344.42,1575.33 344.93,1575.49 345.43,1575.41 345.93,1575.22 346.43,1575.31 346.93,1575.51 347.44,1575.34 347.94,1575.7 348.44,1575.33 348.94,1575.34 349.44,1575.61 349.95,1575.03 350.45,1575.34 350.95,1575.03 351.45,1575.16 351.96,1574.85 352.46,1574.62 352.96,1574.81 353.46,1574.72 353.96,1574.22 354.47,1573.79 354.97,1573.73 355.47,1573.49 355.97,1573.01 356.48,1573.3 356.98,1572.64 357.48,1572.93 357.98,1571.69 358.48,1571.89 358.99,1571.72 359.49,1570.93 359.99,1571.06 360.49,1569.79 360.99,1569.65 361.5,1568.97 362,1568.64 362.5,1567.27 363,1567.34 363.51,1566.52 364.01,1566.07 364.51,1566.29 365.01,1565.07 365.51,1564.7 366.02,1564.22 366.52,1564.1 367.02,1563.62 367.52,1562.47 368.02,1561.23 368.53,1562.36 369.03,1561.16 369.53,1561.16 370.03,1560.07 370.54,1559.78 371.04,1558.97 371.54,1560.55 372.04,1558.9 372.54,1558.63 373.05,1557.69 373.55,1557.58 374.05,1557.08 374.55,1555.94 375.05,1554.88 375.56,1557.06 376.06,1555.49 376.56,1554.94 377.06,1554.91 377.57,1554.95 378.07,1555.38 378.57,1555.21 379.07,1554.38 379.57,1554.27 380.08,1554.86 380.58,1555.4 381.08,1554.82 381.58,1554.86 382.09,1554.28 382.59,1554.33 383.09,1554.55 383.59,1553.96 384.09,1554.58 384.6,1553.41 385.1,1553.12 385.6,1554.26 386.1,1553.24 386.6,1550.91 387.11,1545.1 387.61,1540.12 388.11,1536.56 388.61,1533.69 389.12,1532.52 389.62,1530.88 390.12,1529.42 390.62,1527.88 391.12,1527.14 391.63,1527.35 392.13,1528.49 392.63,1529.36 393.13,1530.59 393.63,1529.1 394.14,1526.2 394.64,1522.47 395.14,1521.72 395.64,1522.01 396.15,1522.36 396.65,1523.58 397.15,1524.96 397.65,1521.46 398.15,1513.73 398.66,1510.84 399.16,1508.26 399.66,1505.44 400.16,1505.87 400.67,1507.47 401.17,1510.72 401.67,1515.08 402.17,1519.07 402.67,1522.95 403.18,1525.33 403.68,1526.69 404.18,1525.51 404.68,1520.16 405.18,1511.03 405.69,1496.4 406.19,1494.96 406.69,1493.72 407.19,1493.41 407.7,1490.83 408.2,1491.4 408.7,1494.2 409.2,1497.32 409.7,1499.97 410.21,1502.68 410.71,1504.39 411.21,1504.44 411.71,1494.19 412.21,1480.65 412.72,1471.47 413.22,1463.75 413.72,1457.26 414.22,1451.9 414.73,1460.31 415.23,1462.91 415.73,1466.14 416.23,1462.69 416.73,1457.53 417.24,1455.46 417.74,1453.85 418.24,1455.74 418.74,1460.45 419.25,1463.99 419.75,1466.25 420.25,1470.43 420.75,1476.62 421.25,1483.08 421.76,1488.94 422.26,1492.3 422.76,1491.3 423.26,1487.99 423.76,1484.5 424.27,1480.35 424.77,1475.35 425.27,1471.22 425.77,1467.6 426.28,1462.66 426.78,1459.42 427.28,1457.37 427.78,1461.21 428.28,1464.54 428.79,1467.3 429.29,1466.61 429.79,1450.01 430.29,1449 430.79,1448.72 431.3,1449.77 431.8,1451.13 432.3,1447.1 432.8,1440.4 433.31,1435.46 433.81,1436.93 434.31,1441.19 434.81,1445.79 435.31,1447.51 435.82,1449.58 436.32,1456.9 436.82,1463.03 437.32,1456.94 437.82,1450.53 438.33,1447.05 438.83,1446.21 439.33,1446.94 439.83,1449.02 440.34,1451.75 440.84,1468.51 441.34,1474.19 441.84,1478.3 442.34,1473.77 442.85,1467.37 443.35,1465.77 443.85,1472.84 444.35,1481.32 444.86,1479.13 445.36,1474.43 445.86,1469.96 446.36,1463.42 446.86,1451.61 447.37,1440.62 447.87,1432 448.37,1427.63 448.87,1432.25 449.37,1438.17 449.88,1450.9 450.38,1460.05 450.88,1467.19 451.38,1457.51 451.89,1451.75 452.39,1447.76 452.89,1435.72 453.39,1422.04 453.89,1400.56 454.4,1376.99 454.9,1365.13 455.4,1356.6 455.9,1347.6 456.4,1340.95 456.91,1350.67 457.41,1367.59 457.91,1377.97 458.41,1389.51 458.92,1416.41 459.42,1429.62 459.92,1438.77 460.42,1430.74 460.92,1417.66 461.43,1405.33 461.93,1389.54 462.43,1373.28 462.93,1339.66 463.44,1325.12 463.94,1317.31 464.44,1317.69 464.94,1320.06 465.44,1339.93 465.95,1361.57 466.45,1354.26 466.95,1345.74 467.45,1346.55 467.95,1346.95 468.46,1373.7 468.96,1407.15 469.46,1418.12 469.96,1395.23 470.47,1339.43 470.97,1318.79 471.47,1300.1 471.97,1275.39 472.47,1289.31 472.98,1293.94 473.48,1298.55 473.98,1298.95 474.48,1299.04 474.98,1306.53 475.49,1316.85 475.99,1351.08 476.49,1372.1 476.99,1396.75 477.5,1429.67 478,1438.56 478.5,1431.19 479,1423.28 479.5,1412.63 480.01,1401.77 480.51,1389.84 481.01,1382.02 481.51,1383.31 482.02,1385.14 482.52,1389.67 483.02,1393.16 483.52,1372.98 484.02,1358.29 484.53,1348.34 485.03,1354.59 485.53,1361.93 486.03,1377.52 486.53,1395.52 487.04,1423.22 487.54,1432.76 488.04,1424.93 488.54,1411.74 489.05,1393.09 489.55,1388.02 490.05,1392.37 490.55,1395.57 491.05,1405.15 491.56,1415.07 492.06,1421.73 492.56,1425.48 493.06,1418.2 493.56,1406.23 494.07,1384.97 494.57,1377.68 495.07,1385.58 495.57,1395.4 496.08,1407.61 496.58,1417.67 497.08,1426.53 497.58,1412.39 498.08,1403.88 498.59,1398.26 499.09,1404.3 499.59,1409.53 500.09,1419.24 500.59,1406.83 501.1,1383.59 501.6,1375.31 502.1,1370.49 502.6,1368.04 503.11,1364.68 503.61,1359.57 504.11,1355.2 504.61,1352.54 505.11,1349.74 505.62,1350.02 506.12,1350.15 506.62,1349.21 507.12,1347.79 507.63,1349.06 508.13,1347.69 508.63,1347.16 509.13,1344.52 509.63,1342.49 510.14,1341.87 510.64,1339.59 511.14,1336.65 511.64,1334.61 512.14,1332.16 512.65,1329.13 513.15,1326.44 513.65,1321.88 514.15,1319.89 514.66,1316.82 515.16,1314.98 515.66,1314.25 516.16,1313.44 516.66,1312.08 517.17,1311.89 517.67,1311.49 518.17,1313.78 518.67,1314.49 519.17,1322.33 519.68,1329.64 520.18,1329.9 520.68,1330.19 521.18,1329.8 521.69,1327.78 522.19,1323.04 522.69,1315.41 523.19,1311.55 523.69,1308.78 524.2,1306.5 524.7,1303.88 525.2,1299.94 525.7,1298 526.21,1295.3 526.71,1293.45 527.21,1295.08 527.71,1300.55 528.21,1304.63 528.72,1311.13 529.22,1318.15 529.72,1325.56 530.22,1331.38 530.72,1335.96 531.23,1337.45 531.73,1338.3 532.23,1339.18 532.73,1361.85 533.24,1387.14 533.74,1412.39 534.24,1437.83 534.74,1463.44 535.24,1484.96 535.75,1504.45 536.25,1513.28 536.75,1519.58 537.25,1522.27 537.75,1524.68 538.26,1522.4 538.76,1517 539.26,1513.2 539.76,1507.17 540.27,1502.08 540.77,1499.31 541.27,1498.47 541.77,1497.45 542.27,1496.32 542.78,1496.16 543.28,1497.33 543.78,1499.41 544.28,1496.36 544.79,1490.88 545.29,1484.72 545.79,1473.57 546.29,1462.64 546.79,1454 547.3,1445.41 547.8,1439.99 548.3,1436.05 548.8,1435.95 549.3,1434.46 549.81,1434 550.31,1432.72 550.81,1431.26 551.31,1429.51 551.82,1425.77 552.32,1422.27 552.82,1421.02 553.32,1419.83 553.82,1419.25 554.33,1422.19 554.83,1425.61 555.33,1424.91 555.83,1421.99 556.33,1409.83 556.84,1395.1 557.34,1384.9 557.84,1375.52 558.34,1370.14 558.85,1372.85 559.35,1379.89 559.85,1386.27 560.35,1394.57 560.85,1403.48 561.36,1419.9 561.86,1437.98 562.36,1455.86 562.86,1471.44 563.36,1480.91 563.87,1487.75 564.37,1488.46 564.87,1489.04 565.37,1481.64 565.88,1470.51 566.38,1456.61 566.88,1438.71 567.38,1420.27 567.88,1404.89 568.39,1393.82 568.89,1382.43 569.39,1372.24 569.89,1360.19 570.4,1347.55 570.9,1335.09 571.4,1322.64 571.9,1307.15 572.4,1295.91 572.91,1285.78 573.41,1262.72 573.91,1234.07 574.41,1219.08 574.91,1208.13 575.42,1233.12 575.92,1261.51 576.42,1310.32 576.92,1381.76 577.43,1461.86 577.93,1514.83 578.43,1542.26 578.93,1543.71 579.43,1543.84 579.94,1544.31 580.44,1543.87 580.94,1545.19 581.44,1545.04 581.94,1545.51 582.45,1543.55 582.95,1543.05 583.45,1542.35 583.95,1541.29 584.46,1539.39 584.96,1537.45 585.46,1534.88 585.96,1532.32 586.46,1528.53 586.97,1526.56 587.47,1525.23 587.97,1523.22 588.47,1520.64 588.98,1519.88 589.48,1519.7 589.98,1519.32 590.48,1525.04 590.98,1531.4 591.49,1535.11 591.99,1537.41 592.49,1537.66 592.99,1539.32 593.49,1540.15 594,1540.81 594.5,1540.54 595,1541.39 595.5,1541.78 596.01,1540.97 596.51,1542.3 597.01,1542.02 597.51,1539.32 598.01,1540.21 598.52,1539.11 599.02,1537.84 599.52,1536.51 600.02,1535.76 600.52,1535.61 601.03,1536.26 601.53,1537.52 602.03,1539.02 602.53,1539.09 603.04,1539.19 603.54,1538.54 604.04,1538.91 604.54,1538.21 605.04,1540.52 605.55,1542.66 606.05,1545.64 606.55,1547.58 607.05,1549.64 607.56,1551.7 608.06,1552.98 608.56,1554.01 609.06,1555.61 609.56,1557.38 610.07,1557.53 610.57,1557.36 611.07,1557.4 611.57,1556.72 612.07,1556.4 612.58,1556.4 613.08,1556.29 613.58,1556.24 614.08,1556.96 614.59,1558.14 615.09,1557.6 615.59,1558.45 616.09,1559.96 616.59,1560.37 617.1,1560.57 617.6,1560.47 618.1,1560.02 618.6,1560.35 619.1,1560.58 619.61,1561.01 620.11,1561.55 620.61,1562.54 621.11,1567.1 621.62,1568.6 622.12,1570.36 622.62,1570.03 623.12,1567.79 623.62,1567.63 624.13,1567.13 624.63,1565.9 625.13,1567.05 625.63,1568.35 626.13,1568.29 626.64,1570.01 627.14,1570.93 627.64,1571.79 628.14,1571.34 628.65,1571.49 629.15,1571.33 629.65,1570.96 630.15,1570.7 630.65,1570.94 631.16,1570.49 631.66,1571.64 632.16,1570.96 632.66,1571.21 633.17,1571.96 633.67,1571.96 634.17,1571.25 634.67,1571.51 635.17,1570.17 635.68,1569.62 636.18,1569.69 636.68,1568.63 637.18,1567.67 637.68,1567.29 638.19,1566.94 638.69,1567.21 639.19,1566.96 639.69,1566.66 640.2,1565.86 640.7,1564.65 641.2,1564.91 641.7,1564.56 642.2,1564.41 642.71,1565.68 643.21,1564.6 643.71,1564.38 644.21,1563.13 644.71,1562.55 645.22,1563.46 645.72,1562.76 646.22,1562.16 646.72,1562.43 647.23,1562.22 647.73,1561.97 648.23,1560.88 648.73,1561.64 649.23,1560.43 649.74,1560.89 650.24,1560.45 650.74,1559.95 651.24,1561.09 651.75,1561.93 652.25,1562.37 652.75,1563.9 653.25,1563.52 653.75,1562.83 654.26,1562.29 654.76,1562.71 655.26,1562.04 655.76,1561.32 656.26,1560.74 656.77,1562.33 657.27,1560.4 657.77,1560.45 658.27,1561.31 658.78,1561.28 659.28,1560 659.78,1560.19 660.28,1559.67 660.78,1559.14 661.29,1559.95 661.79,1559.88 662.29,1559.98 662.79,1560.07 663.29,1559.91 663.8,1560.24 664.3,1561.37 664.8,1562 665.3,1560.99 665.81,1562.28 666.31,1562.71 666.81,1563.71 667.31,1562.87 667.81,1563.85 668.32,1563.85 668.82,1564.54 669.32,1564.77 669.82,1565.34 670.33,1567.05 670.83,1567.4 671.33,1567.22 671.83,1568.01 672.33,1567.84 672.84,1567.34 673.34,1567.37 673.84,1566.12 674.34,1567.36 674.84,1567.03 675.35,1567.6 675.85,1569.29 676.35,1568.99 676.85,1569.59 677.36,1570.15 677.86,1569.5 678.36,1569.11 678.86,1568.21 679.36,1567.69 679.87,1568.48 680.37,1567.77 680.87,1567.06 681.37,1567.02 681.87,1569.44 682.38,1567.98 682.88,1569.22 683.38,1568.64 683.88,1569.99 684.39,1570.41 684.89,1569.72 685.39,1568.78 685.89,1568.99 686.39,1569.86 686.9,1567.87 687.4,1568.82 687.9,1568.22 688.4,1568.06 688.9,1568.17 689.41,1567.59 689.91,1567.16 690.41,1566.63 690.91,1566.01 691.42,1565.9 691.92,1566.35 692.42,1565.8 692.92,1565.43 693.42,1565.7 693.93,1566.38 694.43,1566.29 694.93,1566.3 695.43,1566.2 695.94,1566.11 696.44,1567.26 696.94,1567.31 697.44,1566.45 697.94,1566.5 698.45,1566.74 698.95,1569.09 699.45,1568.25 699.95,1570.2 700.45,1568.4 700.96,1569.1 701.46,1569.54 701.96,1570.1 702.46,1569.74 702.97,1570.87 703.47,1570.42 703.97,1570.9 704.47,1571.14 704.97,1571.08 705.48,1571.27 705.98,1571.92 706.48,1570.95 706.98,1570.85 707.48,1571.14 707.99,1570.46 708.49,1569.68 708.99,1570.23 709.49,1570.16 710,1571.15 710.5,1572.23 711,1572.35 711.5,1573.74 712,1574.18 712.51,1574.21 713.01,1574.51 713.51,1574.84 714.01,1574.06 714.52,1575.66 715.02,1575.36 715.52,1576.21 716.02,1575.47 716.52,1575.35 717.03,1575.33 717.53,1575.66 718.03,1575.59 718.53,1575.31 719.03,1575.55 719.54,1575.36 720.04,1575.7 720.54,1575.27 721.04,1575.33 721.55,1575.43 722.05,1575.65 722.55,1575.53 723.05,1575.47 723.55,1575.45 724.06,1575.52 724.56,1575.54 725.06,1575.47 725.56,1575.25 726.06,1575.86 726.57,1575.75 727.07,1575.78 727.57,1575.62 728.07,1575.81 728.58,1575.4 729.08,1575.48 729.58,1575.55 730.08,1575.62 730.58,1575.47 731.09,1575.47 731.59,1575.44 732.09,1575.63 732.59,1575.38 733.1,1575.76 733.6,1575.28 734.1,1576.05 734.6,1575.61 735.1,1575.71 735.61,1575.36 736.11,1575.77 736.61,1575.17 737.11,1575.78 737.61,1575.14 738.12,1575.42 738.62,1575.49 739.12,1575.42 739.62,1575.11 740.13,1575.34 740.63,1575.9 741.13,1575.29 741.63,1575.46 742.13,1575.79 742.64,1575.36 743.14,1575.72 743.64,1575.47 744.14,1575.46 744.64,1575.62 745.15,1575.38 745.65,1575.68 746.15,1575.47 746.65,1575.6 747.16,1575.53 747.66,1575.16 748.16,1575.48 748.66,1575.69 749.16,1575.52 749.67,1575.64 750.17,1575.5 750.67,1575.47 751.17,1575.48 751.67,1575.49 752.18,1575.6 752.68,1575.42 753.18,1575.31 753.68,1575.61 754.19,1575.51 754.69,1575.49 755.19,1575.28 755.69,1575.31 756.19,1575.63 756.7,1575.49 757.2,1575.77 757.7,1575.67 758.2,1575.5 758.71,1575.39 759.21,1575.33 759.71,1575.56 760.21,1575.74 760.71,1575.43 761.22,1575.53 761.72,1575.42 762.22,1575.47 762.72,1575.37 763.22,1575.38 763.73,1575.35 764.23,1575.58 764.73,1575.32 765.23,1575.59 765.74,1575.48 766.24,1575.17 766.74,1575.44 767.24,1575.71 767.74,1575.23 768.25,1575.32 768.75,1575.3 769.25,1575.46 769.75,1575.44 770.25,1575.54 770.76,1575.63 771.26,1575.23 771.76,1575.57 772.26,1575.59 772.77,1575.58 773.27,1575.17 773.77,1575.34 774.27,1575.57 774.77,1575.51 775.28,1575.41 775.78,1575.34 776.28,1575.79 776.78,1575.34 777.29,1575.54 777.79,1575.62 778.29,1575.57 778.79,1575.36 779.29,1575.19 779.8,1575.47 780.3,1575.4 780.8,1575.65 781.3,1575.41 781.8,1575.35 782.31,1575.77 782.81,1575.59 783.31,1575.36 783.81,1575.81 784.32,1575.57 784.82,1575.39 785.32,1575.8 785.82,1575.57 786.32,1575.49 786.83,1575.34 787.33,1575.73 787.83,1575.3 788.33,1575.45 788.83,1575.29 789.34,1575.29 789.84,1575.44 790.34,1575.41 790.84,1575.81 791.35,1575.74 791.85,1575.68 792.35,1575.56 792.85,1575.33 793.35,1575.82 793.86,1575.56 794.36,1575.74 794.86,1575.78 795.36,1575.24 795.87,1575.48 796.37,1575.21 796.87,1575.29 797.37,1575.66 797.87,1575.83 798.38,1575.13 798.88,1575.57 799.38,1575.7 799.88,1575.38 800.38,1575.48 800.89,1575.62 801.39,1575.56 801.89,1575.47 802.39,1575.49 802.9,1575.37 803.4,1575.56 803.9,1575.56 804.4,1575.39 804.9,1575.44 805.41,1575.3 805.91,1575.54 806.41,1575.52 806.91,1575.71 807.41,1575.23 807.92,1575.75 808.42,1575.46 808.92,1575.66 809.42,1575.44 809.93,1575.37 810.43,1575.79 810.93,1575.54 811.43,1575.81 811.93,1575.25 812.44,1575.58 812.94,1575.78 813.44,1575.63 813.94,1575.27 814.44,1575.23 814.95,1575.27 815.45,1575.64 815.95,1575.53 816.45,1575.21 816.96,1575.63 817.46,1575.56 817.96,1575.67 818.46,1575.71 818.96,1575.28 819.47,1575.39 819.97,1575.42 820.47,1575.4 820.97,1575.32 821.48,1575.23 821.98,1575.5 822.48,1575.56 822.98,1575.68 823.48,1575.31 823.99,1575.59 824.49,1575.77 824.99,1575.55 825.49,1575.5 825.99,1575.35 826.5,1575.32 827,1575.63 827.5,1575.64 828,1575.56 828.51,1575.72 829.01,1575.52 829.51,1575.42 830.01,1575.49 830.51,1575.79 831.02,1575.71 831.52,1575.27 832.02,1575.68 832.52,1575.37 833.02,1575.39 833.53,1575.56 834.03,1575.68 834.53,1575.46 835.03,1575.66 835.54,1575.53 836.04,1575.48 836.54,1575.63 837.04,1575.54 837.54,1575.56 838.05,1575.72 838.55,1575.53 839.05,1575.61 839.55,1575.83 840.06,1575.56 840.56,1575.55 841.06,1575.61 841.56,1575.87 842.06,1575.36 842.57,1575.38 843.07,1575.38 843.57,1575.44 844.07,1575.72 844.57,1575.48 845.08,1575.67 845.58,1575.11 846.08,1575.59 846.58,1575.38 847.09,1575.78 847.59,1575.71 848.09,1575.6 848.59,1575.37 849.09,1575.4 849.6,1575.45 850.1,1575.83 850.6,1575.3 851.1,1575.67 851.6,1575.21 852.11,1575.17 852.61,1575.35 853.11,1575.32 853.61,1575.73 854.12,1575.04 854.62,1575.46 855.12,1575.32 855.62,1575.65 856.12,1575.51 856.63,1575.71 857.13,1575.54 857.63,1575.5 858.13,1575.45 858.64,1575.25 859.14,1575.41 859.64,1575.46 860.14,1575.49 860.64,1575.14 861.15,1575.6 861.65,1575.29 862.15,1575.85 862.65,1575.66 863.15,1575.43 863.66,1575.53 864.16,1574.96 864.66,1575.04 865.16,1575.77 865.67,1575.69 866.17,1575.53 866.67,1575.19 867.17,1575.3 867.67,1575.44 868.18,1575.75 868.68,1575.65" fill="none" stroke="#56B4E9" stroke-width="2.1" stroke-linejoin="round" stroke-linecap="square"/>
</g>
<path d="M146.07 1598.9v4.86M246.5 1598.9v4.86M346.93 1598.9v4.86M447.37 1598.9v4.86M547.8 1598.9v4.86M648.23 1598.9v4.86M748.66 1598.9v4.86M849.09 1598.9v4.86M146.07 1575.5h-4.86M146.07 1515.95h-4.86M146.07 1456.4h-4.86M146.07 1396.85h-4.86M146.07 1337.3h-4.86M146.07 1277.75h-4.86M146.07 1218.2h-4.86" stroke="#000" stroke-width="1.11" fill="none"/>
<rect x="146.07" y="1172.95" width="714.57" height="425.95" fill="none" stroke="#000" stroke-width="1.11"/>
<text x="146.07" y="1627.9" font-size="25.8" text-anchor="middle">0</text>
<text x="246.5" y="1627.9" font-size="25.8" text-anchor="middle">200</text>
<text x="346.93" y="1627.9" font-size="25.8" text-anchor="middle">400</text>
<text x="447.37" y="1627.9" font-size="25.8" text-anchor="middle">600</text>
<text x="547.8" y="1627.9" font-size="25.8" text-anchor="middle">800</text>
<text x="648.23" y="1627.9" font-size="25.8" text-anchor="middle">1000</text>
<text x="748.66" y="1627.9" font-size="25.8" text-anchor="middle">1200</text>
<text x="849.09" y="1627.9" font-size="25.8" text-anchor="middle">1400</text>
<text x="137.77" y="1585.2" font-size="25.8" text-anchor="end">0</text>
<text x="137.77" y="1525.65" font-size="25.8" text-anchor="end">1</text>
<text x="137.77" y="1466.1" font-size="25.8" text-anchor="end">2</text>
<text x="137.77" y="1406.55" font-size="25.8" text-anchor="end">3</text>
<text x="137.77" y="1347" font-size="25.8" text-anchor="end">4</text>
<text x="137.77" y="1287.45" font-size="25.8" text-anchor="end">5</text>
<text x="137.77" y="1227.9" font-size="25.8" text-anchor="end">6</text>
<text x="146.07" y="1169.15" font-size="25.8">1e2</text>
<text y="1657.25" font-size="25.8"><tspan x="471.27">Time</tspan> <tspan x="543.07" dy="-1.9" font-size="21" letter-spacing="-0.35">(minute)</tspan></text>
<text transform="translate(110.5 1453.55) rotate(-90)" font-size="25.8"><tspan x="0" letter-spacing="-0.45">Magnitude</tspan> <tspan x="143" dy="-1.7" font-size="21" letter-spacing="-0.5">(W/m^2)</tspan></text>
<rect x="635.4" y="1185.8" width="212.1" height="83.1" rx="5.3" ry="5.3" fill="#fff" fill-opacity="0.8" stroke="#ccc" stroke-width="1.3"/>
<path d="M645.4 1206.3h51.7" stroke="#E69F00" stroke-width="2.1" stroke-linecap="square"/>
<path d="M645.4 1243.9h51.7" stroke="#56B4E9" stroke-width="2.1" stroke-linecap="square"/>
<text x="717.4" y="1215.7" font-size="25.8">Predicted</text>
<text x="717.4" y="1253.3" font-size="25.8">Test</text>
</g>
<g id="ax6">
<clipPath id="c5"><rect x="1099.1" y="1172.95" width="714.57" height="425.95"/></clipPath>
<g clip-path="url(#c5)">
<polyline points="1099.1,1578.04 1099.6,1578.14 1100.1,1578.26 1100.61,1578.48 1101.11,1578.09 1101.61,1578.08 1102.11,1578.74 1102.62,1578.51 1103.12,1578.33 1103.62,1578.71 1104.12,1577.87 1104.62,1577.39 1105.13,1577.81 1105.63,1578.05 1106.13,1578.31 1106.63,1578.34 1107.13,1578.33 1107.64,1578.75 1108.14,1578.07 1108.64,1578.2 1109.14,1578.62 1109.65,1578.77 1110.15,1577.82 1110.65,1578.41 1111.15,1578.68 1111.65,1577.72 1112.16,1577.68 1112.66,1577.9 1113.16,1578 1113.66,1578.42 1114.16,1578.01 1114.67,1577.94 1115.17,1578.26 1115.67,1578.37 1116.17,1578.4 1116.68,1578.09 1117.18,1578.84 1117.68,1578.67 1118.18,1578.42 1118.68,1578.19 1119.19,1578.22 1119.69,1578.32 1120.19,1578.23 1120.69,1578.39 1121.2,1577.8 1121.7,1578.27 1122.2,1578.84 1122.7,1578.34 1123.2,1578.12 1123.71,1578.26 1124.21,1578.34 1124.71,1578.38 1125.21,1577.8 1125.71,1577.95 1126.22,1578.08 1126.72,1578.37 1127.22,1579.05 1127.72,1578.59 1128.23,1578.42 1128.73,1578.6 1129.23,1578.49 1129.73,1578.22 1130.23,1578.92 1130.74,1579.33 1131.24,1578.72 1131.74,1578.46 1132.24,1578.99 1132.74,1578.25 1133.25,1578.04 1133.75,1578.38 1134.25,1578.09 1134.75,1578.6 1135.26,1578.73 1135.76,1578.66 1136.26,1578.56 1136.76,1577.94 1137.26,1577.2 1137.77,1577.97 1138.27,1578.54 1138.77,1578.45 1139.27,1578.05 1139.77,1577.98 1140.28,1577.65 1140.78,1577.77 1141.28,1578.18 1141.78,1578.55 1142.29,1578.58 1142.79,1578.58 1143.29,1578.63 1143.79,1578.59 1144.29,1578.39 1144.8,1578.15 1145.3,1578.01 1145.8,1578.17 1146.3,1578.52 1146.81,1578.62 1147.31,1578.63 1147.81,1578.6 1148.31,1578.23 1148.81,1577.97 1149.32,1577.99 1149.82,1578.15 1150.32,1578.59 1150.82,1578.51 1151.32,1578.3 1151.83,1578.83 1152.33,1578.53 1152.83,1578.55 1153.33,1578.12 1153.84,1578.03 1154.34,1577.96 1154.84,1578.2 1155.34,1577.98 1155.84,1578.12 1156.35,1577.82 1156.85,1577.78 1157.35,1578.16 1157.85,1578.2 1158.35,1578.28 1158.86,1577.9 1159.36,1578.1 1159.86,1578.11 1160.36,1578.74 1160.87,1578.7 1161.37,1577.83 1161.87,1577.97 1162.37,1578.45 1162.87,1578.46 1163.38,1578.44 1163.88,1577.94 1164.38,1577.68 1164.88,1578.01 1165.39,1578.66 1165.89,1578.77 1166.39,1578.28 1166.89,1578.18 1167.39,1578.46 1167.9,1578.32 1168.4,1578.05 1168.9,1578.77 1169.4,1578.61 1169.9,1578.09 1170.41,1578.38 1170.91,1577.91 1171.41,1578.25 1171.91,1578.54 1172.42,1578.76 1172.92,1578.72 1173.42,1578.59 1173.92,1578.46 1174.42,1577.98 1174.93,1578.52 1175.43,1578.87 1175.93,1579.27 1176.43,1578.72 1176.93,1578.05 1177.44,1577.7 1177.94,1577.7 1178.44,1578.3 1178.94,1578.11 1179.45,1577.87 1179.95,1577.81 1180.45,1578.02 1180.95,1577.87 1181.45,1578.18 1181.96,1578.68 1182.46,1577.94 1182.96,1577.66 1183.46,1578.01 1183.97,1577.8 1184.47,1578.07 1184.97,1578.41 1185.47,1578.65 1185.97,1578.47 1186.48,1578.47 1186.98,1578.54 1187.48,1578.78 1187.98,1578.24 1188.48,1578.07 1188.99,1578.07 1189.49,1577.99 1189.99,1578.26 1190.49,1578.77 1191,1577.89 1191.5,1577.72 1192,1577.84 1192.5,1577.99 1193,1578.21 1193.51,1578.38 1194.01,1578.09 1194.51,1578.02 1195.01,1577.85 1195.51,1578.12 1196.02,1578.39 1196.52,1578.33 1197.02,1578.82 1197.52,1578.49 1198.03,1577.5 1198.53,1578.57 1199.03,1578.69 1199.53,1578.18 1200.03,1577.89 1200.54,1578.37 1201.04,1577.92 1201.54,1578.5 1202.04,1578.76 1202.54,1578.48 1203.05,1578.3 1203.55,1578.5 1204.05,1578.3 1204.55,1578.47 1205.06,1578.67 1205.56,1578.37 1206.06,1578.31 1206.56,1578.3 1207.06,1578.14 1207.57,1577.68 1208.07,1577.97 1208.57,1578.55 1209.07,1578.63 1209.58,1578.47 1210.08,1577.96 1210.58,1578.12 1211.08,1577.98 1211.58,1578.14 1212.09,1577.99 1212.59,1578.06 1213.09,1578.31 1213.59,1578.51 1214.09,1578.5 1214.6,1578.14 1215.1,1578.01 1215.6,1578.2 1216.1,1578.18 1216.61,1578.06 1217.11,1578.57 1217.61,1578.16 1218.11,1577.77 1218.61,1578.25 1219.12,1578.71 1219.62,1578.48 1220.12,1577.98 1220.62,1578.34 1221.12,1578.87 1221.63,1578.23 1222.13,1578.36 1222.63,1578.29 1223.13,1578.24 1223.64,1577.78 1224.14,1578.23 1224.64,1578.12 1225.14,1578.56 1225.64,1578.54 1226.15,1578.24 1226.65,1578.13 1227.15,1578.17 1227.65,1578.35 1228.16,1577.92 1228.66,1578.26 1229.16,1578.72 1229.66,1578.47 1230.16,1578.14 1230.67,1577.78 1231.17,1578.33 1231.67,1578.79 1232.17,1578.14 1232.67,1578.29 1233.18,1578.71 1233.68,1578.07 1234.18,1578.09 1234.68,1578.68 1235.19,1578.14 1235.69,1578.19 1236.19,1577.94 1236.69,1578.11 1237.19,1578.67 1237.7,1578.32 1238.2,1578.27 1238.7,1578.72 1239.2,1578.17 1239.7,1578.32 1240.21,1578.35 1240.71,1578.65 1241.21,1578.73 1241.71,1579.01 1242.22,1578.64 1242.72,1577.93 1243.22,1578.08 1243.72,1577.93 1244.22,1578.34 1244.73,1578.58 1245.23,1577.88 1245.73,1578.28 1246.23,1578.48 1246.74,1578.43 1247.24,1578.58 1247.74,1578.08 1248.24,1578.05 1248.74,1578.33 1249.25,1578.31 1249.75,1577.62 1250.25,1578.34 1250.75,1578.17 1251.25,1578.03 1251.76,1578.14 1252.26,1577.81 1252.76,1577.73 1253.26,1577.8 1253.77,1577.57 1254.27,1577.8 1254.77,1578.53 1255.27,1578.29 1255.77,1578.24 1256.28,1578.44 1256.78,1577.98 1257.28,1578.04 1257.78,1578.34 1258.28,1578.13 1258.79,1577.9 1259.29,1578.62 1259.79,1578.17 1260.29,1578.32 1260.8,1578.32 1261.3,1578.28 1261.8,1578.73 1262.3,1578.83 1262.8,1578.47 1263.31,1578.35 1263.81,1578.35 1264.31,1577.76 1264.81,1578.04 1265.31,1578.56 1265.82,1578.13 1266.32,1577.68 1266.82,1578.51 1267.32,1578.59 1267.83,1578.29 1268.33,1578.72 1268.83,1578.29 1269.33,1578.59 1269.83,1578.33 1270.34,1578.43 1270.84,1577.82 1271.34,1578.14 1271.84,1578.39 1272.35,1578 1272.85,1578.13 1273.35,1578.55 1273.85,1578.53 1274.35,1578.38 1274.86,1578.08 1275.36,1578.38 1275.86,1578.08 1276.36,1578.13 1276.86,1578.67 1277.37,1579.22 1277.87,1578.67 1278.37,1578.11 1278.87,1578.42 1279.38,1578.41 1279.88,1578.22 1280.38,1578.11 1280.88,1578.12 1281.38,1578.33 1281.89,1578.71 1282.39,1578.38 1282.89,1578.21 1283.39,1578.39 1283.89,1578.32 1284.4,1578.69 1284.9,1578.89 1285.4,1578.54 1285.9,1578.08 1286.41,1578.27 1286.91,1578.22 1287.41,1578.26 1287.91,1578.45 1288.41,1578.21 1288.92,1578.34 1289.42,1578.48 1289.92,1578.54 1290.42,1578.33 1290.93,1578.28 1291.43,1578.16 1291.93,1578.2 1292.43,1578.48 1292.93,1578.94 1293.44,1578.75 1293.94,1578.29 1294.44,1578.18 1294.94,1577.85 1295.44,1577.82 1295.95,1577.75 1296.45,1578.02 1296.95,1578.54 1297.45,1578.33 1297.96,1578.51 1298.46,1577.97 1298.96,1578.08 1299.46,1577.95 1299.96,1577.83 1300.47,1578.01 1300.97,1578.28 1301.47,1578.27 1301.97,1578.27 1302.47,1578.16 1302.98,1578.3 1303.48,1578.48 1303.98,1578.01 1304.48,1577.75 1304.99,1577.63 1305.49,1577.71 1305.99,1577.36 1306.49,1577.28 1306.99,1577.22 1307.5,1577.19 1308,1576.8 1308.5,1576.14 1309,1576.47 1309.51,1576.38 1310.01,1575.63 1310.51,1575.85 1311.01,1575.28 1311.51,1575.65 1312.02,1574.96 1312.52,1574.97 1313.02,1574.41 1313.52,1573.61 1314.02,1573.55 1314.53,1572.13 1315.03,1571.99 1315.53,1571.34 1316.03,1570.75 1316.54,1569.97 1317.04,1569.56 1317.54,1568.53 1318.04,1568.36 1318.54,1568.31 1319.05,1567.45 1319.55,1566.96 1320.05,1565.89 1320.55,1565.6 1321.05,1565.45 1321.56,1564.31 1322.06,1562.71 1322.56,1563.82 1323.06,1562.95 1323.57,1562.64 1324.07,1561.58 1324.57,1561.34 1325.07,1560.8 1325.57,1562.11 1326.08,1560.59 1326.58,1560.08 1327.08,1559.21 1327.58,1558.97 1328.08,1558.47 1328.59,1557.28 1329.09,1556.18 1329.59,1558.15 1330.09,1556.62 1330.6,1555.75 1331.1,1555.84 1331.6,1556.16 1332.1,1556.7 1332.6,1556.69 1333.11,1555.94 1333.61,1555.81 1334.11,1556.55 1334.61,1556.67 1335.12,1556.14 1335.62,1555.94 1336.12,1555.1 1336.62,1555.3 1337.12,1555.61 1337.63,1555.19 1338.13,1555.26 1338.63,1554.44 1339.13,1554.63 1339.63,1555.38 1340.14,1554.02 1340.64,1551.61 1341.14,1546.41 1341.64,1541.35 1342.15,1537 1342.65,1533.58 1343.15,1532.31 1343.65,1530.98 1344.15,1529.46 1344.66,1527.72 1345.16,1527 1345.66,1527.07 1346.16,1527.97 1346.66,1529.28 1347.17,1530.91 1347.67,1529.51 1348.17,1526.02 1348.67,1521.86 1349.18,1521.18 1349.68,1521.53 1350.18,1522.02 1350.68,1523.09 1351.18,1523.83 1351.69,1520.49 1352.19,1513.24 1352.69,1509.87 1353.19,1507.31 1353.7,1504.16 1354.2,1504.16 1354.7,1506.25 1355.2,1509.12 1355.7,1513.46 1356.21,1518.43 1356.71,1522.71 1357.21,1524.66 1357.71,1525.69 1358.21,1524.48 1358.72,1519.02 1359.22,1509.9 1359.72,1495.75 1360.22,1493.51 1360.73,1492.65 1361.23,1491.59 1361.73,1488.87 1362.23,1489.1 1362.73,1491.96 1363.24,1495.7 1363.74,1498.32 1364.24,1501.13 1364.74,1503.2 1365.24,1502.43 1365.75,1492.03 1366.25,1478.5 1366.75,1468.26 1367.25,1459.74 1367.76,1453.35 1368.26,1448.36 1368.76,1455.67 1369.26,1458.9 1369.76,1461.94 1370.27,1458.91 1370.77,1453.62 1371.27,1451.51 1371.77,1450.12 1372.28,1451.78 1372.78,1456.31 1373.28,1460.28 1373.78,1463.01 1374.28,1466.94 1374.79,1473.2 1375.29,1480.16 1375.79,1486.55 1376.29,1489.86 1376.79,1488.8 1377.3,1485.59 1377.8,1481.8 1378.3,1477.33 1378.8,1472.17 1379.31,1467.92 1379.81,1463.77 1380.31,1458.74 1380.81,1455.66 1381.31,1453.77 1381.82,1457.16 1382.32,1460.72 1382.82,1463.46 1383.32,1461.83 1383.82,1446.61 1384.33,1444.68 1384.83,1444.33 1385.33,1445 1385.83,1446.37 1386.34,1442.79 1386.84,1435.8 1387.34,1430.88 1387.84,1432.71 1388.34,1436.86 1388.85,1440.94 1389.35,1442.69 1389.85,1445.42 1390.35,1452.75 1390.85,1458.15 1391.36,1452.71 1391.86,1446.21 1392.36,1442.61 1392.86,1441.92 1393.37,1442.61 1393.87,1444.52 1394.37,1448.71 1394.87,1465.13 1395.37,1471.47 1395.88,1474.88 1396.38,1470.6 1396.88,1464.65 1397.38,1463.1 1397.89,1470.22 1398.39,1478.35 1398.89,1476.18 1399.39,1471.83 1399.89,1466.67 1400.4,1459.14 1400.9,1447.31 1401.4,1435.84 1401.9,1426.8 1402.4,1422.54 1402.91,1427.45 1403.41,1433.96 1403.91,1445.98 1404.41,1456.2 1404.92,1462.83 1405.42,1453.71 1405.92,1447.13 1406.42,1442.02 1406.92,1430.34 1407.43,1415.62 1407.93,1393.35 1408.43,1369.92 1408.93,1356.79 1409.43,1347.16 1409.94,1337.7 1410.44,1332.01 1410.94,1341.89 1411.44,1358.56 1411.95,1369.97 1412.45,1382.95 1412.95,1408.93 1413.45,1423.56 1413.95,1432.41 1414.46,1424.61 1414.96,1411.18 1415.46,1398.62 1415.96,1382.16 1416.47,1363.49 1416.97,1330.56 1417.47,1314.07 1417.97,1305.94 1418.47,1306.33 1418.98,1309.95 1419.48,1329.99 1419.98,1350.81 1420.48,1344.73 1420.98,1336.47 1421.49,1336.39 1421.99,1338.96 1422.49,1365.84 1422.99,1398.66 1423.5,1409.8 1424,1385.8 1424.5,1331.7 1425,1307.45 1425.5,1287.25 1426.01,1264.59 1426.51,1276.02 1427.01,1282.01 1427.51,1286.28 1428.01,1286.56 1428.52,1287.02 1429.02,1294.33 1429.52,1307.1 1430.02,1340.71 1430.53,1363.88 1431.03,1390.56 1431.53,1422.88 1432.03,1432.7 1432.53,1425.79 1433.04,1417.03 1433.54,1406.32 1434.04,1394.83 1434.54,1382.52 1435.05,1374.73 1435.55,1375.52 1436.05,1378.11 1436.55,1382.92 1437.05,1384.92 1437.56,1365.6 1438.06,1349.81 1438.56,1340 1439.06,1345.35 1439.56,1353.16 1440.07,1369.02 1440.57,1388.67 1441.07,1416 1441.57,1425.94 1442.08,1418.56 1442.58,1404.82 1443.08,1386.42 1443.58,1380.92 1444.08,1384.84 1444.59,1388.81 1445.09,1398.37 1445.59,1408.8 1446.09,1416.17 1446.59,1419.29 1447.1,1411.87 1447.6,1398.94 1448.1,1377.97 1448.6,1370.73 1449.11,1378.36 1449.61,1388.2 1450.11,1400.53 1450.61,1411.17 1451.11,1419.45 1451.62,1406.56 1452.12,1396.85 1452.62,1391.67 1453.12,1397.11 1453.62,1402.9 1454.13,1411.6 1454.63,1399.38 1455.13,1376.61 1455.63,1366.88 1456.14,1361.72 1456.64,1359 1457.14,1355.52 1457.64,1350.57 1458.14,1345.71 1458.65,1342.57 1459.15,1340.14 1459.65,1340.39 1460.15,1340.61 1460.66,1339.47 1461.16,1338.11 1461.66,1338.87 1462.16,1337.44 1462.66,1336.9 1463.17,1334.76 1463.67,1332.64 1464.17,1331.31 1464.67,1328.72 1465.17,1325.94 1465.68,1324.13 1466.18,1321.67 1466.68,1318.18 1467.18,1315.11 1467.69,1310.96 1468.19,1308.64 1468.69,1305.59 1469.19,1303.34 1469.69,1302.73 1470.2,1302.38 1470.7,1300.77 1471.2,1300.13 1471.7,1299.58 1472.2,1301.82 1472.71,1303.39 1473.21,1310.62 1473.71,1317.83 1474.21,1319.23 1474.72,1319.8 1475.22,1319.11 1475.72,1316.66 1476.22,1311.31 1476.72,1303.76 1477.23,1299.65 1477.73,1296.57 1478.23,1294.83 1478.73,1291.97 1479.24,1287.7 1479.74,1285.33 1480.24,1282.66 1480.74,1280.99 1481.24,1282.3 1481.75,1287.54 1482.25,1292.17 1482.75,1299.36 1483.25,1307.76 1483.75,1317.34 1484.26,1322.06 1484.76,1325.98 1485.26,1327.55 1485.76,1327.93 1486.27,1330.22 1486.77,1352.95 1487.27,1379.26 1487.77,1406.01 1488.27,1433.33 1488.78,1459.61 1489.28,1482.28 1489.78,1502.33 1490.28,1512.11 1490.78,1518.39 1491.29,1521.25 1491.79,1523.85 1492.29,1521.69 1492.79,1516.06 1493.3,1511.78 1493.8,1506.1 1494.3,1500.85 1494.8,1497.99 1495.3,1496.81 1495.81,1495.33 1496.31,1494.47 1496.81,1494.56 1497.31,1495.85 1497.82,1497.6 1498.32,1494.44 1498.82,1488.34 1499.32,1481.58 1499.82,1470.68 1500.33,1459.08 1500.83,1449.98 1501.33,1441.31 1501.83,1435.01 1502.33,1431.07 1502.84,1430.91 1503.34,1429.42 1503.84,1428.79 1504.34,1427.95 1504.85,1426.31 1505.35,1423.61 1505.85,1419.82 1506.35,1416.8 1506.85,1415.36 1507.36,1413.72 1507.86,1412.8 1508.36,1415.5 1508.86,1419.42 1509.36,1419.37 1509.87,1415.16 1510.37,1402.69 1510.87,1388.43 1511.37,1371.41 1511.88,1350.59 1512.38,1356.57 1512.88,1365.29 1513.38,1371.77 1513.88,1378.17 1514.39,1387.01 1514.89,1396.94 1515.39,1413.82 1515.89,1432.98 1516.39,1451.65 1516.9,1467.42 1517.4,1477.78 1517.9,1484.85 1518.4,1486.28 1518.91,1486.91 1519.41,1479.13 1519.91,1467.02 1520.41,1452.53 1520.91,1433.75 1521.42,1414.38 1521.92,1398.32 1522.42,1386.71 1522.92,1374.65 1523.43,1363.34 1523.93,1351.36 1524.43,1338.05 1524.93,1324.66 1525.43,1311.42 1525.94,1295.57 1526.44,1283.48 1526.94,1271.8 1527.44,1247.89 1527.94,1218.88 1528.45,1202.66 1528.95,1193.21 1529.45,1217.31 1529.95,1248.87 1530.46,1300.3 1530.96,1374.56 1531.46,1456.36 1531.96,1512.15 1532.46,1541.19 1532.97,1544.19 1533.47,1544.16 1533.97,1544.88 1534.47,1544.86 1534.97,1545.8 1535.48,1545.42 1535.98,1545.84 1536.48,1544.09 1536.98,1543.42 1537.49,1543 1537.99,1542.18 1538.49,1539.81 1538.99,1537.24 1539.49,1534.76 1540,1531.99 1540.5,1527.88 1541,1525.75 1541.5,1524.57 1542.01,1522.65 1542.51,1520.14 1543.01,1518.82 1543.51,1518.49 1544.01,1518.95 1544.52,1524.66 1545.02,1531.1 1545.52,1534.83 1546.02,1537.32 1546.52,1537.85 1547.03,1539.19 1547.53,1540.42 1548.03,1541.32 1548.53,1541.26 1549.04,1542.07 1549.54,1542.37 1550.04,1541.82 1550.54,1542.65 1551.04,1541.8 1551.55,1539.63 1552.05,1540.26 1552.55,1539.32 1553.05,1538.23 1553.55,1536.97 1554.06,1536 1554.56,1535.48 1555.06,1536.11 1555.56,1537.86 1556.07,1539.53 1556.57,1539.26 1557.07,1539.28 1557.57,1539.04 1558.07,1539.3 1558.58,1538.96 1559.08,1541.05 1559.58,1543.44 1560.08,1546.54 1560.59,1548.25 1561.09,1550.92 1561.59,1553.26 1562.09,1554.02 1562.59,1555.02 1563.1,1556.9 1563.6,1559.14 1564.1,1559.3 1564.6,1558.81 1565.1,1558.49 1565.61,1557.73 1566.11,1557.82 1566.61,1557.76 1567.11,1557.54 1567.62,1557.84 1568.12,1558.35 1568.62,1559.42 1569.12,1559.3 1569.62,1559.92 1570.13,1561.41 1570.63,1561.88 1571.13,1562.15 1571.63,1562.3 1572.13,1561.6 1572.64,1561.7 1573.14,1562.22 1573.64,1562.82 1574.14,1563.49 1574.65,1564.62 1575.15,1568.92 1575.65,1570.86 1576.15,1572.66 1576.65,1572.33 1577.16,1570.32 1577.66,1569.99 1578.16,1569.42 1578.66,1568.21 1579.16,1569.07 1579.67,1570.63 1580.17,1570.97 1580.67,1572.64 1581.17,1573.41 1581.68,1574.13 1582.18,1573.88 1582.68,1573.69 1583.18,1573.72 1583.68,1573.78 1584.19,1573.22 1584.69,1573.27 1585.19,1573.23 1585.69,1574.12 1586.2,1573.57 1586.7,1573.75 1587.2,1574.49 1587.7,1574.5 1588.2,1573.7 1588.71,1573.96 1589.21,1572.79 1589.71,1571.93 1590.21,1571.65 1590.71,1570.8 1591.22,1569.6 1591.72,1569.12 1592.22,1569.37 1592.72,1569.29 1593.23,1568.81 1593.73,1568.55 1594.23,1567.83 1594.73,1566.66 1595.23,1566.53 1595.74,1566.83 1596.24,1567.04 1596.74,1567.62 1597.24,1566.28 1597.74,1565.97 1598.25,1565.02 1598.75,1564.3 1599.25,1565.13 1599.75,1564.86 1600.26,1564.41 1600.76,1564.37 1601.26,1563.91 1601.76,1563.46 1602.26,1562.52 1602.77,1563.05 1603.27,1561.98 1603.77,1562.24 1604.27,1562.25 1604.78,1562.31 1605.28,1563.18 1605.78,1564.26 1606.28,1564.29 1606.78,1565.12 1607.29,1565.12 1607.79,1564.67 1608.29,1564.3 1608.79,1564.88 1609.29,1564.29 1609.8,1563.16 1610.3,1562.32 1610.8,1563.71 1611.3,1562.22 1611.81,1562.28 1612.31,1563.18 1612.81,1562.73 1613.31,1561.4 1613.81,1561.55 1614.32,1561.1 1614.82,1560.82 1615.32,1561.8 1615.82,1561.68 1616.32,1561.4 1616.83,1561.28 1617.33,1561.34 1617.83,1561.64 1618.33,1562.72 1618.84,1563.75 1619.34,1563.05 1619.84,1564.32 1620.34,1564.64 1620.84,1565.34 1621.35,1564.89 1621.85,1565.83 1622.35,1566 1622.85,1566.51 1623.36,1566.87 1623.86,1567.86 1624.36,1569.19 1624.86,1569.5 1625.36,1569.66 1625.87,1570.32 1626.37,1569.95 1626.87,1569.31 1627.37,1569.15 1627.87,1568.16 1628.38,1569.3 1628.88,1568.99 1629.38,1569.53 1629.88,1571.25 1630.39,1571.38 1630.89,1571.77 1631.39,1572.26 1631.89,1571.99 1632.39,1571.22 1632.9,1570.22 1633.4,1570.28 1633.9,1570.9 1634.4,1569.91 1634.9,1569.11 1635.41,1569.26 1635.91,1571.77 1636.41,1570.55 1636.91,1571.45 1637.42,1571.29 1637.92,1572.35 1638.42,1572.52 1638.92,1572.11 1639.42,1571.34 1639.93,1570.89 1640.43,1571.64 1640.93,1570.34 1641.43,1570.88 1641.93,1570.39 1642.44,1570.49 1642.94,1570.8 1643.44,1570.09 1643.94,1569.4 1644.45,1568.67 1644.95,1567.85 1645.45,1567.72 1645.95,1568.54 1646.45,1568.38 1646.96,1567.73 1647.46,1567.69 1647.96,1568.1 1648.46,1568.08 1648.97,1568.28 1649.47,1568.48 1649.97,1568.51 1650.47,1569.32 1650.97,1569.43 1651.48,1568.78 1651.98,1568.99 1652.48,1569.27 1652.98,1571.17 1653.48,1570.45 1653.99,1572.29 1654.49,1571.24 1654.99,1571.42 1655.49,1572 1656,1572.84 1656.5,1572.25 1657,1572.97 1657.5,1572.61 1658,1573.14 1658.51,1573.58 1659.01,1573.61 1659.51,1574.04 1660.01,1574.38 1660.51,1573.72 1661.02,1573.91 1661.52,1573.75 1662.02,1572.89 1662.52,1572.1 1663.03,1573 1663.53,1573.24 1664.03,1573.8 1664.53,1574.39 1665.03,1574.62 1665.54,1576.41 1666.04,1576.88 1666.54,1576.78 1667.04,1577.45 1667.55,1577.87 1668.05,1577.01 1668.55,1577.9 1669.05,1577.61 1669.55,1578.81 1670.06,1578.45 1670.56,1577.95 1671.06,1578.06 1671.56,1578.54 1672.06,1578.24 1672.57,1578.45 1673.07,1578.69 1673.57,1578.11 1674.07,1578.12 1674.58,1577.89 1675.08,1578.32 1675.58,1578.53 1676.08,1578.61 1676.58,1578.25 1677.09,1578.01 1677.59,1578.34 1678.09,1578.35 1678.59,1578.12 1679.09,1578.3 1679.6,1577.92 1680.1,1578.5 1680.6,1578.69 1681.1,1578.37 1681.61,1577.99 1682.11,1578.34 1682.61,1577.94 1683.11,1578.06 1683.61,1578.3 1684.12,1578.01 1684.62,1578.05 1685.12,1578.33 1685.62,1578.55 1686.13,1578.63 1686.63,1578.34 1687.13,1578.59 1687.63,1578.1 1688.13,1578.56 1688.64,1578.24 1689.14,1578.84 1689.64,1578.44 1690.14,1578.79 1690.64,1578.36 1691.15,1578.62 1691.65,1578.46 1692.15,1578.64 1692.65,1578.34 1693.16,1578.11 1693.66,1577.87 1694.16,1578.4 1694.66,1579.11 1695.16,1578.37 1695.67,1578.64 1696.17,1578.9 1696.67,1578.27 1697.17,1578.3 1697.67,1578.41 1698.18,1578.67 1698.68,1578.56 1699.18,1578.48 1699.68,1578.51 1700.19,1578.49 1700.69,1578.91 1701.19,1579.01 1701.69,1578.45 1702.19,1578.25 1702.7,1578.38 1703.2,1578.52 1703.7,1578.41 1704.2,1577.73 1704.7,1577.96 1705.21,1578.08 1705.71,1577.93 1706.21,1577.97 1706.71,1577.95 1707.22,1578.21 1707.72,1578.29 1708.22,1578.08 1708.72,1578.23 1709.22,1578.16 1709.73,1577.88 1710.23,1578.02 1710.73,1577.92 1711.23,1578.38 1711.74,1578.76 1712.24,1578.49 1712.74,1578.35 1713.24,1578.69 1713.74,1578.52 1714.25,1578.43 1714.75,1577.95 1715.25,1577.67 1715.75,1577.86 1716.25,1578.4 1716.76,1578.57 1717.26,1577.97 1717.76,1577.82 1718.26,1578.25 1718.77,1578.14 1719.27,1578.14 1719.77,1577.89 1720.27,1577.82 1720.77,1577.96 1721.28,1578.04 1721.78,1577.79 1722.28,1578.28 1722.78,1578.25 1723.28,1578.32 1723.79,1578.39 1724.29,1578.26 1724.79,1578.16 1725.29,1578.31 1725.8,1578.52 1726.3,1578.38 1726.8,1578.75 1727.3,1577.98 1727.8,1578.08 1728.31,1578.55 1728.81,1578.32 1729.31,1578.17 1729.81,1578.24 1730.32,1578.69 1730.82,1577.89 1731.32,1577.96 1731.82,1578.29 1732.32,1578.26 1732.83,1578.04 1733.33,1577.94 1733.83,1578.36 1734.33,1578.48 1734.83,1578.95 1735.34,1578.4 1735.84,1578.15 1736.34,1578.58 1736.84,1578.44 1737.35,1578.07 1737.85,1578.34 1738.35,1578.26 1738.85,1578.22 1739.35,1578.67 1739.86,1578.5 1740.36,1578.48 1740.86,1578.33 1741.36,1578.21 1741.86,1577.85 1742.37,1578.33 1742.87,1578.12 1743.37,1578.1 1743.87,1578.57 1744.38,1578.63 1744.88,1578.6 1745.38,1578.52 1745.88,1578.73 1746.38,1578.47 1746.89,1578.64 1747.39,1579.08 1747.89,1578.06 1748.39,1578.06 1748.9,1578.24 1749.4,1578.02 1749.9,1578.36 1750.4,1577.86 1750.9,1578.08 1751.41,1578.43 1751.91,1578.35 1752.41,1577.78 1752.91,1578.19 1753.41,1578.65 1753.92,1578.36 1754.42,1578.37 1754.92,1578.45 1755.42,1578.52 1755.93,1578.43 1756.43,1578.32 1756.93,1578.72 1757.43,1578.64 1757.93,1578.2 1758.44,1578.33 1758.94,1578.34 1759.44,1578.01 1759.94,1577.92 1760.44,1577.64 1760.95,1578.12 1761.45,1578.06 1761.95,1578.2 1762.45,1578.05 1762.96,1578.48 1763.46,1578.5 1763.96,1577.97 1764.46,1577.98 1764.96,1578.12 1765.47,1578.31 1765.97,1578.02 1766.47,1578.25 1766.97,1578.22 1767.47,1578.48 1767.98,1578.37 1768.48,1578 1768.98,1578.1 1769.48,1578.66 1769.99,1578.34 1770.49,1578.27 1770.99,1578.47 1771.49,1578.17 1771.99,1578.81 1772.5,1578.24 1773,1577.62 1773.5,1578.37 1774,1577.93 1774.51,1577.61 1775.01,1578.15 1775.51,1577.93 1776.01,1578.1 1776.51,1578.68 1777.02,1578.61 1777.52,1577.8 1778.02,1578.46 1778.52,1578.71 1779.02,1577.91 1779.53,1577.87 1780.03,1577.91 1780.53,1578.13 1781.03,1578.47 1781.54,1578.39 1782.04,1577.94 1782.54,1578.08 1783.04,1578.31 1783.54,1577.88 1784.05,1577.7 1784.55,1578.27 1785.05,1578.58 1785.55,1577.92 1786.05,1578.15 1786.56,1578.43 1787.06,1578.35 1787.56,1577.92 1788.06,1578.45 1788.57,1578.26 1789.07,1578.17 1789.57,1578.53 1790.07,1578.54 1790.57,1578.6 1791.08,1578.36 1791.58,1578.34 1792.08,1578.43 1792.58,1578.45 1793.09,1578.86 1793.59,1579.08 1794.09,1578.69 1794.59,1578.61 1795.09,1578.69 1795.6,1578.58 1796.1,1577.88 1796.6,1578.18 1797.1,1578.2 1797.6,1578.53 1798.11,1578.82 1798.61,1578.22 1799.11,1578.35 1799.61,1577.67 1800.12,1578.44 1800.62,1578.59 1801.12,1578.53 1801.62,1578.82 1802.12,1579.12 1802.63,1578.47 1803.13,1578.08 1803.63,1578.47 1804.13,1578.49 1804.63,1577.88 1805.14,1578.46 1805.64,1577.74 1806.14,1577.97 1806.64,1578.25 1807.15,1577.75 1807.65,1578.32 1808.15,1578.17 1808.65,1578.61 1809.15,1578.38 1809.66,1578.39 1810.16,1578.45 1810.66,1578.46 1811.16,1578.08 1811.67,1578.16 1812.17,1578.19 1812.67,1577.94 1813.17,1577.65 1813.67,1578.08 1814.18,1578.56 1814.68,1578.13 1815.18,1578.68 1815.68,1578.43 1816.18,1578.76 1816.69,1578.69 1817.19,1578.91 1817.69,1578.55 1818.19,1577.77 1818.7,1577.93 1819.2,1578.36 1819.7,1578.8 1820.2,1578.77 1820.7,1577.91 1821.21,1578.26 1821.71,1578.47" fill="none" stroke="#E69F00" stroke-width="2.1" stroke-linejoin="round" stroke-linecap="square"/>
<polyline points="1099.1,1577.98 1099.6,1578.39 1100.1,1578.29 1100.61,1578.22 1101.11,1578.45 1101.61,1578.3 1102.11,1578.3 1102.62,1578.63 1103.12,1578.11 1103.62,1578.19 1104.12,1578.42 1104.62,1578.33 1105.13,1578.2 1105.63,1578.35 1106.13,1578.35 1106.63,1578.57 1107.13,1578.2 1107.64,1578.28 1108.14,1578.25 1108.64,1578.59 1109.14,1577.99 1109.65,1578.27 1110.15,1578.37 1110.65,1577.92 1111.15,1578.31 1111.65,1578.57 1112.16,1578.38 1112.66,1578.73 1113.16,1578.1 1113.66,1578.38 1114.16,1578.44 1114.67,1578.1 1115.17,1578.61 1115.67,1578.2 1116.17,1578.69 1116.68,1578.42 1117.18,1578.53 1117.68,1578.02 1118.18,1577.97 1118.68,1578.36 1119.19,1578.14 1119.69,1578.33 1120.19,1578.19 1120.69,1578.44 1121.2,1578.62 1121.7,1578.64 1122.2,1578.23 1122.7,1577.88 1123.2,1578.25 1123.71,1578.4 1124.21,1577.94 1124.71,1578.26 1125.21,1578.28 1125.71,1578.25 1126.22,1578.32 1126.72,1578.36 1127.22,1578.57 1127.72,1578.21 1128.23,1578.32 1128.73,1578.08 1129.23,1578.37 1129.73,1578.66 1130.23,1578.32 1130.74,1577.98 1131.24,1578.37 1131.74,1578.47 1132.24,1578.52 1132.74,1578.5 1133.25,1578.36 1133.75,1578.52 1134.25,1578.02 1134.75,1578.35 1135.26,1578.28 1135.76,1578.03 1136.26,1578.02 1136.76,1578.34 1137.26,1578.24 1137.77,1578.16 1138.27,1578.34 1138.77,1578.63 1139.27,1578.18 1139.77,1578.13 1140.28,1578.22 1140.78,1578.47 1141.28,1578.34 1141.78,1578.41 1142.29,1578.36 1142.79,1578.06 1143.29,1578.01 1143.79,1578.17 1144.29,1578.2 1144.8,1578.17 1145.3,1578.3 1145.8,1578.31 1146.3,1578.43 1146.81,1578.31 1147.31,1577.87 1147.81,1578.14 1148.31,1578.36 1148.81,1578.39 1149.32,1578.46 1149.82,1578.23 1150.32,1578.23 1150.82,1578.57 1151.32,1578.21 1151.83,1578.41 1152.33,1578.03 1152.83,1578.27 1153.33,1577.98 1153.84,1578.39 1154.34,1578.35 1154.84,1578.24 1155.34,1578.1 1155.84,1578.19 1156.35,1578.53 1156.85,1578.27 1157.35,1578.3 1157.85,1578.38 1158.35,1578.42 1158.86,1577.97 1159.36,1578.37 1159.86,1578.46 1160.36,1578.18 1160.87,1578.28 1161.37,1578.31 1161.87,1578.15 1162.37,1578.21 1162.87,1578.23 1163.38,1578.12 1163.88,1578.25 1164.38,1578.42 1164.88,1578.37 1165.39,1578.4 1165.89,1578.26 1166.39,1578.5 1166.89,1578.64 1167.39,1578.28 1167.9,1578.55 1168.4,1578.67 1168.9,1578.23 1169.4,1578.43 1169.9,1578.21 1170.41,1578.4 1170.91,1578.51 1171.41,1578.53 1171.91,1578.4 1172.42,1578.35 1172.92,1578.45 1173.42,1578.35 1173.92,1578.59 1174.42,1578.3 1174.93,1578.64 1175.43,1578.34 1175.93,1578.17 1176.43,1578.09 1176.93,1577.98 1177.44,1578.59 1177.94,1578.16 1178.44,1578.07 1178.94,1578.12 1179.45,1578.47 1179.95,1578.22 1180.45,1577.95 1180.95,1578.58 1181.45,1578.21 1181.96,1578.09 1182.46,1578.43 1182.96,1578.19 1183.46,1578.5 1183.97,1578.45 1184.47,1578.45 1184.97,1578.26 1185.47,1578.32 1185.97,1578.12 1186.48,1578.48 1186.98,1578.32 1187.48,1578.12 1187.98,1578.19 1188.48,1578.55 1188.99,1578.17 1189.49,1578.39 1189.99,1578.23 1190.49,1578.24 1191,1578.07 1191.5,1578.28 1192,1578.65 1192.5,1578.56 1193,1578.16 1193.51,1578.35 1194.01,1578.09 1194.51,1578.25 1195.01,1578.44 1195.51,1578.1 1196.02,1578.45 1196.52,1578.69 1197.02,1577.91 1197.52,1578.66 1198.03,1578.18 1198.53,1578.12 1199.03,1578.27 1199.53,1578.62 1200.03,1578.11 1200.54,1578.57 1201.04,1578.55 1201.54,1578.37 1202.04,1578.15 1202.54,1578.24 1203.05,1578.15 1203.55,1578.38 1204.05,1578.33 1204.55,1578.51 1205.06,1578.36 1205.56,1578.19 1206.06,1578.36 1206.56,1578.21 1207.06,1578.41 1207.57,1578.41 1208.07,1578.29 1208.57,1578.34 1209.07,1578.19 1209.58,1578.27 1210.08,1577.97 1210.58,1578.34 1211.08,1578.34 1211.58,1578.5 1212.09,1578.3 1212.59,1578.17 1213.09,1578.44 1213.59,1578.31 1214.09,1578.16 1214.6,1578.32 1215.1,1578.4 1215.6,1578.12 1216.1,1578.28 1216.61,1578.23 1217.11,1578.08 1217.61,1578.08 1218.11,1578.37 1218.61,1578.4 1219.12,1578.25 1219.62,1578.32 1220.12,1578.66 1220.62,1578.06 1221.12,1578.3 1221.63,1578.16 1222.13,1578.52 1222.63,1578.06 1223.13,1578.41 1223.64,1578.32 1224.14,1578.56 1224.64,1578.33 1225.14,1578.34 1225.64,1578.33 1226.15,1578.22 1226.65,1578.29 1227.15,1578.12 1227.65,1578.39 1228.16,1578.49 1228.66,1578.3 1229.16,1578.18 1229.66,1578.07 1230.16,1578.15 1230.67,1578.63 1231.17,1578.23 1231.67,1578.03 1232.17,1578.29 1232.67,1578.4 1233.18,1578.24 1233.68,1578.39 1234.18,1578.18 1234.68,1578.3 1235.19,1578.04 1235.69,1578.21 1236.19,1578.44 1236.69,1578.19 1237.19,1578.12 1237.7,1578.41 1238.2,1578.38 1238.7,1578.73 1239.2,1578.13 1239.7,1578.41 1240.21,1578.7 1240.71,1578.63 1241.21,1578.34 1241.71,1578.16 1242.22,1578.32 1242.72,1578.21 1243.22,1578.51 1243.72,1578.55 1244.22,1578.13 1244.73,1578.21 1245.23,1578.31 1245.73,1578.06 1246.23,1578.48 1246.74,1578.38 1247.24,1578.11 1247.74,1577.95 1248.24,1578.3 1248.74,1577.98 1249.25,1578.41 1249.75,1578.24 1250.25,1578.33 1250.75,1578.6 1251.25,1578.25 1251.76,1578.12 1252.26,1578.33 1252.76,1578.31 1253.26,1578.04 1253.77,1578.54 1254.27,1578.58 1254.77,1578.42 1255.27,1578.53 1255.77,1578.05 1256.28,1578.24 1256.78,1578.46 1257.28,1578.42 1257.78,1577.76 1258.28,1578.41 1258.79,1578.44 1259.29,1578.24 1259.79,1578.18 1260.29,1578.26 1260.8,1578.47 1261.3,1578.52 1261.8,1578.19 1262.3,1578.31 1262.8,1578.61 1263.31,1578.08 1263.81,1578.15 1264.31,1578.35 1264.81,1578.35 1265.31,1578.26 1265.82,1578.43 1266.32,1578.55 1266.82,1578.24 1267.32,1578.57 1267.83,1578.23 1268.33,1578.57 1268.83,1578.32 1269.33,1578.33 1269.83,1577.96 1270.34,1578.5 1270.84,1578.57 1271.34,1578.42 1271.84,1578.51 1272.35,1578.41 1272.85,1578.22 1273.35,1578.15 1273.85,1577.99 1274.35,1578.44 1274.86,1577.8 1275.36,1577.93 1275.86,1578.34 1276.36,1578.73 1276.86,1578.32 1277.37,1578.29 1277.87,1578.73 1278.37,1578.29 1278.87,1578.34 1279.38,1578.45 1279.88,1578.18 1280.38,1578.11 1280.88,1578.39 1281.38,1578.26 1281.89,1578.42 1282.39,1578.45 1282.89,1578.29 1283.39,1578.2 1283.89,1578.41 1284.4,1578.72 1284.9,1578.19 1285.4,1578.6 1285.9,1578.28 1286.41,1577.97 1286.91,1578.3 1287.41,1578.52 1287.91,1578.57 1288.41,1578.08 1288.92,1578.3 1289.42,1578.2 1289.92,1578.13 1290.42,1578.31 1290.93,1578.36 1291.43,1578.48 1291.93,1578.88 1292.43,1578.59 1292.93,1578.31 1293.44,1578.33 1293.94,1578.22 1294.44,1578.32 1294.94,1578.27 1295.44,1578.15 1295.95,1578.47 1296.45,1578.35 1296.95,1578.6 1297.45,1578.12 1297.96,1578.29 1298.46,1578.21 1298.96,1578.01 1299.46,1578.1 1299.96,1578.31 1300.47,1578.13 1300.97,1578.51 1301.47,1578.12 1301.97,1578.14 1302.47,1578.42 1302.98,1577.81 1303.48,1578.13 1303.98,1577.81 1304.48,1577.95 1304.99,1577.61 1305.49,1577.38 1305.99,1577.58 1306.49,1577.47 1306.99,1576.95 1307.5,1576.49 1308,1576.44 1308.5,1576.18 1309,1575.67 1309.51,1575.98 1310.01,1575.29 1310.51,1575.6 1311.01,1574.29 1311.51,1574.49 1312.02,1574.32 1312.52,1573.48 1313.02,1573.62 1313.52,1572.29 1314.02,1572.13 1314.53,1571.42 1315.03,1571.08 1315.53,1569.63 1316.03,1569.7 1316.54,1568.84 1317.04,1568.37 1317.54,1568.6 1318.04,1567.31 1318.54,1566.92 1319.05,1566.42 1319.55,1566.29 1320.05,1565.78 1320.55,1564.57 1321.05,1563.27 1321.56,1564.46 1322.06,1563.19 1322.56,1563.2 1323.06,1562.05 1323.57,1561.74 1324.07,1560.89 1324.57,1562.55 1325.07,1560.81 1325.57,1560.53 1326.08,1559.54 1326.58,1559.42 1327.08,1558.9 1327.58,1557.69 1328.08,1556.58 1328.59,1558.88 1329.09,1557.23 1329.59,1556.65 1330.09,1556.62 1330.6,1556.65 1331.1,1557.11 1331.6,1556.92 1332.1,1556.05 1332.6,1555.93 1333.11,1556.56 1333.61,1557.13 1334.11,1556.51 1334.61,1556.56 1335.12,1555.94 1335.62,1556 1336.12,1556.23 1336.62,1555.61 1337.12,1556.26 1337.63,1555.03 1338.13,1554.72 1338.63,1555.93 1339.13,1554.85 1339.63,1552.4 1340.14,1546.27 1340.64,1541.03 1341.14,1537.28 1341.64,1534.26 1342.15,1533.02 1342.65,1531.3 1343.15,1529.76 1343.65,1528.13 1344.15,1527.36 1344.66,1527.58 1345.16,1528.78 1345.66,1529.7 1346.16,1530.99 1346.66,1529.42 1347.17,1526.37 1347.67,1522.44 1348.17,1521.65 1348.67,1521.95 1349.18,1522.32 1349.68,1523.61 1350.18,1525.06 1350.68,1521.38 1351.18,1513.23 1351.69,1510.19 1352.19,1507.47 1352.69,1504.5 1353.19,1504.95 1353.7,1506.64 1354.2,1510.06 1354.7,1514.65 1355.2,1518.86 1355.7,1522.94 1356.21,1525.45 1356.71,1526.88 1357.21,1525.64 1357.71,1520 1358.21,1510.39 1358.72,1494.97 1359.22,1493.46 1359.72,1492.15 1360.22,1491.83 1360.73,1489.1 1361.23,1489.71 1361.73,1492.66 1362.23,1495.95 1362.73,1498.74 1363.24,1501.59 1363.74,1503.39 1364.24,1503.44 1364.74,1492.65 1365.24,1478.39 1365.75,1468.71 1366.25,1460.59 1366.75,1453.75 1367.25,1448.1 1367.76,1456.96 1368.26,1459.69 1368.76,1463.11 1369.26,1459.47 1369.76,1454.03 1370.27,1451.85 1370.77,1450.15 1371.27,1452.15 1371.77,1457.11 1372.28,1460.83 1372.78,1463.22 1373.28,1467.62 1373.78,1474.14 1374.28,1480.94 1374.79,1487.11 1375.29,1490.65 1375.79,1489.61 1376.29,1486.11 1376.79,1482.44 1377.3,1478.07 1377.8,1472.8 1378.3,1468.45 1378.8,1464.64 1379.31,1459.43 1379.81,1456.02 1380.31,1453.87 1380.81,1457.91 1381.31,1461.41 1381.82,1464.32 1382.32,1463.59 1382.82,1446.11 1383.32,1445.04 1383.82,1444.75 1384.33,1445.85 1384.83,1447.29 1385.33,1443.05 1385.83,1435.98 1386.34,1430.78 1386.84,1432.33 1387.34,1436.82 1387.84,1441.67 1388.34,1443.47 1388.85,1445.66 1389.35,1453.36 1389.85,1459.83 1390.35,1453.41 1390.85,1446.66 1391.36,1442.99 1391.86,1442.11 1392.36,1442.88 1392.86,1445.06 1393.37,1447.95 1393.87,1465.6 1394.37,1471.58 1394.87,1475.91 1395.37,1471.14 1395.88,1464.4 1396.38,1462.71 1396.88,1470.16 1397.38,1479.09 1397.89,1476.79 1398.39,1471.83 1398.89,1467.13 1399.39,1460.23 1399.89,1447.79 1400.4,1436.22 1400.9,1427.14 1401.4,1422.53 1401.9,1427.4 1402.4,1433.63 1402.91,1447.04 1403.41,1456.68 1403.91,1464.21 1404.41,1454 1404.92,1447.94 1405.42,1443.74 1405.92,1431.06 1406.42,1416.65 1406.92,1394.02 1407.43,1369.19 1407.93,1356.7 1408.43,1347.71 1408.93,1338.23 1409.43,1331.23 1409.94,1341.46 1410.44,1359.29 1410.94,1370.22 1411.44,1382.38 1411.95,1410.71 1412.45,1424.63 1412.95,1434.27 1413.45,1425.81 1413.95,1412.04 1414.46,1399.04 1414.96,1382.41 1415.46,1365.28 1415.96,1329.87 1416.47,1314.55 1416.97,1306.32 1417.47,1306.72 1417.97,1309.22 1418.47,1330.15 1418.98,1352.94 1419.48,1345.25 1419.98,1336.27 1420.48,1337.13 1420.98,1337.54 1421.49,1365.72 1421.99,1400.96 1422.49,1412.52 1422.99,1388.41 1423.5,1329.63 1424,1307.88 1424.5,1288.2 1425,1262.16 1425.5,1276.83 1426.01,1281.7 1426.51,1286.56 1427.01,1286.99 1427.51,1287.08 1428.01,1294.97 1428.52,1305.84 1429.02,1341.9 1429.52,1364.04 1430.02,1390 1430.53,1424.69 1431.03,1434.05 1431.53,1426.28 1432.03,1417.95 1432.53,1406.74 1433.04,1395.29 1433.54,1382.73 1434.04,1374.49 1434.54,1375.85 1435.05,1377.78 1435.55,1382.55 1436.05,1386.23 1436.55,1364.97 1437.05,1349.5 1437.56,1339.01 1438.06,1345.6 1438.56,1353.32 1439.06,1369.75 1439.56,1388.71 1440.07,1417.89 1440.57,1427.94 1441.07,1419.69 1441.57,1405.8 1442.08,1386.15 1442.58,1380.81 1443.08,1385.39 1443.58,1388.76 1444.08,1398.85 1444.59,1409.3 1445.09,1416.32 1445.59,1420.27 1446.09,1412.6 1446.59,1399.99 1447.1,1377.6 1447.6,1369.91 1448.1,1378.24 1448.6,1388.58 1449.11,1401.45 1449.61,1412.04 1450.11,1421.38 1450.61,1406.48 1451.11,1397.51 1451.62,1391.6 1452.12,1397.95 1452.62,1403.47 1453.12,1413.7 1453.62,1400.63 1454.13,1376.14 1454.63,1367.42 1455.13,1362.34 1455.63,1359.76 1456.14,1356.22 1456.64,1350.84 1457.14,1346.23 1457.64,1343.43 1458.14,1340.49 1458.65,1340.78 1459.15,1340.92 1459.65,1339.93 1460.15,1338.43 1460.66,1339.77 1461.16,1338.32 1461.66,1337.77 1462.16,1334.99 1462.66,1332.85 1463.17,1332.19 1463.67,1329.79 1464.17,1326.69 1464.67,1324.55 1465.17,1321.97 1465.68,1318.78 1466.18,1315.94 1466.68,1311.13 1467.18,1309.04 1467.69,1305.81 1468.19,1303.87 1468.69,1303.1 1469.19,1302.25 1469.69,1300.81 1470.2,1300.62 1470.7,1300.19 1471.2,1302.61 1471.7,1303.35 1472.2,1311.61 1472.71,1319.31 1473.21,1319.58 1473.71,1319.89 1474.21,1319.48 1474.72,1317.35 1475.22,1312.36 1475.72,1304.32 1476.22,1300.25 1476.72,1297.34 1477.23,1294.94 1477.73,1292.17 1478.23,1288.03 1478.73,1285.98 1479.24,1283.14 1479.74,1281.18 1480.24,1282.9 1480.74,1288.67 1481.24,1292.96 1481.75,1299.81 1482.25,1307.21 1482.75,1315.02 1483.25,1321.14 1483.75,1325.97 1484.26,1327.54 1484.76,1328.43 1485.26,1329.36 1485.76,1353.24 1486.27,1379.88 1486.77,1406.48 1487.27,1433.28 1487.77,1460.26 1488.27,1482.92 1488.78,1503.46 1489.28,1512.76 1489.78,1519.39 1490.28,1522.23 1490.78,1524.76 1491.29,1522.37 1491.79,1516.68 1492.29,1512.68 1492.79,1506.32 1493.3,1500.96 1493.8,1498.04 1494.3,1497.15 1494.8,1496.08 1495.3,1494.89 1495.81,1494.72 1496.31,1495.96 1496.81,1498.15 1497.31,1494.94 1497.82,1489.16 1498.32,1482.67 1498.82,1470.92 1499.32,1459.41 1499.82,1450.31 1500.33,1441.26 1500.83,1435.55 1501.33,1431.4 1501.83,1431.3 1502.33,1429.73 1502.84,1429.24 1503.34,1427.9 1503.84,1426.36 1504.34,1424.52 1504.85,1420.58 1505.35,1416.89 1505.85,1415.57 1506.35,1414.31 1506.85,1413.71 1507.36,1416.8 1507.86,1420.4 1508.36,1419.67 1508.86,1416.59 1509.36,1403.78 1509.87,1388.27 1510.37,1377.53 1510.87,1367.64 1511.37,1361.97 1511.88,1364.83 1512.38,1372.25 1512.88,1378.96 1513.38,1387.71 1513.88,1397.09 1514.39,1414.39 1514.89,1433.44 1515.39,1452.27 1515.89,1468.68 1516.39,1478.66 1516.9,1485.87 1517.4,1486.61 1517.9,1487.23 1518.4,1479.43 1518.91,1467.71 1519.41,1453.06 1519.91,1434.21 1520.41,1414.78 1520.91,1398.58 1521.42,1386.92 1521.92,1374.92 1522.42,1364.19 1522.92,1351.49 1523.43,1338.18 1523.93,1325.06 1524.43,1311.94 1524.93,1295.62 1525.43,1283.78 1525.94,1273.11 1526.44,1248.82 1526.94,1218.63 1527.44,1202.85 1527.94,1191.31 1528.45,1217.64 1528.95,1247.55 1529.45,1298.96 1529.95,1374.22 1530.46,1458.59 1530.96,1514.39 1531.46,1543.29 1531.96,1544.81 1532.46,1544.95 1532.97,1545.44 1533.47,1544.98 1533.97,1546.37 1534.47,1546.21 1534.97,1546.71 1535.48,1544.64 1535.98,1544.11 1536.48,1543.38 1536.98,1542.26 1537.49,1540.27 1537.99,1538.21 1538.49,1535.51 1538.99,1532.82 1539.49,1528.82 1540,1526.74 1540.5,1525.34 1541,1523.23 1541.5,1520.51 1542.01,1519.71 1542.51,1519.52 1543.01,1519.12 1543.51,1525.15 1544.01,1531.84 1544.52,1535.75 1545.02,1538.18 1545.52,1538.44 1546.02,1540.19 1546.52,1541.07 1547.03,1541.75 1547.53,1541.47 1548.03,1542.37 1548.53,1542.78 1549.04,1541.93 1549.54,1543.32 1550.04,1543.03 1550.54,1540.19 1551.04,1541.12 1551.55,1539.96 1552.05,1538.63 1552.55,1537.23 1553.05,1536.43 1553.55,1536.28 1554.06,1536.96 1554.56,1538.29 1555.06,1539.87 1555.56,1539.94 1556.07,1540.06 1556.57,1539.37 1557.07,1539.75 1557.57,1539.02 1558.07,1541.45 1558.58,1543.7 1559.08,1546.85 1559.58,1548.89 1560.08,1551.06 1560.59,1553.23 1561.09,1554.58 1561.59,1555.66 1562.09,1557.35 1562.59,1559.21 1563.1,1559.37 1563.6,1559.19 1564.1,1559.23 1564.6,1558.52 1565.1,1558.18 1565.61,1558.18 1566.11,1558.06 1566.61,1558.01 1567.11,1558.77 1567.62,1560.02 1568.12,1559.45 1568.62,1560.34 1569.12,1561.93 1569.62,1562.36 1570.13,1562.57 1570.63,1562.47 1571.13,1561.99 1571.63,1562.34 1572.13,1562.58 1572.64,1563.04 1573.14,1563.6 1573.64,1564.65 1574.14,1569.45 1574.65,1571.03 1575.15,1572.88 1575.65,1572.54 1576.15,1570.17 1576.65,1570.01 1577.16,1569.48 1577.66,1568.19 1578.16,1569.4 1578.66,1570.76 1579.16,1570.71 1579.67,1572.52 1580.17,1573.48 1580.67,1574.39 1581.17,1573.91 1581.68,1574.08 1582.18,1573.91 1582.68,1573.52 1583.18,1573.24 1583.68,1573.49 1584.19,1573.02 1584.69,1574.24 1585.19,1573.51 1585.69,1573.78 1586.2,1574.57 1586.7,1574.57 1587.2,1573.82 1587.7,1574.09 1588.2,1572.68 1588.71,1572.1 1589.21,1572.18 1589.71,1571.06 1590.21,1570.06 1590.71,1569.65 1591.22,1569.29 1591.72,1569.57 1592.22,1569.31 1592.72,1568.99 1593.23,1568.14 1593.73,1566.87 1594.23,1567.14 1594.73,1566.77 1595.23,1566.62 1595.74,1567.96 1596.24,1566.81 1596.74,1566.58 1597.24,1565.27 1597.74,1564.65 1598.25,1565.62 1598.75,1564.88 1599.25,1564.25 1599.75,1564.54 1600.26,1564.31 1600.76,1564.05 1601.26,1562.9 1601.76,1563.7 1602.26,1562.43 1602.77,1562.91 1603.27,1562.44 1603.77,1561.92 1604.27,1563.12 1604.78,1564 1605.28,1564.46 1605.78,1566.09 1606.28,1565.68 1606.78,1564.95 1607.29,1564.39 1607.79,1564.82 1608.29,1564.12 1608.79,1563.37 1609.29,1562.75 1609.8,1564.43 1610.3,1562.4 1610.8,1562.45 1611.3,1563.35 1611.81,1563.32 1612.31,1561.97 1612.81,1562.17 1613.31,1561.62 1613.81,1561.07 1614.32,1561.92 1614.82,1561.85 1615.32,1561.96 1615.82,1562.04 1616.32,1561.88 1616.83,1562.23 1617.33,1563.41 1617.83,1564.08 1618.33,1563.01 1618.84,1564.37 1619.34,1564.82 1619.84,1565.88 1620.34,1564.99 1620.84,1566.03 1621.35,1566.03 1621.85,1566.75 1622.35,1567 1622.85,1567.6 1623.36,1569.4 1623.86,1569.77 1624.36,1569.58 1624.86,1570.42 1625.36,1570.23 1625.87,1569.7 1626.37,1569.74 1626.87,1568.42 1627.37,1569.73 1627.87,1569.37 1628.38,1569.98 1628.88,1571.76 1629.38,1571.44 1629.88,1572.08 1630.39,1572.67 1630.89,1571.98 1631.39,1571.57 1631.89,1570.63 1632.39,1570.07 1632.9,1570.91 1633.4,1570.16 1633.9,1569.41 1634.4,1569.37 1634.9,1571.91 1635.41,1570.38 1635.91,1571.68 1636.41,1571.07 1636.91,1572.5 1637.42,1572.93 1637.92,1572.21 1638.42,1571.22 1638.92,1571.44 1639.42,1572.35 1639.93,1570.26 1640.43,1571.26 1640.93,1570.63 1641.43,1570.47 1641.93,1570.58 1642.44,1569.97 1642.94,1569.51 1643.44,1568.95 1643.94,1568.31 1644.45,1568.19 1644.95,1568.66 1645.45,1568.09 1645.95,1567.69 1646.45,1567.98 1646.96,1568.69 1647.46,1568.6 1647.96,1568.61 1648.46,1568.5 1648.97,1568.4 1649.47,1569.62 1649.97,1569.67 1650.47,1568.77 1650.97,1568.82 1651.48,1569.07 1651.98,1571.54 1652.48,1570.66 1652.98,1572.71 1653.48,1570.82 1653.99,1571.56 1654.49,1572.02 1654.99,1572.61 1655.49,1572.23 1656,1573.42 1656.5,1572.95 1657,1573.45 1657.5,1573.71 1658,1573.65 1658.51,1573.85 1659.01,1574.53 1659.51,1573.5 1660.01,1573.4 1660.51,1573.71 1661.02,1572.99 1661.52,1572.17 1662.02,1572.75 1662.52,1572.67 1663.03,1573.72 1663.53,1574.86 1664.03,1574.98 1664.53,1576.45 1665.03,1576.91 1665.54,1576.94 1666.04,1577.26 1666.54,1577.6 1667.04,1576.79 1667.55,1578.47 1668.05,1578.15 1668.55,1579.04 1669.05,1578.27 1669.55,1578.14 1670.06,1578.13 1670.56,1578.47 1671.06,1578.4 1671.56,1578.1 1672.06,1578.35 1672.57,1578.15 1673.07,1578.51 1673.57,1578.06 1674.07,1578.12 1674.58,1578.22 1675.08,1578.46 1675.58,1578.33 1676.08,1578.27 1676.58,1578.25 1677.09,1578.32 1677.59,1578.34 1678.09,1578.26 1678.59,1578.04 1679.09,1578.68 1679.6,1578.56 1680.1,1578.59 1680.6,1578.43 1681.1,1578.63 1681.61,1578.2 1682.11,1578.28 1682.61,1578.35 1683.11,1578.43 1683.61,1578.27 1684.12,1578.27 1684.62,1578.24 1685.12,1578.44 1685.62,1578.18 1686.13,1578.58 1686.63,1578.06 1687.13,1578.88 1687.63,1578.41 1688.13,1578.53 1688.64,1578.15 1689.14,1578.58 1689.64,1577.96 1690.14,1578.59 1690.64,1577.92 1691.15,1578.22 1691.65,1578.29 1692.15,1578.22 1692.65,1577.89 1693.16,1578.13 1693.66,1578.72 1694.16,1578.08 1694.66,1578.26 1695.16,1578.6 1695.67,1578.16 1696.17,1578.53 1696.67,1578.27 1697.17,1578.26 1697.67,1578.42 1698.18,1578.18 1698.68,1578.49 1699.18,1578.26 1699.68,1578.4 1700.19,1578.33 1700.69,1577.94 1701.19,1578.28 1701.69,1578.5 1702.19,1578.32 1702.7,1578.44 1703.2,1578.3 1703.7,1578.27 1704.2,1578.28 1704.7,1578.28 1705.21,1578.4 1705.71,1578.22 1706.21,1578.1 1706.71,1578.42 1707.22,1578.31 1707.72,1578.29 1708.22,1578.06 1708.72,1578.1 1709.22,1578.44 1709.73,1578.29 1710.23,1578.58 1710.73,1578.48 1711.23,1578.3 1711.74,1578.18 1712.24,1578.12 1712.74,1578.36 1713.24,1578.55 1713.74,1578.23 1714.25,1578.33 1714.75,1578.22 1715.25,1578.27 1715.75,1578.17 1716.25,1578.18 1716.76,1578.14 1717.26,1578.39 1717.76,1578.11 1718.26,1578.39 1718.77,1578.28 1719.27,1577.95 1719.77,1578.23 1720.27,1578.52 1720.77,1578.02 1721.28,1578.11 1721.78,1578.09 1722.28,1578.26 1722.78,1578.23 1723.28,1578.34 1723.79,1578.43 1724.29,1578.01 1724.79,1578.37 1725.29,1578.39 1725.8,1578.38 1726.3,1577.95 1726.8,1578.13 1727.3,1578.37 1727.8,1578.31 1728.31,1578.2 1728.81,1578.13 1729.31,1578.6 1729.81,1578.13 1730.32,1578.34 1730.82,1578.43 1731.32,1578.37 1731.82,1578.15 1732.32,1577.97 1732.83,1578.27 1733.33,1578.2 1733.83,1578.45 1734.33,1578.21 1734.83,1578.15 1735.34,1578.58 1735.84,1578.4 1736.34,1578.15 1736.84,1578.63 1737.35,1578.37 1737.85,1578.19 1738.35,1578.62 1738.85,1578.37 1739.35,1578.29 1739.86,1578.13 1740.36,1578.54 1740.86,1578.09 1741.36,1578.24 1741.86,1578.07 1742.37,1578.08 1742.87,1578.24 1743.37,1578.21 1743.87,1578.63 1744.38,1578.55 1744.88,1578.49 1745.38,1578.37 1745.88,1578.12 1746.38,1578.64 1746.89,1578.36 1747.39,1578.55 1747.89,1578.59 1748.39,1578.02 1748.9,1578.28 1749.4,1577.99 1749.9,1578.08 1750.4,1578.47 1750.9,1578.65 1751.41,1577.91 1751.91,1578.38 1752.41,1578.52 1752.91,1578.17 1753.41,1578.27 1753.92,1578.43 1754.42,1578.37 1754.92,1578.27 1755.42,1578.29 1755.93,1578.16 1756.43,1578.37 1756.93,1578.36 1757.43,1578.19 1757.93,1578.24 1758.44,1578.09 1758.94,1578.35 1759.44,1578.32 1759.94,1578.52 1760.44,1578.02 1760.95,1578.56 1761.45,1578.26 1761.95,1578.47 1762.45,1578.24 1762.96,1578.16 1763.46,1578.61 1763.96,1578.34 1764.46,1578.63 1764.96,1578.04 1765.47,1578.38 1765.97,1578.6 1766.47,1578.43 1766.97,1578.05 1767.47,1578.02 1767.98,1578.06 1768.48,1578.45 1768.98,1578.33 1769.48,1577.99 1769.99,1578.44 1770.49,1578.36 1770.99,1578.48 1771.49,1578.52 1771.99,1578.07 1772.5,1578.18 1773,1578.22 1773.5,1578.19 1774,1578.11 1774.51,1578.02 1775.01,1578.3 1775.51,1578.36 1776.01,1578.49 1776.51,1578.1 1777.02,1578.4 1777.52,1578.58 1778.02,1578.35 1778.52,1578.3 1779.02,1578.14 1779.53,1578.11 1780.03,1578.44 1780.53,1578.45 1781.03,1578.36 1781.54,1578.53 1782.04,1578.32 1782.54,1578.21 1783.04,1578.29 1783.54,1578.6 1784.05,1578.52 1784.55,1578.06 1785.05,1578.49 1785.55,1578.16 1786.05,1578.18 1786.56,1578.36 1787.06,1578.49 1787.56,1578.26 1788.06,1578.47 1788.57,1578.33 1789.07,1578.28 1789.57,1578.43 1790.07,1578.34 1790.57,1578.36 1791.08,1578.53 1791.58,1578.34 1792.08,1578.42 1792.58,1578.64 1793.09,1578.36 1793.59,1578.35 1794.09,1578.41 1794.59,1578.69 1795.09,1578.15 1795.6,1578.17 1796.1,1578.18 1796.6,1578.24 1797.1,1578.54 1797.6,1578.28 1798.11,1578.47 1798.61,1577.89 1799.11,1578.4 1799.61,1578.17 1800.12,1578.59 1800.62,1578.52 1801.12,1578.4 1801.62,1578.17 1802.12,1578.2 1802.63,1578.25 1803.13,1578.65 1803.63,1578.09 1804.13,1578.47 1804.63,1578 1805.14,1577.95 1805.64,1578.14 1806.14,1578.11 1806.64,1578.54 1807.15,1577.81 1807.65,1578.26 1808.15,1578.11 1808.65,1578.46 1809.15,1578.31 1809.66,1578.52 1810.16,1578.35 1810.66,1578.3 1811.16,1578.25 1811.67,1578.04 1812.17,1578.21 1812.67,1578.25 1813.17,1578.29 1813.67,1577.92 1814.18,1578.41 1814.68,1578.08 1815.18,1578.67 1815.68,1578.47 1816.18,1578.22 1816.69,1578.33 1817.19,1577.73 1817.69,1577.81 1818.19,1578.59 1818.7,1578.5 1819.2,1578.33 1819.7,1577.97 1820.2,1578.09 1820.7,1578.24 1821.21,1578.57 1821.71,1578.46" fill="none" stroke="#56B4E9" stroke-width="2.1" stroke-linejoin="round" stroke-linecap="square"/>
</g>
<path d="M1099.1 1598.9v4.86M1199.53 1598.9v4.86M1299.96 1598.9v4.86M1400.4 1598.9v4.86M1500.83 1598.9v4.86M1601.26 1598.9v4.86M1701.69 1598.9v4.86M1802.12 1598.9v4.86M1099.1 1578.3h-4.86M1099.1 1515.57h-4.86M1099.1 1452.84h-4.86M1099.1 1390.11h-4.86M1099.1 1327.38h-4.86M1099.1 1264.65h-4.86M1099.1 1201.92h-4.86" stroke="#000" stroke-width="1.11" fill="none"/>
<rect x="1099.1" y="1172.95" width="714.57" height="425.95" fill="none" stroke="#000" stroke-width="1.11"/>
<text x="1099.1" y="1627.9" font-size="25.8" text-anchor="middle">0</text>
<text x="1199.53" y="1627.9" font-size="25.8" text-anchor="middle">200</text>
<text x="1299.96" y="1627.9" font-size="25.8" text-anchor="middle">400</text>
<text x="1400.4" y="1627.9" font-size="25.8" text-anchor="middle">600</text>
<text x="1500.83" y="1627.9" font-size="25.8" text-anchor="middle">800</text>
<text x="1601.26" y="1627.9" font-size="25.8" text-anchor="middle">1000</text>
<text x="1701.69" y="1627.9" font-size="25.8" text-anchor="middle">1200</text>
<text x="1802.12" y="1627.9" font-size="25.8" text-anchor="middle">1400</text>
<text x="1090.8" y="1588" font-size="25.8" text-anchor="end">0</text>
<text x="1090.8" y="1525.27" font-size="25.8" text-anchor="end">1</text>
<text x="1090.8" y="1462.54" font-size="25.8" text-anchor="end">2</text>
<text x="1090.8" y="1399.81" font-size="25.8" text-anchor="end">3</text>
<text x="1090.8" y="1337.08" font-size="25.8" text-anchor="end">4</text>
<text x="1090.8" y="1274.35" font-size="25.8" text-anchor="end">5</text>
<text x="1090.8" y="1211.62" font-size="25.8" text-anchor="end">6</text>
<text x="1099.1" y="1169.15" font-size="25.8">1e2</text>
<text y="1657.25" font-size="25.8"><tspan x="1424.3">Time</tspan> <tspan x="1496.1" dy="-1.9" font-size="21" letter-spacing="-0.35">(minute)</tspan></text>
<text transform="translate(1063.55 1453.55) rotate(-90)" font-size="25.8"><tspan x="0" letter-spacing="-0.45">Magnitude</tspan> <tspan x="143" dy="-1.7" font-size="21" letter-spacing="-0.5">(W/m^2)</tspan></text>
<rect x="1588.4" y="1185.8" width="212.1" height="83.1" rx="5.3" ry="5.3" fill="#fff" fill-opacity="0.8" stroke="#ccc" stroke-width="1.3"/>
<path d="M1598.4 1206.3h51.7" stroke="#E69F00" stroke-width="2.1" stroke-linecap="square"/>
<path d="M1598.4 1243.9h51.7" stroke="#56B4E9" stroke-width="2.1" stroke-linecap="square"/>
<text x="1670.4" y="1215.7" font-size="25.8">Predicted</text>
<text x="1670.4" y="1253.3" font-size="25.8">Test</text>
</g>
</svg></body></html>
